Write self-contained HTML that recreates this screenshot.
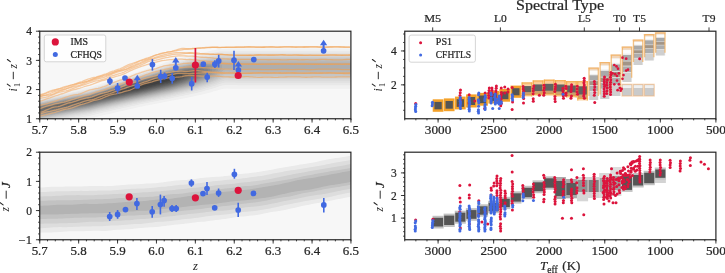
<!DOCTYPE html>
<html><head><meta charset="utf-8"><style>
html,body{margin:0;padding:0;background:#fff;}
svg{display:block;font-family:"Liberation Serif",serif;transform:translateZ(0);}
text{stroke:#262626;stroke-width:0.22px;}
.yl text{stroke-width:0;}
</style></head><body>
<svg width="725" height="273" viewBox="0 0 725 273" fill="#262626">
<defs><clipPath id="cTL"><rect x="39.5" y="31" width="311" height="87.5"/></clipPath><clipPath id="cBL"><rect x="39.5" y="152" width="311" height="87.5"/></clipPath><clipPath id="cTR"><rect x="404.5" y="31" width="311" height="87.5"/></clipPath><clipPath id="cBR"><rect x="404.5" y="152" width="311" height="87.5"/></clipPath><filter id="b1" x="-20%" y="-50%" width="140%" height="200%"><feGaussianBlur stdDeviation="1"/></filter><filter id="b2" x="-20%" y="-50%" width="140%" height="200%"><feGaussianBlur stdDeviation="2"/></filter><filter id="b3" x="-20%" y="-50%" width="140%" height="200%"><feGaussianBlur stdDeviation="3"/></filter><linearGradient id="og" gradientUnits="userSpaceOnUse" x1="150" y1="0" x2="240" y2="0"><stop offset="0" stop-color="#f4b070" stop-opacity="0.62"/><stop offset="1" stop-color="#f0a050" stop-opacity="0.58"/></linearGradient><filter id="b05" x="-20%" y="-50%" width="140%" height="200%"><feGaussianBlur stdDeviation="0.6"/></filter></defs>
<g id="tl">
<rect x="39.5" y="31" width="311" height="87.5" fill="#f7f7f7"/>
</g>
<rect x="39.5" y="152" width="311" height="87.5" fill="#f7f7f7"/>
<rect x="404.5" y="31" width="311" height="87.5" fill="#ffffff"/>
<rect x="404.5" y="152" width="311" height="87.5" fill="#ffffff"/>
<g clip-path="url(#cTL)">
<path d="M28 98.25 L30 98.25 L32 97.75 L34 97.5 L36 97 L38 96.75 L40 96.25 L42 96 L44 95.75 L46 95.25 L48 95 L50 94.5 L52 94.25 L54 93.75 L56 93.5 L58 93 L60 92.75 L62 92.25 L64 92 L66 91.5 L68 91.25 L70 90.75 L72 90.5 L74 90 L76 89.75 L78 89.25 L80 89 L82 88.5 L84 88.25 L86 87.75 L88 87.5 L90 87 L92 86.5 L94 86 L96 85.25 L98 84.75 L100 84.25 L102 83.5 L104 83 L106 82.25 L108 81.75 L110 81 L112 80.5 L114 79.75 L116 79.25 L118 78.5 L120 77.75 L122 77.25 L124 76.5 L126 76 L128 75.25 L130 74.75 L132 74 L134 73.25 L136 72.75 L138 72 L140 71.25 L142 70.75 L144 70 L146 69.25 L148 68.5 L150 68 L152 67.25 L154 66.5 L156 65.75 L158 65 L160 64.5 L162 63.75 L164 63 L166 62.25 L168 61.75 L170 61 L172 60.5 L174 60 L176 59.5 L178 58.75 L180 58.25 L182 57.75 L184 57.25 L186 56.75 L188 56.25 L190 55.75 L192 55.25 L194 54.75 L196 54.25 L198 53.75 L200 53.25 L202 52.75 L204 52.5 L206 52 L208 51.5 L210 51 L212 50.5 L214 50.25 L216 49.75 L218 49.25 L220 48.75 L222 48.75 L224 48.75 L226 48.75 L228 48.75 L230 48.5 L232 48.5 L234 48.5 L236 48.5 L238 48.5 L240 48.5 L242 48.5 L244 48.5 L246 48.5 L248 48.5 L250 48.5 L252 48.5 L254 48.5 L256 48.5 L258 48.5 L260 48.5 L262 48.5 L264 48.5 L266 48.5 L268 48.5 L270 48.5 L272 48.5 L274 48.5 L276 48.5 L278 48.5 L280 48.5 L282 48.5 L284 48.5 L286 48.5 L288 48.5 L290 48.5 L292 48.5 L294 48.5 L296 48.5 L298 48.5 L300 48.5 L302 48.5 L304 48.5 L306 48.5 L308 48.5 L310 48.5 L312 48.5 L314 48.5 L316 48.5 L318 48.5 L320 48.5 L322 48.5 L324 48.5 L326 48.5 L328 48.5 L330 48.5 L332 48.5 L334 48.5 L336 48.5 L338 48.5 L340 48.5 L342 48.5 L344 48.5 L346 48.5 L348 48.5 L350 48.5 L352 48.5 L354 48.5 L356 48.5 L358 48.5 L360 48.5 L362 48.5 L362 88.75 L360 88.75 L358 88.75 L356 88.75 L354 88.75 L352 88.75 L350 88.75 L348 88.75 L346 88.75 L344 88.75 L342 88.75 L340 88.75 L338 88.75 L336 88.75 L334 88.75 L332 88.75 L330 88.75 L328 88.75 L326 88.75 L324 88.75 L322 88.75 L320 88.75 L318 88.75 L316 88.75 L314 88.75 L312 88.75 L310 88.75 L308 88.75 L306 88.75 L304 88.75 L302 88.75 L300 88.75 L298 88.75 L296 88.75 L294 88.75 L292 88.75 L290 88.75 L288 88.75 L286 88.75 L284 88.75 L282 88.75 L280 88.75 L278 88.75 L276 88.75 L274 88.75 L272 88.75 L270 88.75 L268 88.75 L266 88.75 L264 88.75 L262 88.75 L260 88.75 L258 88.75 L256 88.75 L254 88.75 L252 88.75 L250 88.75 L248 88.75 L246 88.75 L244 88.75 L242 88.75 L240 88.75 L238 88.75 L236 88.75 L234 88.75 L232 88.75 L230 88.75 L228 88.5 L226 88.5 L224 88.75 L222 89 L220 89.5 L218 90.25 L216 90.75 L214 91.25 L212 92 L210 92.5 L208 93 L206 93.5 L204 94 L202 94.5 L200 95 L198 95.25 L196 95.75 L194 96.25 L192 96.75 L190 97 L188 97.5 L186 98 L184 98.25 L182 98.75 L180 99 L178 99.5 L176 99.75 L174 100.25 L172 100.5 L170 101 L168 101.25 L166 101.75 L164 102 L162 102.5 L160 103 L158 103.25 L156 103.75 L154 104 L152 104.5 L150 104.75 L148 105.25 L146 105.5 L144 106 L142 106.5 L140 106.75 L138 107.25 L136 107.75 L134 108.25 L132 108.75 L130 109 L128 109.5 L126 110 L124 110.5 L122 111 L120 111.25 L118 111.75 L116 112.25 L114 112.75 L112 113.25 L110 113.75 L108 114.25 L106 114.5 L104 115 L102 115.5 L100 116 L98 116.5 L96 117 L94 117.5 L92 118 L90 118.75 L88 119 L86 119.25 L84 119.5 L82 120 L80 120.25 L78 120.5 L76 120.75 L74 121.25 L72 121.5 L70 121.75 L68 122 L66 122.5 L64 122.75 L62 123 L60 123.25 L58 123.75 L56 124 L54 124.25 L52 124.75 L50 125 L48 125 L46 125 L44 125 L42 125 L40 125 L38 125 L36 125 L34 125 L32 125 L30 125 L28 125Z" fill="#f0f0f0" filter="url(#b05)"/>
<path d="M28 100.5 L30 100.5 L32 100 L34 99.75 L36 99.25 L38 99 L40 98.5 L42 98.25 L44 97.75 L46 97.5 L48 97 L50 96.75 L52 96.25 L54 96 L56 95.5 L58 95 L60 94.75 L62 94.25 L64 94 L66 93.5 L68 93.25 L70 92.75 L72 92.5 L74 92 L76 91.75 L78 91.25 L80 90.75 L82 90.5 L84 90 L86 89.75 L88 89.25 L90 89 L92 88.25 L94 87.75 L96 87.25 L98 86.5 L100 86 L102 85.5 L104 84.75 L106 84 L108 83.5 L110 82.75 L112 82.25 L114 81.5 L116 81 L118 80.25 L120 79.5 L122 79 L124 78.25 L126 77.75 L128 77 L130 76.25 L132 75.75 L134 75 L136 74.5 L138 73.75 L140 73.25 L142 72.5 L144 71.75 L146 71.25 L148 70.5 L150 69.75 L152 69 L154 68.5 L156 67.75 L158 67 L160 66.5 L162 65.75 L164 65 L166 64.5 L168 63.75 L170 63 L172 62.5 L174 62 L176 61.5 L178 61 L180 60.5 L182 60 L184 59.5 L186 59 L188 58.5 L190 58 L192 57.5 L194 57 L196 56.5 L198 56 L200 55.5 L202 55.25 L204 54.75 L206 54.5 L208 54 L210 53.75 L212 53.25 L214 52.75 L216 52.25 L218 52 L220 51.5 L222 51.5 L224 51.5 L226 51.5 L228 51.5 L230 51.5 L232 51.5 L234 51.25 L236 51.25 L238 51.25 L240 51.25 L242 51.25 L244 51.25 L246 51.25 L248 51.25 L250 51.25 L252 51.25 L254 51.25 L256 51.25 L258 51.25 L260 51.25 L262 51.25 L264 51.25 L266 51.25 L268 51.25 L270 51.25 L272 51.25 L274 51.25 L276 51.25 L278 51.25 L280 51.25 L282 51.25 L284 51.25 L286 51.25 L288 51.25 L290 51.25 L292 51.25 L294 51.25 L296 51.25 L298 51.25 L300 51.25 L302 51.25 L304 51.25 L306 51.25 L308 51.25 L310 51.25 L312 51.25 L314 51.25 L316 51.25 L318 51.25 L320 51.25 L322 51.25 L324 51.25 L326 51.25 L328 51.25 L330 51.25 L332 51.25 L334 51.25 L336 51.25 L338 51.25 L340 51.25 L342 51.25 L344 51.25 L346 51.25 L348 51.25 L350 51.25 L352 51.25 L354 51.25 L356 51.25 L358 51.25 L360 51.25 L362 51.25 L362 85.25 L360 85.25 L358 85.25 L356 85.25 L354 85.25 L352 85.25 L350 85.25 L348 85.25 L346 85.25 L344 85.25 L342 85.25 L340 85.25 L338 85.25 L336 85.25 L334 85.25 L332 85.25 L330 85.25 L328 85.25 L326 85.25 L324 85.25 L322 85.25 L320 85.25 L318 85.25 L316 85.25 L314 85.25 L312 85.25 L310 85.25 L308 85.25 L306 85.25 L304 85.25 L302 85.25 L300 85.25 L298 85.25 L296 85.25 L294 85.25 L292 85.25 L290 85.25 L288 85.25 L286 85.25 L284 85.25 L282 85.25 L280 85.25 L278 85.25 L276 85.25 L274 85.25 L272 85.25 L270 85.25 L268 85.25 L266 85.25 L264 85.25 L262 85.25 L260 85.25 L258 85.25 L256 85.25 L254 85.25 L252 85.25 L250 85.25 L248 85.25 L246 85.25 L244 85.25 L242 85.25 L240 85.25 L238 85.25 L236 85 L234 85 L232 85 L230 85 L228 85 L226 85 L224 85.25 L222 85.5 L220 86 L218 86.75 L216 87.5 L214 88 L212 88.75 L210 89.25 L208 89.75 L206 90.25 L204 91 L202 91.5 L200 92 L198 92.5 L196 93 L194 93.5 L192 93.75 L190 94.25 L188 94.75 L186 95 L184 95.5 L182 96 L180 96.25 L178 96.75 L176 97.25 L174 97.5 L172 98 L170 98.5 L168 98.75 L166 99.25 L164 99.5 L162 100 L160 100.25 L158 100.75 L156 101.25 L154 101.5 L152 102 L150 102.25 L148 102.75 L146 103.25 L144 103.5 L142 104 L140 104.25 L138 104.75 L136 105.25 L134 105.75 L132 106 L130 106.5 L128 107 L126 107.5 L124 107.75 L122 108.25 L120 108.75 L118 109.25 L116 109.5 L114 110 L112 110.5 L110 111 L108 111.5 L106 111.75 L104 112.25 L102 112.75 L100 113.25 L98 113.75 L96 114.25 L94 114.75 L92 115.25 L90 115.75 L88 116.25 L86 116.5 L84 116.75 L82 117 L80 117.5 L78 117.75 L76 118 L74 118.5 L72 118.75 L70 119 L68 119.25 L66 119.75 L64 120 L62 120.25 L60 120.75 L58 121 L56 121.25 L54 121.75 L52 122 L50 122.25 L48 122.5 L46 123 L44 123.25 L42 123.5 L40 124 L38 124.25 L36 124.5 L34 125 L32 125 L30 125 L28 125Z" fill="#e8e8e8" filter="url(#b05)"/>
<path d="M28 101.75 L30 101.75 L32 101.5 L34 101 L36 100.5 L38 100.25 L40 99.75 L42 99.5 L44 99 L46 98.75 L48 98.25 L50 98 L52 97.5 L54 97.25 L56 96.75 L58 96.25 L60 96 L62 95.5 L64 95.25 L66 94.75 L68 94.5 L70 94 L72 93.5 L74 93.25 L76 92.75 L78 92.5 L80 92 L82 91.5 L84 91.25 L86 90.75 L88 90.5 L90 90 L92 89.5 L94 88.75 L96 88.25 L98 87.75 L100 87.25 L102 86.5 L104 85.75 L106 85.25 L108 84.5 L110 84 L112 83.25 L114 82.75 L116 82 L118 81.25 L120 80.75 L122 80 L124 79.5 L126 78.75 L128 78.25 L130 77.5 L132 76.75 L134 76.25 L136 75.5 L138 75 L140 74.25 L142 73.75 L144 73 L146 72.25 L148 71.75 L150 71 L152 70.25 L154 69.75 L156 69 L158 68.25 L160 67.75 L162 67 L164 66.25 L166 65.75 L168 65 L170 64.5 L172 64 L174 63.5 L176 63 L178 62.5 L180 62 L182 61.5 L184 61 L186 60.5 L188 60 L190 59.5 L192 59 L194 58.5 L196 58 L198 57.5 L200 57.25 L202 56.75 L204 56.5 L206 56 L208 55.75 L210 55.25 L212 55 L214 54.5 L216 54.25 L218 53.75 L220 53.25 L222 53.25 L224 53.5 L226 53.5 L228 53.5 L230 53.25 L232 53.25 L234 53.25 L236 53.25 L238 53.25 L240 53.25 L242 53.25 L244 53.25 L246 53.25 L248 53.25 L250 53.25 L252 53.25 L254 53.25 L256 53.25 L258 53.25 L260 53.25 L262 53.25 L264 53.25 L266 53.25 L268 53.25 L270 53.25 L272 53.25 L274 53.25 L276 53.25 L278 53.25 L280 53.25 L282 53.25 L284 53.25 L286 53.25 L288 53.25 L290 53.25 L292 53.25 L294 53.25 L296 53.25 L298 53.25 L300 53.25 L302 53.25 L304 53.25 L306 53.25 L308 53.25 L310 53.25 L312 53.25 L314 53.25 L316 53.25 L318 53.25 L320 53.25 L322 53.25 L324 53.25 L326 53.25 L328 53.25 L330 53.25 L332 53.25 L334 53.25 L336 53.25 L338 53.25 L340 53.25 L342 53.25 L344 53.25 L346 53.25 L348 53.25 L350 53.25 L352 53.25 L354 53.25 L356 53.25 L358 53.25 L360 53.25 L362 53.25 L362 82.75 L360 82.75 L358 82.75 L356 82.75 L354 82.75 L352 82.75 L350 82.75 L348 82.75 L346 82.75 L344 82.75 L342 82.75 L340 82.75 L338 82.75 L336 82.75 L334 82.75 L332 82.75 L330 82.75 L328 82.75 L326 82.75 L324 82.75 L322 82.75 L320 82.75 L318 82.75 L316 82.75 L314 82.75 L312 82.75 L310 82.75 L308 82.75 L306 82.75 L304 82.75 L302 82.75 L300 82.75 L298 82.75 L296 82.75 L294 82.75 L292 82.75 L290 82.75 L288 82.75 L286 82.75 L284 82.75 L282 82.75 L280 82.75 L278 82.75 L276 82.75 L274 82.75 L272 82.75 L270 82.75 L268 82.75 L266 82.75 L264 82.75 L262 82.75 L260 82.75 L258 82.75 L256 82.75 L254 82.75 L252 82.75 L250 82.75 L248 82.75 L246 82.75 L244 82.75 L242 82.75 L240 82.75 L238 82.75 L236 82.75 L234 82.5 L232 82.5 L230 82.5 L228 82.5 L226 82.5 L224 82.75 L222 83.25 L220 83.75 L218 84.5 L216 85.25 L214 86 L212 86.5 L210 87.25 L208 87.75 L206 88.25 L204 89 L202 89.5 L200 90 L198 90.5 L196 91 L194 91.5 L192 92 L190 92.5 L188 92.75 L186 93.25 L184 93.75 L182 94.25 L180 94.5 L178 95 L176 95.5 L174 96 L172 96.25 L170 96.75 L168 97.25 L166 97.5 L164 98 L162 98.25 L160 98.75 L158 99.25 L156 99.5 L154 100 L152 100.25 L150 100.75 L148 101.25 L146 101.5 L144 102 L142 102.25 L140 102.75 L138 103.25 L136 103.75 L134 104 L132 104.5 L130 105 L128 105.25 L126 105.75 L124 106.25 L122 106.75 L120 107 L118 107.5 L116 108 L114 108.5 L112 108.75 L110 109.25 L108 109.75 L106 110.25 L104 110.5 L102 111 L100 111.5 L98 112 L96 112.5 L94 113 L92 113.5 L90 114 L88 114.5 L86 114.75 L84 115 L82 115.5 L80 115.75 L78 116 L76 116.25 L74 116.75 L72 117 L70 117.25 L68 117.75 L66 118 L64 118.25 L62 118.75 L60 119 L58 119.25 L56 119.75 L54 120 L52 120.25 L50 120.75 L48 121 L46 121.25 L44 121.75 L42 122 L40 122.25 L38 122.75 L36 123 L34 123.25 L32 123.75 L30 124 L28 124Z" fill="#e1e1e1" filter="url(#b05)"/>
<path d="M28 102.75 L30 102.75 L32 102.25 L34 102 L36 101.5 L38 101.25 L40 100.75 L42 100.5 L44 100 L46 99.5 L48 99.25 L50 98.75 L52 98.5 L54 98 L56 97.75 L58 97.25 L60 96.75 L62 96.5 L64 96 L66 95.75 L68 95.25 L70 94.75 L72 94.5 L74 94 L76 93.75 L78 93.25 L80 92.75 L82 92.5 L84 92 L86 91.75 L88 91.25 L90 90.75 L92 90.25 L94 89.75 L96 89 L98 88.5 L100 88 L102 87.25 L104 86.75 L106 86 L108 85.5 L110 84.75 L112 84 L114 83.5 L116 82.75 L118 82.25 L120 81.5 L122 81 L124 80.25 L126 79.5 L128 79 L130 78.25 L132 77.75 L134 77 L136 76.5 L138 75.75 L140 75.25 L142 74.5 L144 73.75 L146 73.25 L148 72.5 L150 72 L152 71.25 L154 70.75 L156 70 L158 69.25 L160 68.75 L162 68 L164 67.25 L166 66.75 L168 66 L170 65.5 L172 65 L174 64.5 L176 64 L178 63.5 L180 63 L182 62.5 L184 62 L186 61.5 L188 61 L190 60.5 L192 60.25 L194 59.75 L196 59.25 L198 58.75 L200 58.25 L202 58 L204 57.75 L206 57.5 L208 57 L210 56.75 L212 56.25 L214 56 L216 55.5 L218 55.25 L220 54.75 L222 55 L224 55 L226 55 L228 55 L230 55 L232 54.75 L234 54.75 L236 54.75 L238 54.75 L240 54.75 L242 54.75 L244 54.75 L246 54.75 L248 54.75 L250 54.75 L252 54.75 L254 54.75 L256 54.75 L258 54.75 L260 54.75 L262 54.75 L264 54.75 L266 54.75 L268 54.75 L270 54.75 L272 54.75 L274 54.75 L276 54.75 L278 54.75 L280 54.75 L282 54.75 L284 54.75 L286 54.75 L288 54.75 L290 54.75 L292 54.75 L294 54.75 L296 54.75 L298 54.75 L300 54.75 L302 54.75 L304 54.75 L306 54.75 L308 54.75 L310 54.75 L312 54.75 L314 54.75 L316 54.75 L318 54.75 L320 54.75 L322 54.75 L324 54.75 L326 54.75 L328 54.75 L330 54.75 L332 54.75 L334 54.75 L336 54.75 L338 54.75 L340 54.75 L342 54.75 L344 54.75 L346 54.75 L348 54.75 L350 54.75 L352 54.75 L354 54.75 L356 54.75 L358 54.75 L360 54.75 L362 54.75 L362 80.75 L360 80.75 L358 80.75 L356 80.75 L354 80.75 L352 80.75 L350 80.75 L348 80.75 L346 80.75 L344 80.75 L342 80.75 L340 80.75 L338 80.75 L336 80.75 L334 80.75 L332 80.75 L330 80.75 L328 80.75 L326 80.75 L324 80.75 L322 80.75 L320 80.75 L318 80.75 L316 80.75 L314 80.75 L312 80.75 L310 80.75 L308 80.75 L306 80.75 L304 80.75 L302 80.75 L300 80.75 L298 80.75 L296 80.75 L294 80.75 L292 80.75 L290 80.75 L288 80.75 L286 80.75 L284 80.75 L282 80.75 L280 80.75 L278 80.75 L276 80.75 L274 80.75 L272 80.75 L270 80.75 L268 80.75 L266 80.75 L264 80.75 L262 80.75 L260 80.75 L258 80.75 L256 80.75 L254 80.75 L252 80.75 L250 80.75 L248 80.75 L246 80.75 L244 80.75 L242 80.75 L240 80.75 L238 80.75 L236 80.5 L234 80.5 L232 80.5 L230 80.5 L228 80.5 L226 80.25 L224 80.75 L222 81.25 L220 81.75 L218 82.75 L216 83.5 L214 84.25 L212 84.75 L210 85.5 L208 86.25 L206 86.75 L204 87.25 L202 87.75 L200 88.5 L198 89 L196 89.5 L194 90 L192 90.5 L190 91 L188 91.5 L186 92 L184 92.25 L182 92.75 L180 93.25 L178 93.75 L176 94.25 L174 94.5 L172 95 L170 95.5 L168 95.75 L166 96.25 L164 96.75 L162 97 L160 97.5 L158 98 L156 98.25 L154 98.75 L152 99 L150 99.5 L148 100 L146 100.25 L144 100.75 L142 101.25 L140 101.5 L138 102 L136 102.5 L134 102.75 L132 103.25 L130 103.75 L128 104.25 L126 104.5 L124 105 L122 105.5 L120 105.75 L118 106.25 L116 106.75 L114 107.25 L112 107.5 L110 108 L108 108.5 L106 109 L104 109.25 L102 109.75 L100 110.25 L98 110.75 L96 111.25 L94 111.75 L92 112.25 L90 112.75 L88 113 L86 113.5 L84 113.75 L82 114 L80 114.5 L78 114.75 L76 115 L74 115.5 L72 115.75 L70 116 L68 116.5 L66 116.75 L64 117 L62 117.5 L60 117.75 L58 118.25 L56 118.5 L54 118.75 L52 119.25 L50 119.5 L48 119.75 L46 120.25 L44 120.5 L42 120.75 L40 121.25 L38 121.5 L36 121.75 L34 122.25 L32 122.5 L30 122.75 L28 122.75Z" fill="#dadada" filter="url(#b05)"/>
<path d="M28 103.5 L30 103.5 L32 103.25 L34 102.75 L36 102.25 L38 102 L40 101.5 L42 101.25 L44 100.75 L46 100.25 L48 100 L50 99.5 L52 99.25 L54 98.75 L56 98.25 L58 98 L60 97.5 L62 97.25 L64 96.75 L66 96.25 L68 96 L70 95.5 L72 95.25 L74 94.75 L76 94.25 L78 94 L80 93.5 L82 93.25 L84 92.75 L86 92.25 L88 92 L90 91.5 L92 91 L94 90.25 L96 89.75 L98 89.25 L100 88.5 L102 88 L104 87.25 L106 86.75 L108 86 L110 85.5 L112 84.75 L114 84.25 L116 83.5 L118 82.75 L120 82.25 L122 81.5 L124 81 L126 80.25 L128 79.75 L130 79 L132 78.5 L134 77.75 L136 77 L138 76.5 L140 75.75 L142 75.25 L144 74.5 L146 74 L148 73.25 L150 72.75 L152 72 L154 71.5 L156 70.75 L158 70 L160 69.5 L162 68.75 L164 68.25 L166 67.5 L168 67 L170 66.25 L172 65.75 L174 65.25 L176 64.75 L178 64.25 L180 64 L182 63.5 L184 63 L186 62.5 L188 62 L190 61.5 L192 61 L194 60.5 L196 60.25 L198 59.75 L200 59.25 L202 59 L204 58.75 L206 58.5 L208 58.25 L210 57.75 L212 57.5 L214 57.25 L216 56.75 L218 56.5 L220 56.25 L222 56.25 L224 56.25 L226 56.5 L228 56.25 L230 56.25 L232 56.25 L234 56.25 L236 56.25 L238 56 L240 56 L242 56 L244 56 L246 56 L248 56 L250 56 L252 56 L254 56 L256 56 L258 56 L260 56 L262 56 L264 56 L266 56 L268 56 L270 56 L272 56 L274 56 L276 56 L278 56 L280 56 L282 56 L284 56 L286 56 L288 56 L290 56 L292 56 L294 56 L296 56 L298 56 L300 56 L302 56 L304 56 L306 56 L308 56 L310 56 L312 56 L314 56 L316 56 L318 56 L320 56 L322 56 L324 56 L326 56 L328 56 L330 56 L332 56 L334 56 L336 56 L338 56 L340 56 L342 56 L344 56 L346 56 L348 56 L350 56 L352 56 L354 56 L356 56 L358 56 L360 56 L362 56 L362 79 L360 79 L358 79 L356 79 L354 79 L352 79 L350 79 L348 79 L346 79 L344 79 L342 79 L340 79 L338 79 L336 79 L334 79 L332 79 L330 79 L328 79 L326 79 L324 79 L322 79 L320 79 L318 79 L316 79 L314 79 L312 79 L310 79 L308 79 L306 79 L304 79 L302 79 L300 79 L298 79 L296 79 L294 79 L292 79 L290 79 L288 79 L286 79 L284 79 L282 79 L280 79 L278 79 L276 79 L274 79 L272 79 L270 79 L268 79 L266 79 L264 79 L262 79 L260 79 L258 79 L256 79 L254 79 L252 79 L250 79 L248 79 L246 79 L244 79 L242 79 L240 79 L238 79 L236 78.75 L234 78.75 L232 78.75 L230 78.75 L228 78.5 L226 78.5 L224 78.75 L222 79.5 L220 80.25 L218 81 L216 82 L214 82.75 L212 83.5 L210 84 L208 84.75 L206 85.25 L204 86 L202 86.5 L200 87 L198 87.75 L196 88.25 L194 88.75 L192 89.25 L190 89.75 L188 90.25 L186 90.75 L184 91.25 L182 91.75 L180 92.25 L178 92.5 L176 93 L174 93.5 L172 94 L170 94.5 L168 94.75 L166 95.25 L164 95.75 L162 96 L160 96.5 L158 97 L156 97.25 L154 97.75 L152 98 L150 98.5 L148 99 L146 99.25 L144 99.75 L142 100.25 L140 100.5 L138 101 L136 101.5 L134 101.75 L132 102.25 L130 102.75 L128 103.25 L126 103.5 L124 104 L122 104.5 L120 104.75 L118 105.25 L116 105.75 L114 106.25 L112 106.5 L110 107 L108 107.5 L106 108 L104 108.25 L102 108.75 L100 109.25 L98 109.75 L96 110.25 L94 110.75 L92 111.25 L90 111.75 L88 112 L86 112.5 L84 112.75 L82 113 L80 113.5 L78 113.75 L76 114 L74 114.5 L72 114.75 L70 115 L68 115.5 L66 115.75 L64 116.25 L62 116.5 L60 116.75 L58 117.25 L56 117.5 L54 117.75 L52 118.25 L50 118.5 L48 118.75 L46 119.25 L44 119.5 L42 119.75 L40 120.25 L38 120.5 L36 120.75 L34 121.25 L32 121.5 L30 122 L28 122Z" fill="#d3d3d3" filter="url(#b05)"/>
<path d="M28 104.25 L30 104.25 L32 103.75 L34 103.5 L36 103 L38 102.5 L40 102.25 L42 101.75 L44 101.5 L46 101 L48 100.5 L50 100.25 L52 99.75 L54 99.25 L56 99 L58 98.5 L60 98.25 L62 97.75 L64 97.25 L66 97 L68 96.5 L70 96.25 L72 95.75 L74 95.25 L76 95 L78 94.5 L80 94.25 L82 93.75 L84 93.25 L86 93 L88 92.5 L90 92 L92 91.5 L94 91 L96 90.25 L98 89.75 L100 89.25 L102 88.5 L104 88 L106 87.25 L108 86.75 L110 86 L112 85.25 L114 84.75 L116 84 L118 83.5 L120 82.75 L122 82.25 L124 81.5 L126 81 L128 80.25 L130 79.5 L132 79 L134 78.25 L136 77.75 L138 77 L140 76.5 L142 75.75 L144 75.25 L146 74.5 L148 74 L150 73.25 L152 72.75 L154 72 L156 71.5 L158 70.75 L160 70.25 L162 69.5 L164 69 L166 68.25 L168 67.75 L170 67 L172 66.5 L174 66 L176 65.5 L178 65.25 L180 64.75 L182 64.25 L184 63.75 L186 63.25 L188 62.75 L190 62.25 L192 62 L194 61.5 L196 61 L198 60.75 L200 60.25 L202 60 L204 59.75 L206 59.5 L208 59.25 L210 58.75 L212 58.5 L214 58.25 L216 58 L218 57.75 L220 57.25 L222 57.5 L224 57.5 L226 57.75 L228 57.75 L230 57.5 L232 57.5 L234 57.5 L236 57.5 L238 57.5 L240 57.25 L242 57.25 L244 57.25 L246 57.25 L248 57.25 L250 57.25 L252 57.25 L254 57.25 L256 57.25 L258 57.25 L260 57.25 L262 57.25 L264 57.25 L266 57.25 L268 57.25 L270 57.25 L272 57.25 L274 57.25 L276 57.25 L278 57.25 L280 57.25 L282 57.25 L284 57.25 L286 57.25 L288 57.25 L290 57.25 L292 57.25 L294 57.25 L296 57.25 L298 57.25 L300 57.25 L302 57.25 L304 57.25 L306 57.25 L308 57.25 L310 57.25 L312 57.25 L314 57.25 L316 57.25 L318 57.25 L320 57.25 L322 57.25 L324 57.25 L326 57.25 L328 57.25 L330 57.25 L332 57.25 L334 57.25 L336 57.25 L338 57.25 L340 57.25 L342 57.25 L344 57.25 L346 57.25 L348 57.25 L350 57.25 L352 57.25 L354 57.25 L356 57.25 L358 57.25 L360 57.25 L362 57.25 L362 77.25 L360 77.25 L358 77.25 L356 77.25 L354 77.25 L352 77.25 L350 77.25 L348 77.25 L346 77.25 L344 77.25 L342 77.25 L340 77.25 L338 77.25 L336 77.25 L334 77.25 L332 77.25 L330 77.25 L328 77.25 L326 77.25 L324 77.25 L322 77.25 L320 77.25 L318 77.25 L316 77.25 L314 77.25 L312 77.25 L310 77.25 L308 77.25 L306 77.25 L304 77.25 L302 77.25 L300 77.25 L298 77.25 L296 77.25 L294 77.25 L292 77.25 L290 77.25 L288 77.25 L286 77.25 L284 77.25 L282 77.25 L280 77.25 L278 77.25 L276 77.25 L274 77.25 L272 77.25 L270 77.25 L268 77.25 L266 77.25 L264 77.25 L262 77.25 L260 77.25 L258 77.25 L256 77.25 L254 77.25 L252 77.25 L250 77.25 L248 77.25 L246 77.25 L244 77.25 L242 77.25 L240 77.25 L238 77.25 L236 77.25 L234 77 L232 77 L230 77 L228 77 L226 76.75 L224 77.25 L222 78 L220 78.75 L218 79.5 L216 80.5 L214 81.25 L212 82 L210 82.75 L208 83.5 L206 84.25 L204 84.75 L202 85.5 L200 86 L198 86.5 L196 87.25 L194 87.75 L192 88.25 L190 88.75 L188 89.25 L186 89.75 L184 90.25 L182 90.75 L180 91.25 L178 91.75 L176 92 L174 92.5 L172 93 L170 93.5 L168 94 L166 94.25 L164 94.75 L162 95.25 L160 95.5 L158 96 L156 96.5 L154 96.75 L152 97.25 L150 97.75 L148 98 L146 98.5 L144 99 L142 99.25 L140 99.75 L138 100.25 L136 100.5 L134 101 L132 101.5 L130 101.75 L128 102.25 L126 102.75 L124 103.25 L122 103.5 L120 104 L118 104.5 L116 105 L114 105.25 L112 105.75 L110 106.25 L108 106.5 L106 107 L104 107.5 L102 108 L100 108.25 L98 108.75 L96 109.25 L94 109.75 L92 110.25 L90 111 L88 111.25 L86 111.5 L84 112 L82 112.25 L80 112.5 L78 113 L76 113.25 L74 113.5 L72 114 L70 114.25 L68 114.5 L66 115 L64 115.25 L62 115.75 L60 116 L58 116.25 L56 116.75 L54 117 L52 117.25 L50 117.75 L48 118 L46 118.25 L44 118.75 L42 119 L40 119.25 L38 119.75 L36 120 L34 120.5 L32 120.75 L30 121 L28 121Z" fill="#cbcbcb" filter="url(#b05)"/>
<path d="M28 104.75 L30 104.75 L32 104.25 L34 104 L36 103.5 L38 103.25 L40 102.75 L42 102.25 L44 102 L46 101.5 L48 101 L50 100.75 L52 100.25 L54 100 L56 99.5 L58 99 L60 98.75 L62 98.25 L64 98 L66 97.5 L68 97 L70 96.75 L72 96.25 L74 95.75 L76 95.5 L78 95 L80 94.75 L82 94.25 L84 93.75 L86 93.5 L88 93 L90 92.5 L92 92 L94 91.5 L96 90.75 L98 90.25 L100 89.75 L102 89 L104 88.5 L106 87.75 L108 87.25 L110 86.5 L112 85.75 L114 85.25 L116 84.5 L118 84 L120 83.25 L122 82.75 L124 82 L126 81.5 L128 80.75 L130 80.25 L132 79.5 L134 79 L136 78.25 L138 77.75 L140 77 L142 76.5 L144 75.75 L146 75.25 L148 74.5 L150 74 L152 73.25 L154 72.75 L156 72 L158 71.5 L160 70.75 L162 70.25 L164 69.5 L166 69 L168 68.25 L170 67.75 L172 67.25 L174 66.75 L176 66.25 L178 65.75 L180 65.25 L182 65 L184 64.5 L186 64 L188 63.5 L190 63 L192 62.75 L194 62.25 L196 61.75 L198 61.5 L200 61 L202 60.75 L204 60.5 L206 60.25 L208 60 L210 59.75 L212 59.5 L214 59.25 L216 59 L218 58.75 L220 58.5 L222 58.75 L224 58.75 L226 59 L228 59 L230 58.75 L232 58.75 L234 58.75 L236 58.75 L238 58.5 L240 58.5 L242 58.5 L244 58.5 L246 58.5 L248 58.5 L250 58.5 L252 58.5 L254 58.5 L256 58.5 L258 58.5 L260 58.5 L262 58.5 L264 58.5 L266 58.5 L268 58.5 L270 58.5 L272 58.5 L274 58.5 L276 58.5 L278 58.5 L280 58.5 L282 58.5 L284 58.5 L286 58.5 L288 58.5 L290 58.5 L292 58.5 L294 58.5 L296 58.5 L298 58.5 L300 58.5 L302 58.5 L304 58.5 L306 58.5 L308 58.5 L310 58.5 L312 58.5 L314 58.5 L316 58.5 L318 58.5 L320 58.5 L322 58.5 L324 58.5 L326 58.5 L328 58.5 L330 58.5 L332 58.5 L334 58.5 L336 58.5 L338 58.5 L340 58.5 L342 58.5 L344 58.5 L346 58.5 L348 58.5 L350 58.5 L352 58.5 L354 58.5 L356 58.5 L358 58.5 L360 58.5 L362 58.5 L362 75.75 L360 75.75 L358 75.75 L356 75.75 L354 75.75 L352 75.75 L350 75.75 L348 75.75 L346 75.75 L344 75.75 L342 75.75 L340 75.75 L338 75.75 L336 75.75 L334 75.75 L332 75.75 L330 75.75 L328 75.75 L326 75.75 L324 75.75 L322 75.75 L320 75.75 L318 75.75 L316 75.75 L314 75.75 L312 75.75 L310 75.75 L308 75.75 L306 75.75 L304 75.75 L302 75.75 L300 75.75 L298 75.75 L296 75.75 L294 75.75 L292 75.75 L290 75.75 L288 75.75 L286 75.75 L284 75.75 L282 75.75 L280 75.75 L278 75.75 L276 75.75 L274 75.75 L272 75.75 L270 75.75 L268 75.75 L266 75.75 L264 75.75 L262 75.75 L260 75.75 L258 75.75 L256 75.75 L254 75.75 L252 75.75 L250 75.75 L248 75.75 L246 75.75 L244 75.75 L242 75.75 L240 75.75 L238 75.75 L236 75.5 L234 75.5 L232 75.5 L230 75.25 L228 75.25 L226 75.25 L224 75.5 L222 76.5 L220 77.25 L218 78.25 L216 79.25 L214 80 L212 81 L210 81.75 L208 82.25 L206 83 L204 83.75 L202 84.25 L200 85 L198 85.5 L196 86.25 L194 86.75 L192 87.25 L190 87.75 L188 88.25 L186 88.75 L184 89.25 L182 89.75 L180 90.25 L178 90.75 L176 91.25 L174 91.75 L172 92.25 L170 92.75 L168 93 L166 93.5 L164 94 L162 94.25 L160 94.75 L158 95.25 L156 95.5 L154 96 L152 96.5 L150 97 L148 97.25 L146 97.75 L144 98.25 L142 98.5 L140 99 L138 99.5 L136 99.75 L134 100.25 L132 100.75 L130 101 L128 101.5 L126 102 L124 102.5 L122 102.75 L120 103.25 L118 103.75 L116 104 L114 104.5 L112 105 L110 105.5 L108 105.75 L106 106.25 L104 106.75 L102 107.25 L100 107.5 L98 108 L96 108.5 L94 109 L92 109.5 L90 110 L88 110.5 L86 110.75 L84 111.25 L82 111.5 L80 111.75 L78 112.25 L76 112.5 L74 112.75 L72 113.25 L70 113.5 L68 113.75 L66 114.25 L64 114.5 L62 115 L60 115.25 L58 115.5 L56 116 L54 116.25 L52 116.5 L50 117 L48 117.25 L46 117.5 L44 118 L42 118.25 L40 118.75 L38 119 L36 119.25 L34 119.75 L32 120 L30 120.25 L28 120.25Z" fill="#c4c4c4" filter="url(#b05)"/>
<path d="M28 105.25 L30 105.25 L32 104.75 L34 104.5 L36 104 L38 103.75 L40 103.25 L42 102.75 L44 102.5 L46 102 L48 101.5 L50 101.25 L52 100.75 L54 100.5 L56 100 L58 99.5 L60 99.25 L62 98.75 L64 98.25 L66 98 L68 97.5 L70 97.25 L72 96.75 L74 96.25 L76 96 L78 95.5 L80 95 L82 94.75 L84 94.25 L86 94 L88 93.5 L90 93 L92 92.5 L94 92 L96 91.25 L98 90.75 L100 90.25 L102 89.5 L104 89 L106 88.25 L108 87.5 L110 87 L112 86.25 L114 85.75 L116 85 L118 84.5 L120 83.75 L122 83.25 L124 82.5 L126 82 L128 81.25 L130 80.5 L132 80 L134 79.5 L136 78.75 L138 78.25 L140 77.5 L142 77 L144 76.25 L146 75.75 L148 75 L150 74.5 L152 73.75 L154 73.25 L156 72.5 L158 72 L160 71.25 L162 70.75 L164 70 L166 69.5 L168 68.75 L170 68.25 L172 67.75 L174 67.25 L176 67 L178 66.5 L180 66 L182 65.5 L184 65 L186 64.75 L188 64.25 L190 63.75 L192 63.25 L194 63 L196 62.5 L198 62.25 L200 61.75 L202 61.5 L204 61.25 L206 61 L208 60.75 L210 60.75 L212 60.5 L214 60.25 L216 60 L218 59.75 L220 59.5 L222 59.75 L224 60.25 L226 60.25 L228 60.25 L230 60.25 L232 60 L234 60 L236 60 L238 60 L240 59.75 L242 59.75 L244 59.75 L246 59.75 L248 59.75 L250 59.75 L252 59.75 L254 59.75 L256 59.75 L258 59.75 L260 59.75 L262 59.75 L264 59.75 L266 59.75 L268 59.75 L270 59.75 L272 59.75 L274 59.75 L276 59.75 L278 59.75 L280 59.75 L282 59.75 L284 59.75 L286 59.75 L288 59.75 L290 59.75 L292 59.75 L294 59.75 L296 59.75 L298 59.75 L300 59.75 L302 59.75 L304 59.75 L306 59.75 L308 59.75 L310 59.75 L312 59.75 L314 59.75 L316 59.75 L318 59.75 L320 59.75 L322 59.75 L324 59.75 L326 59.75 L328 59.75 L330 59.75 L332 59.75 L334 59.75 L336 59.75 L338 59.75 L340 59.75 L342 59.75 L344 59.75 L346 59.75 L348 59.75 L350 59.75 L352 59.75 L354 59.75 L356 59.75 L358 59.75 L360 59.75 L362 59.75 L362 74 L360 74 L358 74 L356 74 L354 74 L352 74 L350 74 L348 74 L346 74 L344 74 L342 74 L340 74 L338 74 L336 74 L334 74 L332 74 L330 74 L328 74 L326 74 L324 74 L322 74 L320 74 L318 74 L316 74 L314 74 L312 74 L310 74 L308 74 L306 74 L304 74 L302 74 L300 74 L298 74 L296 74 L294 74 L292 74 L290 74 L288 74 L286 74 L284 74 L282 74 L280 74 L278 74 L276 74 L274 74 L272 74 L270 74 L268 74 L266 74 L264 74 L262 74 L260 74 L258 74 L256 74 L254 74 L252 74 L250 74 L248 74 L246 74 L244 74 L242 74 L240 74 L238 74 L236 74 L234 73.75 L232 73.75 L230 73.5 L228 73.5 L226 73.5 L224 74 L222 75 L220 75.75 L218 77 L216 78 L214 78.75 L212 79.75 L210 80.5 L208 81.25 L206 82 L204 82.75 L202 83.25 L200 84 L198 84.75 L196 85.25 L194 86 L192 86.5 L190 87 L188 87.5 L186 88 L184 88.5 L182 89 L180 89.5 L178 90 L176 90.5 L174 91 L172 91.5 L170 92 L168 92.25 L166 92.75 L164 93.25 L162 93.5 L160 94 L158 94.5 L156 95 L154 95.25 L152 95.75 L150 96.25 L148 96.5 L146 97 L144 97.5 L142 97.75 L140 98.25 L138 98.75 L136 99 L134 99.5 L132 100 L130 100.5 L128 100.75 L126 101.25 L124 101.75 L122 102 L120 102.5 L118 103 L116 103.5 L114 103.75 L112 104.25 L110 104.75 L108 105.25 L106 105.5 L104 106 L102 106.5 L100 107 L98 107.5 L96 108 L94 108.5 L92 109 L90 109.5 L88 109.75 L86 110 L84 110.5 L82 110.75 L80 111.25 L78 111.5 L76 111.75 L74 112.25 L72 112.5 L70 112.75 L68 113.25 L66 113.5 L64 113.75 L62 114.25 L60 114.5 L58 115 L56 115.25 L54 115.5 L52 116 L50 116.25 L48 116.5 L46 117 L44 117.25 L42 117.75 L40 118 L38 118.25 L36 118.75 L34 119 L32 119.25 L30 119.75 L28 119.75Z" fill="#bdbdbd" filter="url(#b05)"/>
<path d="M28 105.75 L30 105.75 L32 105.25 L34 105 L36 104.5 L38 104 L40 103.75 L42 103.25 L44 103 L46 102.5 L48 102 L50 101.75 L52 101.25 L54 100.75 L56 100.5 L58 100 L60 99.5 L62 99.25 L64 98.75 L66 98.5 L68 98 L70 97.5 L72 97.25 L74 96.75 L76 96.25 L78 96 L80 95.5 L82 95.25 L84 94.75 L86 94.25 L88 94 L90 93.5 L92 93 L94 92.25 L96 91.75 L98 91.25 L100 90.5 L102 90 L104 89.25 L106 88.75 L108 88 L110 87.5 L112 86.75 L114 86.25 L116 85.5 L118 84.75 L120 84.25 L122 83.5 L124 83 L126 82.25 L128 81.75 L130 81 L132 80.5 L134 79.75 L136 79.25 L138 78.5 L140 78 L142 77.5 L144 76.75 L146 76.25 L148 75.5 L150 75 L152 74.25 L154 73.75 L156 73 L158 72.5 L160 71.75 L162 71.25 L164 70.5 L166 70 L168 69.5 L170 68.75 L172 68.25 L174 68 L176 67.5 L178 67 L180 66.5 L182 66 L184 65.75 L186 65.25 L188 64.75 L190 64.5 L192 64 L194 63.5 L196 63.25 L198 62.75 L200 62.5 L202 62.25 L204 62 L206 62 L208 61.75 L210 61.5 L212 61.25 L214 61.25 L216 61 L218 61 L220 60.75 L222 61.25 L224 61.5 L226 61.75 L228 61.75 L230 61.75 L232 61.5 L234 61.5 L236 61.25 L238 61.25 L240 61.25 L242 61.25 L244 61.25 L246 61.25 L248 61.25 L250 61.25 L252 61.25 L254 61.25 L256 61.25 L258 61.25 L260 61.25 L262 61.25 L264 61.25 L266 61.25 L268 61.25 L270 61.25 L272 61.25 L274 61.25 L276 61.25 L278 61.25 L280 61.25 L282 61.25 L284 61.25 L286 61.25 L288 61.25 L290 61.25 L292 61.25 L294 61.25 L296 61.25 L298 61.25 L300 61.25 L302 61.25 L304 61.25 L306 61.25 L308 61.25 L310 61.25 L312 61.25 L314 61.25 L316 61.25 L318 61.25 L320 61.25 L322 61.25 L324 61.25 L326 61.25 L328 61.25 L330 61.25 L332 61.25 L334 61.25 L336 61.25 L338 61.25 L340 61.25 L342 61.25 L344 61.25 L346 61.25 L348 61.25 L350 61.25 L352 61.25 L354 61.25 L356 61.25 L358 61.25 L360 61.25 L362 61.25 L362 72.25 L360 72.25 L358 72.25 L356 72.25 L354 72.25 L352 72.25 L350 72.25 L348 72.25 L346 72.25 L344 72.25 L342 72.25 L340 72.25 L338 72.25 L336 72.25 L334 72.25 L332 72.25 L330 72.25 L328 72.25 L326 72.25 L324 72.25 L322 72.25 L320 72.25 L318 72.25 L316 72.25 L314 72.25 L312 72.25 L310 72.25 L308 72.25 L306 72.25 L304 72.25 L302 72.25 L300 72.25 L298 72.25 L296 72.25 L294 72.25 L292 72.25 L290 72.25 L288 72.25 L286 72.25 L284 72.25 L282 72.25 L280 72.25 L278 72.25 L276 72.25 L274 72.25 L272 72.25 L270 72.25 L268 72.25 L266 72.25 L264 72.25 L262 72.25 L260 72.25 L258 72.25 L256 72.25 L254 72.25 L252 72.25 L250 72.25 L248 72.25 L246 72.25 L244 72.25 L242 72.25 L240 72.25 L238 72.25 L236 72 L234 72 L232 71.75 L230 71.75 L228 71.5 L226 71.5 L224 72 L222 73.25 L220 74.25 L218 75.5 L216 76.75 L214 77.75 L212 78.5 L210 79.5 L208 80.25 L206 81 L204 81.75 L202 82.5 L200 83 L198 83.75 L196 84.5 L194 85 L192 85.5 L190 86.25 L188 86.75 L186 87.25 L184 87.75 L182 88.25 L180 88.75 L178 89.25 L176 89.75 L174 90.25 L172 90.75 L170 91.25 L168 91.75 L166 92 L164 92.5 L162 93 L160 93.25 L158 93.75 L156 94.25 L154 94.75 L152 95 L150 95.5 L148 96 L146 96.25 L144 96.75 L142 97.25 L140 97.75 L138 98 L136 98.5 L134 99 L132 99.25 L130 99.75 L128 100.25 L126 100.5 L124 101 L122 101.5 L120 102 L118 102.25 L116 102.75 L114 103.25 L112 103.75 L110 104 L108 104.5 L106 105 L104 105.5 L102 105.75 L100 106.25 L98 106.75 L96 107.25 L94 107.75 L92 108.25 L90 108.75 L88 109 L86 109.5 L84 109.75 L82 110.25 L80 110.5 L78 110.75 L76 111.25 L74 111.5 L72 111.75 L70 112.25 L68 112.5 L66 113 L64 113.25 L62 113.5 L60 114 L58 114.25 L56 114.5 L54 115 L52 115.25 L50 115.75 L48 116 L46 116.25 L44 116.75 L42 117 L40 117.25 L38 117.75 L36 118 L34 118.5 L32 118.75 L30 119 L28 119Z" fill="#b6b6b6" filter="url(#b05)"/>
<path d="M28 106.25 L30 106.25 L32 105.75 L34 105.5 L36 105 L38 104.5 L40 104.25 L42 103.75 L44 103.25 L46 103 L48 102.5 L50 102 L52 101.75 L54 101.25 L56 100.75 L58 100.5 L60 100 L62 99.75 L64 99.25 L66 98.75 L68 98.5 L70 98 L72 97.5 L74 97.25 L76 96.75 L78 96.25 L80 96 L82 95.5 L84 95.25 L86 94.75 L88 94.25 L90 94 L92 93.25 L94 92.75 L96 92.25 L98 91.5 L100 91 L102 90.25 L104 89.75 L106 89 L108 88.5 L110 87.75 L112 87.25 L114 86.5 L116 86 L118 85.25 L120 84.75 L122 84 L124 83.5 L126 82.75 L128 82 L130 81.5 L132 81 L134 80.25 L136 79.75 L138 79 L140 78.5 L142 77.75 L144 77.25 L146 76.5 L148 76 L150 75.5 L152 74.75 L154 74.25 L156 73.5 L158 73 L160 72.25 L162 71.75 L164 71 L166 70.5 L168 70 L170 69.25 L172 68.75 L174 68.5 L176 68 L178 67.5 L180 67 L182 66.75 L184 66.25 L186 65.75 L188 65.5 L190 65 L192 64.5 L194 64.25 L196 63.75 L198 63.5 L200 63.25 L202 63 L204 62.75 L206 62.75 L208 62.5 L210 62.25 L212 62.25 L214 62.25 L216 62 L218 62 L220 62 L222 62.5 L224 63.5 L226 64 L228 63.75 L230 63.5 L232 63.5 L234 63.25 L236 63 L238 63 L240 62.75 L242 62.75 L244 62.75 L246 62.75 L248 62.75 L250 62.75 L252 62.75 L254 62.75 L256 62.75 L258 62.75 L260 62.75 L262 62.75 L264 62.75 L266 62.75 L268 62.75 L270 62.75 L272 62.75 L274 62.75 L276 62.75 L278 62.75 L280 62.75 L282 62.75 L284 62.75 L286 62.75 L288 62.75 L290 62.75 L292 62.75 L294 62.75 L296 62.75 L298 62.75 L300 62.75 L302 62.75 L304 62.75 L306 62.75 L308 62.75 L310 62.75 L312 62.75 L314 62.75 L316 62.75 L318 62.75 L320 62.75 L322 62.75 L324 62.75 L326 62.75 L328 62.75 L330 62.75 L332 62.75 L334 62.75 L336 62.75 L338 62.75 L340 62.75 L342 62.75 L344 62.75 L346 62.75 L348 62.75 L350 62.75 L352 62.75 L354 62.75 L356 62.75 L358 62.75 L360 62.75 L362 62.75 L362 70.25 L360 70.25 L358 70.25 L356 70.25 L354 70.25 L352 70.25 L350 70.25 L348 70.25 L346 70.25 L344 70.25 L342 70.25 L340 70.25 L338 70.25 L336 70.25 L334 70.25 L332 70.25 L330 70.25 L328 70.25 L326 70.25 L324 70.25 L322 70.25 L320 70.25 L318 70.25 L316 70.25 L314 70.25 L312 70.25 L310 70.25 L308 70.25 L306 70.25 L304 70.25 L302 70.25 L300 70.25 L298 70.25 L296 70.25 L294 70.25 L292 70.25 L290 70.25 L288 70.25 L286 70.25 L284 70.25 L282 70.25 L280 70.25 L278 70.25 L276 70.25 L274 70.25 L272 70.25 L270 70.25 L268 70.25 L266 70.25 L264 70.25 L262 70.25 L260 70.25 L258 70.25 L256 70.25 L254 70.25 L252 70.25 L250 70.25 L248 70.25 L246 70.25 L244 70.25 L242 70.25 L240 70.25 L238 70 L236 69.75 L234 69.5 L232 69.5 L230 69.25 L228 69 L226 68.75 L224 69.75 L222 71.5 L220 72.75 L218 74 L216 75.25 L214 76.5 L212 77.5 L210 78.5 L208 79.25 L206 80 L204 80.75 L202 81.5 L200 82.25 L198 83 L196 83.5 L194 84.25 L192 84.75 L190 85.25 L188 86 L186 86.5 L184 87 L182 87.5 L180 88 L178 88.5 L176 89 L174 89.5 L172 90 L170 90.5 L168 91 L166 91.5 L164 91.75 L162 92.25 L160 92.75 L158 93.25 L156 93.5 L154 94 L152 94.5 L150 95 L148 95.25 L146 95.75 L144 96.25 L142 96.5 L140 97 L138 97.5 L136 98 L134 98.25 L132 98.75 L130 99.25 L128 99.5 L126 100 L124 100.5 L122 101 L120 101.25 L118 101.75 L116 102.25 L114 102.5 L112 103 L110 103.5 L108 104 L106 104.25 L104 104.75 L102 105.25 L100 105.75 L98 106.25 L96 106.75 L94 107.25 L92 107.75 L90 108.25 L88 108.5 L86 108.75 L84 109.25 L82 109.5 L80 110 L78 110.25 L76 110.5 L74 111 L72 111.25 L70 111.75 L68 112 L66 112.25 L64 112.75 L62 113 L60 113.25 L58 113.75 L56 114 L54 114.5 L52 114.75 L50 115 L48 115.5 L46 115.75 L44 116 L42 116.5 L40 116.75 L38 117.25 L36 117.5 L34 117.75 L32 118.25 L30 118.5 L28 118.5Z" fill="#aeaeae" filter="url(#b05)"/>
<path d="M28 106.5 L30 106.5 L32 106.25 L34 105.75 L36 105.5 L38 105 L40 104.5 L42 104.25 L44 103.75 L46 103.25 L48 103 L50 102.5 L52 102 L54 101.75 L56 101.25 L58 100.75 L60 100.5 L62 100 L64 99.5 L66 99.25 L68 98.75 L70 98.5 L72 98 L74 97.5 L76 97.25 L78 96.75 L80 96.25 L82 96 L84 95.5 L86 95 L88 94.75 L90 94.25 L92 93.75 L94 93 L96 92.5 L98 92 L100 91.25 L102 90.75 L104 90 L106 89.5 L108 88.75 L110 88.25 L112 87.5 L114 87 L116 86.25 L118 85.75 L120 85 L122 84.5 L124 83.75 L126 83.25 L128 82.5 L130 82 L132 81.25 L134 80.75 L136 80 L138 79.5 L140 78.75 L142 78.25 L144 77.75 L146 77 L148 76.5 L150 75.75 L152 75.25 L154 74.5 L156 74 L158 73.5 L160 72.75 L162 72.25 L164 71.5 L166 71 L168 70.5 L170 69.75 L172 69.25 L174 69 L176 68.5 L178 68 L180 67.75 L182 67.25 L184 66.75 L186 66.5 L188 66 L190 65.5 L192 65.25 L194 64.75 L196 64.5 L198 64 L200 63.75 L202 63.75 L204 63.5 L206 63.5 L208 63.25 L210 63.25 L212 63.25 L214 63.25 L216 63.25 L218 63.25 L220 63.75 L222 64.75 L222 68.75 L220 70.75 L218 72.5 L216 74 L214 75.25 L212 76.25 L210 77.25 L208 78.25 L206 79 L204 79.75 L202 80.5 L200 81.25 L198 82 L196 82.75 L194 83.5 L192 84 L190 84.5 L188 85.25 L186 85.75 L184 86.25 L182 86.75 L180 87.25 L178 87.75 L176 88.5 L174 89 L172 89.5 L170 90 L168 90.25 L166 90.75 L164 91.25 L162 91.75 L160 92 L158 92.5 L156 93 L154 93.5 L152 93.75 L150 94.25 L148 94.75 L146 95.25 L144 95.5 L142 96 L140 96.5 L138 97 L136 97.25 L134 97.75 L132 98.25 L130 98.5 L128 99 L126 99.5 L124 99.75 L122 100.25 L120 100.75 L118 101.25 L116 101.5 L114 102 L112 102.5 L110 103 L108 103.25 L106 103.75 L104 104.25 L102 104.75 L100 105 L98 105.5 L96 106 L94 106.5 L92 107 L90 107.5 L88 108 L86 108.25 L84 108.75 L82 109 L80 109.25 L78 109.75 L76 110 L74 110.25 L72 110.75 L70 111 L68 111.5 L66 111.75 L64 112 L62 112.5 L60 112.75 L58 113.25 L56 113.5 L54 113.75 L52 114.25 L50 114.5 L48 114.75 L46 115.25 L44 115.5 L42 116 L40 116.25 L38 116.5 L36 117 L34 117.25 L32 117.5 L30 118 L28 118Z" fill="#a7a7a7" filter="url(#b05)"/>
<path d="M28 107 L30 107 L32 106.5 L34 106.25 L36 105.75 L38 105.5 L40 105 L42 104.5 L44 104.25 L46 103.75 L48 103.25 L50 103 L52 102.5 L54 102 L56 101.75 L58 101.25 L60 100.75 L62 100.5 L64 100 L66 99.5 L68 99.25 L70 98.75 L72 98.25 L74 98 L76 97.5 L78 97.25 L80 96.75 L82 96.25 L84 96 L86 95.5 L88 95 L90 94.75 L92 94 L94 93.5 L96 93 L98 92.25 L100 91.75 L102 91 L104 90.5 L106 89.75 L108 89.25 L110 88.5 L112 88 L114 87.25 L116 86.75 L118 86 L120 85.5 L122 84.75 L124 84.25 L126 83.5 L128 83 L130 82.25 L132 81.75 L134 81 L136 80.5 L138 79.75 L140 79.25 L142 78.75 L144 78 L146 77.5 L148 76.75 L150 76.25 L152 75.75 L154 75 L156 74.5 L158 73.75 L160 73.25 L162 72.75 L164 72 L166 71.5 L168 70.75 L170 70.25 L172 69.75 L174 69.5 L176 69 L178 68.5 L180 68.25 L182 67.75 L184 67.25 L186 67 L188 66.5 L190 66 L192 65.75 L194 65.25 L196 65 L198 64.75 L200 64.5 L202 64.25 L204 64.25 L206 64.25 L208 64 L210 64 L212 64.25 L214 64.25 L216 64.5 L218 65 L218 70.25 L216 72.25 L214 73.75 L212 75 L210 76.25 L208 77.25 L206 78 L204 79 L202 79.75 L200 80.5 L198 81.25 L196 82 L194 82.75 L192 83.25 L190 83.75 L188 84.5 L186 85 L184 85.5 L182 86.25 L180 86.75 L178 87.25 L176 87.75 L174 88.25 L172 88.75 L170 89.25 L168 89.75 L166 90.25 L164 90.75 L162 91 L160 91.5 L158 92 L156 92.5 L154 92.75 L152 93.25 L150 93.75 L148 94.25 L146 94.5 L144 95 L142 95.5 L140 96 L138 96.25 L136 96.75 L134 97.25 L132 97.5 L130 98 L128 98.5 L126 99 L124 99.25 L122 99.75 L120 100.25 L118 100.75 L116 101 L114 101.5 L112 102 L110 102.5 L108 102.75 L106 103.25 L104 103.75 L102 104.25 L100 104.5 L98 105 L96 105.5 L94 106 L92 106.5 L90 107 L88 107.5 L86 107.75 L84 108 L82 108.5 L80 108.75 L78 109.25 L76 109.5 L74 109.75 L72 110.25 L70 110.5 L68 110.75 L66 111.25 L64 111.5 L62 112 L60 112.25 L58 112.5 L56 113 L54 113.25 L52 113.5 L50 114 L48 114.25 L46 114.75 L44 115 L42 115.25 L40 115.75 L38 116 L36 116.25 L34 116.75 L32 117 L30 117.5 L28 117.5Z" fill="#a0a0a0" filter="url(#b05)"/>
<path d="M28 107.5 L30 107.5 L32 107 L34 106.5 L36 106.25 L38 105.75 L40 105.25 L42 105 L44 104.5 L46 104 L48 103.75 L50 103.25 L52 103 L54 102.5 L56 102 L58 101.75 L60 101.25 L62 100.75 L64 100.5 L66 100 L68 99.5 L70 99.25 L72 98.75 L74 98.25 L76 98 L78 97.5 L80 97 L82 96.75 L84 96.25 L86 95.75 L88 95.5 L90 95 L92 94.5 L94 93.75 L96 93.25 L98 92.75 L100 92 L102 91.5 L104 90.75 L106 90.25 L108 89.5 L110 89 L112 88.25 L114 87.75 L116 87 L118 86.5 L120 85.75 L122 85.25 L124 84.5 L126 84 L128 83.25 L130 82.75 L132 82 L134 81.5 L136 80.75 L138 80.25 L140 79.75 L142 79 L144 78.5 L146 77.75 L148 77.25 L150 76.75 L152 76 L154 75.5 L156 74.75 L158 74.25 L160 73.75 L162 73 L164 72.5 L166 71.75 L168 71.25 L170 70.75 L172 70.25 L174 69.75 L176 69.5 L178 69 L180 68.75 L182 68.25 L184 67.75 L186 67.5 L188 67 L190 66.75 L192 66.25 L194 66 L196 65.5 L198 65.25 L200 65 L202 65 L204 65 L206 65 L208 65 L210 65 L212 65.25 L214 65.75 L216 66.5 L216 69.75 L214 72 L212 73.5 L210 75 L208 76 L206 77 L204 78 L202 78.75 L200 79.5 L198 80.5 L196 81.25 L194 82 L192 82.5 L190 83.25 L188 83.75 L186 84.25 L184 85 L182 85.5 L180 86 L178 86.5 L176 87 L174 87.75 L172 88.25 L170 88.75 L168 89.25 L166 89.5 L164 90 L162 90.5 L160 91 L158 91.5 L156 91.75 L154 92.25 L152 92.75 L150 93.25 L148 93.5 L146 94 L144 94.5 L142 95 L140 95.25 L138 95.75 L136 96.25 L134 96.75 L132 97 L130 97.5 L128 98 L126 98.25 L124 98.75 L122 99.25 L120 99.75 L118 100 L116 100.5 L114 101 L112 101.5 L110 101.75 L108 102.25 L106 102.75 L104 103.25 L102 103.5 L100 104 L98 104.5 L96 105 L94 105.5 L92 106 L90 106.5 L88 106.75 L86 107.25 L84 107.5 L82 108 L80 108.25 L78 108.5 L76 109 L74 109.25 L72 109.75 L70 110 L68 110.25 L66 110.75 L64 111 L62 111.25 L60 111.75 L58 112 L56 112.5 L54 112.75 L52 113 L50 113.5 L48 113.75 L46 114 L44 114.5 L42 114.75 L40 115.25 L38 115.5 L36 115.75 L34 116.25 L32 116.5 L30 116.75 L28 116.75Z" fill="#999999" filter="url(#b05)"/>
<path d="M28 107.75 L30 107.75 L32 107.5 L34 107 L36 106.5 L38 106.25 L40 105.75 L42 105.25 L44 105 L46 104.5 L48 104 L50 103.75 L52 103.25 L54 102.75 L56 102.5 L58 102 L60 101.5 L62 101.25 L64 100.75 L66 100.25 L68 100 L70 99.5 L72 99 L74 98.75 L76 98.25 L78 97.75 L80 97.5 L82 97 L84 96.75 L86 96.25 L88 95.75 L90 95.5 L92 94.75 L94 94.25 L96 93.5 L98 93 L100 92.5 L102 91.75 L104 91.25 L106 90.5 L108 90 L110 89.25 L112 88.75 L114 88 L116 87.5 L118 86.75 L120 86.25 L122 85.5 L124 85 L126 84.25 L128 83.75 L130 83 L132 82.5 L134 81.75 L136 81.25 L138 80.5 L140 80 L142 79.5 L144 78.75 L146 78.25 L148 77.75 L150 77 L152 76.5 L154 75.75 L156 75.25 L158 74.75 L160 74 L162 73.5 L164 73 L166 72.25 L168 71.75 L170 71.25 L172 70.75 L174 70.25 L176 70 L178 69.5 L180 69 L182 68.75 L184 68.25 L186 68 L188 67.5 L190 67.25 L192 66.75 L194 66.5 L196 66.25 L198 66 L200 65.75 L202 65.75 L204 65.75 L206 65.75 L208 66 L210 66.25 L212 66.75 L212 71.75 L210 73.5 L208 74.75 L206 76 L204 77 L202 77.75 L200 78.75 L198 79.5 L196 80.5 L194 81.25 L192 81.75 L190 82.5 L188 83 L186 83.75 L184 84.25 L182 84.75 L180 85.5 L178 86 L176 86.5 L174 87 L172 87.5 L170 88.25 L168 88.5 L166 89 L164 89.5 L162 90 L160 90.5 L158 90.75 L156 91.25 L154 91.75 L152 92.25 L150 92.75 L148 93 L146 93.5 L144 94 L142 94.5 L140 94.75 L138 95.25 L136 95.75 L134 96 L132 96.5 L130 97 L128 97.5 L126 97.75 L124 98.25 L122 98.75 L120 99.25 L118 99.5 L116 100 L114 100.5 L112 101 L110 101.25 L108 101.75 L106 102.25 L104 102.75 L102 103 L100 103.5 L98 104 L96 104.5 L94 105 L92 105.5 L90 106 L88 106.25 L86 106.75 L84 107 L82 107.5 L80 107.75 L78 108 L76 108.5 L74 108.75 L72 109 L70 109.5 L68 109.75 L66 110.25 L64 110.5 L62 110.75 L60 111.25 L58 111.5 L56 111.75 L54 112.25 L52 112.5 L50 113 L48 113.25 L46 113.5 L44 114 L42 114.25 L40 114.5 L38 115 L36 115.25 L34 115.75 L32 116 L30 116.25 L28 116.25Z" fill="#919191" filter="url(#b05)"/>
<path d="M28 108.25 L30 108.25 L32 107.75 L34 107.5 L36 107 L38 106.5 L40 106.25 L42 105.75 L44 105.25 L46 105 L48 104.5 L50 104 L52 103.75 L54 103.25 L56 102.75 L58 102.5 L60 102 L62 101.5 L64 101.25 L66 100.75 L68 100.25 L70 100 L72 99.5 L74 99 L76 98.75 L78 98.25 L80 97.75 L82 97.5 L84 97 L86 96.5 L88 96.25 L90 95.75 L92 95.25 L94 94.5 L96 94 L98 93.5 L100 92.75 L102 92.25 L104 91.5 L106 91 L108 90.25 L110 89.75 L112 89 L114 88.5 L116 87.75 L118 87.25 L120 86.5 L122 86 L124 85.25 L126 84.75 L128 84 L130 83.5 L132 82.75 L134 82.25 L136 81.5 L138 81 L140 80.5 L142 79.75 L144 79.25 L146 78.75 L148 78 L150 77.5 L152 76.75 L154 76.25 L156 75.75 L158 75 L160 74.5 L162 74 L164 73.25 L166 72.75 L168 72.25 L170 71.5 L172 71.25 L174 70.75 L176 70.5 L178 70 L180 69.5 L182 69.25 L184 68.75 L186 68.5 L188 68 L190 67.75 L192 67.5 L194 67 L196 66.75 L198 66.75 L200 66.5 L202 66.5 L204 66.5 L206 66.75 L208 67.25 L210 68 L210 71.25 L208 73.25 L206 74.75 L204 75.75 L202 76.75 L200 77.75 L198 78.75 L196 79.5 L194 80.5 L192 81 L190 81.75 L188 82.25 L186 83 L184 83.5 L182 84.25 L180 84.75 L178 85.25 L176 86 L174 86.5 L172 87 L170 87.5 L168 88 L166 88.5 L164 89 L162 89.5 L160 89.75 L158 90.25 L156 90.75 L154 91.25 L152 91.75 L150 92 L148 92.5 L146 93 L144 93.5 L142 94 L140 94.25 L138 94.75 L136 95.25 L134 95.5 L132 96 L130 96.5 L128 96.75 L126 97.25 L124 97.75 L122 98.25 L120 98.5 L118 99 L116 99.5 L114 100 L112 100.5 L110 100.75 L108 101.25 L106 101.75 L104 102.25 L102 102.5 L100 103 L98 103.5 L96 104 L94 104.5 L92 105 L90 105.5 L88 105.75 L86 106.25 L84 106.5 L82 106.75 L80 107.25 L78 107.5 L76 108 L74 108.25 L72 108.5 L70 109 L68 109.25 L66 109.5 L64 110 L62 110.25 L60 110.75 L58 111 L56 111.25 L54 111.75 L52 112 L50 112.25 L48 112.75 L46 113 L44 113.25 L42 113.75 L40 114 L38 114.5 L36 114.75 L34 115 L32 115.5 L30 115.75 L28 115.75Z" fill="#8a8a8a" filter="url(#b05)"/>
<path d="M28 108.75 L30 108.75 L32 108.25 L34 108 L36 107.5 L38 107 L40 106.5 L42 106.25 L44 105.75 L46 105.25 L48 105 L50 104.5 L52 104 L54 103.75 L56 103.25 L58 102.75 L60 102.5 L62 102 L64 101.5 L66 101.25 L68 100.75 L70 100.25 L72 99.75 L74 99.5 L76 99 L78 98.5 L80 98.25 L82 97.75 L84 97.25 L86 97 L88 96.5 L90 96 L92 95.5 L94 95 L96 94.25 L98 93.75 L100 93.25 L102 92.5 L104 92 L106 91.25 L108 90.75 L110 90 L112 89.5 L114 88.75 L116 88.25 L118 87.5 L120 87 L122 86.25 L124 85.75 L126 85 L128 84.5 L130 83.75 L132 83.25 L134 82.5 L136 82 L138 81.25 L140 80.75 L142 80.25 L144 79.5 L146 79 L148 78.5 L150 77.75 L152 77.25 L154 76.75 L156 76 L158 75.5 L160 75 L162 74.25 L164 73.75 L166 73.25 L168 72.5 L170 72 L172 71.5 L174 71.25 L176 70.75 L178 70.5 L180 70 L182 69.75 L184 69.25 L186 69 L188 68.75 L190 68.25 L192 68 L194 67.75 L196 67.5 L198 67.25 L200 67.25 L202 67.5 L204 67.5 L206 68 L208 69.5 L208 70.5 L206 73 L204 74.5 L202 75.75 L200 76.75 L198 77.75 L196 78.75 L194 79.5 L192 80.25 L190 81 L188 81.5 L186 82.25 L184 83 L182 83.5 L180 84 L178 84.75 L176 85.25 L174 86 L172 86.5 L170 87 L168 87.5 L166 88 L164 88.5 L162 88.75 L160 89.25 L158 89.75 L156 90.25 L154 90.75 L152 91 L150 91.5 L148 92 L146 92.5 L144 93 L142 93.25 L140 93.75 L138 94.25 L136 94.75 L134 95 L132 95.5 L130 96 L128 96.25 L126 96.75 L124 97.25 L122 97.75 L120 98 L118 98.5 L116 99 L114 99.5 L112 99.75 L110 100.25 L108 100.75 L106 101.25 L104 101.75 L102 102 L100 102.5 L98 103 L96 103.5 L94 104 L92 104.5 L90 105 L88 105.25 L86 105.75 L84 106 L82 106.25 L80 106.75 L78 107 L76 107.25 L74 107.75 L72 108 L70 108.25 L68 108.75 L66 109 L64 109.5 L62 109.75 L60 110 L58 110.5 L56 110.75 L54 111 L52 111.5 L50 111.75 L48 112 L46 112.5 L44 112.75 L42 113.25 L40 113.5 L38 113.75 L36 114.25 L34 114.5 L32 114.75 L30 115.25 L28 115.25Z" fill="#838383" filter="url(#b05)"/>
<path d="M28 109.25 L30 109.25 L32 108.75 L34 108.25 L36 108 L38 107.5 L40 107 L42 106.75 L44 106.25 L46 105.75 L48 105.25 L50 105 L52 104.5 L54 104 L56 103.75 L58 103.25 L60 102.75 L62 102.5 L64 102 L66 101.5 L68 101 L70 100.75 L72 100.25 L74 99.75 L76 99.5 L78 99 L80 98.5 L82 98.25 L84 97.75 L86 97.25 L88 97 L90 96.5 L92 96 L94 95.25 L96 94.75 L98 94 L100 93.5 L102 93 L104 92.25 L106 91.75 L108 91 L110 90.5 L112 89.75 L114 89.25 L116 88.5 L118 88 L120 87.25 L122 86.75 L124 86 L126 85.5 L128 84.75 L130 84.25 L132 83.5 L134 83 L136 82.25 L138 81.75 L140 81.25 L142 80.5 L144 80 L146 79.5 L148 78.75 L150 78.25 L152 77.75 L154 77 L156 76.5 L158 76 L160 75.25 L162 74.75 L164 74.25 L166 73.5 L168 73 L170 72.5 L172 72 L174 71.75 L176 71.25 L178 71 L180 70.5 L182 70.25 L184 70 L186 69.5 L188 69.25 L190 69 L192 68.75 L194 68.25 L196 68.25 L198 68 L200 68.25 L202 68.5 L204 69 L204 72.75 L202 74.25 L200 75.75 L198 76.75 L196 77.75 L194 78.75 L192 79.5 L190 80.25 L188 80.75 L186 81.5 L184 82.25 L182 82.75 L180 83.5 L178 84 L176 84.75 L174 85.25 L172 85.75 L170 86.5 L168 87 L166 87.25 L164 87.75 L162 88.25 L160 88.75 L158 89.25 L156 89.75 L154 90.25 L152 90.5 L150 91 L148 91.5 L146 92 L144 92.5 L142 92.75 L140 93.25 L138 93.75 L136 94.25 L134 94.5 L132 95 L130 95.5 L128 95.75 L126 96.25 L124 96.75 L122 97.25 L120 97.5 L118 98 L116 98.5 L114 99 L112 99.25 L110 99.75 L108 100.25 L106 100.75 L104 101 L102 101.5 L100 102 L98 102.5 L96 103 L94 103.5 L92 104 L90 104.5 L88 104.75 L86 105 L84 105.5 L82 105.75 L80 106 L78 106.5 L76 106.75 L74 107 L72 107.5 L70 107.75 L68 108.25 L66 108.5 L64 108.75 L62 109.25 L60 109.5 L58 109.75 L56 110.25 L54 110.5 L52 110.75 L50 111.25 L48 111.5 L46 111.75 L44 112.25 L42 112.5 L40 112.75 L38 113.25 L36 113.5 L34 113.75 L32 114.25 L30 114.5 L28 114.5Z" fill="#7c7c7c" filter="url(#b05)"/>
<path d="M28 109.75 L30 109.75 L32 109.25 L34 109 L36 108.5 L38 108 L40 107.5 L42 107.25 L44 106.75 L46 106.25 L48 105.75 L50 105.5 L52 105 L54 104.5 L56 104 L58 103.75 L60 103.25 L62 102.75 L64 102.5 L66 102 L68 101.5 L70 101.25 L72 100.75 L74 100.25 L76 99.75 L78 99.5 L80 99 L82 98.5 L84 98.25 L86 97.75 L88 97.25 L90 97 L92 96.25 L94 95.75 L96 95 L98 94.5 L100 94 L102 93.25 L104 92.75 L106 92 L108 91.5 L110 90.75 L112 90.25 L114 89.5 L116 89 L118 88.25 L120 87.75 L122 87 L124 86.5 L126 85.75 L128 85.25 L130 84.5 L132 84 L134 83.25 L136 82.75 L138 82 L140 81.5 L142 81 L144 80.25 L146 79.75 L148 79.25 L150 78.5 L152 78 L154 77.5 L156 77 L158 76.25 L160 75.75 L162 75.25 L164 74.5 L166 74 L168 73.5 L170 73 L172 72.5 L174 72.25 L176 71.75 L178 71.5 L180 71 L182 70.75 L184 70.5 L186 70 L188 69.75 L190 69.5 L192 69.25 L194 69 L196 69 L198 69 L200 69.25 L202 70.25 L202 72.25 L200 74.25 L198 75.5 L196 76.75 L194 77.75 L192 78.5 L190 79.25 L188 80 L186 80.75 L184 81.5 L182 82.25 L180 82.75 L178 83.5 L176 84 L174 84.75 L172 85.25 L170 86 L168 86.25 L166 86.75 L164 87.25 L162 87.75 L160 88.25 L158 88.75 L156 89.25 L154 89.5 L152 90 L150 90.5 L148 91 L146 91.5 L144 92 L142 92.25 L140 92.75 L138 93.25 L136 93.5 L134 94 L132 94.5 L130 94.75 L128 95.25 L126 95.75 L124 96.25 L122 96.5 L120 97 L118 97.5 L116 98 L114 98.25 L112 98.75 L110 99.25 L108 99.75 L106 100 L104 100.5 L102 101 L100 101.5 L98 102 L96 102.5 L94 102.75 L92 103.25 L90 103.75 L88 104.25 L86 104.5 L84 104.75 L82 105.25 L80 105.5 L78 105.75 L76 106.25 L74 106.5 L72 106.75 L70 107.25 L68 107.5 L66 107.75 L64 108.25 L62 108.5 L60 108.75 L58 109.25 L56 109.5 L54 109.75 L52 110.25 L50 110.5 L48 110.75 L46 111.25 L44 111.5 L42 111.75 L40 112 L38 112.5 L36 112.75 L34 113 L32 113.5 L30 113.75 L28 113.75Z" fill="#747474" filter="url(#b05)"/>
<path d="M28 110.5 L30 110.5 L32 110.25 L34 109.75 L36 109.25 L38 108.75 L40 108.25 L42 107.75 L44 107.25 L46 107 L48 106.5 L50 106 L52 105.5 L54 105 L56 104.75 L58 104.25 L60 103.75 L62 103.25 L64 103 L66 102.5 L68 102 L70 101.75 L72 101.25 L74 100.75 L76 100.25 L78 100 L80 99.5 L82 99 L84 98.75 L86 98.25 L88 97.75 L90 97.25 L92 96.75 L94 96.25 L96 95.5 L98 95 L100 94.25 L102 93.75 L104 93 L106 92.5 L108 91.75 L110 91.25 L112 90.5 L114 90 L116 89.25 L118 88.75 L120 88 L122 87.5 L124 86.75 L126 86.25 L128 85.5 L130 85 L132 84.25 L134 83.75 L136 83 L138 82.5 L140 82 L142 81.25 L144 80.75 L146 80.25 L148 79.5 L150 79 L152 78.5 L154 77.75 L156 77.25 L158 76.75 L160 76.25 L162 75.5 L164 75 L166 74.5 L168 73.75 L170 73.25 L172 73 L174 72.5 L176 72.25 L178 72 L180 71.5 L182 71.25 L184 71 L186 70.75 L188 70.5 L190 70.25 L192 70 L194 69.75 L196 70 L198 70.25 L198 74 L196 75.5 L194 76.75 L192 77.5 L190 78.5 L188 79.25 L186 80 L184 80.75 L182 81.5 L180 82 L178 82.75 L176 83.5 L174 84 L172 84.75 L170 85.25 L168 85.75 L166 86.25 L164 86.75 L162 87.25 L160 87.75 L158 88 L156 88.5 L154 89 L152 89.5 L150 90 L148 90.5 L146 91 L144 91.25 L142 91.75 L140 92.25 L138 92.75 L136 93 L134 93.5 L132 94 L130 94.25 L128 94.75 L126 95.25 L124 95.75 L122 96 L120 96.5 L118 97 L116 97.5 L114 97.75 L112 98.25 L110 98.75 L108 99 L106 99.5 L104 100 L102 100.5 L100 100.75 L98 101.25 L96 101.75 L94 102.25 L92 102.75 L90 103.25 L88 103.5 L86 103.75 L84 104.25 L82 104.5 L80 104.75 L78 105.25 L76 105.5 L74 105.75 L72 106.25 L70 106.5 L68 106.75 L66 107.25 L64 107.5 L62 107.75 L60 108 L58 108.5 L56 108.75 L54 109 L52 109.5 L50 109.75 L48 110 L46 110.25 L44 110.5 L42 111 L40 111.25 L38 111.5 L36 111.75 L34 112 L32 112.25 L30 112.5 L28 112.5Z" fill="#6d6d6d" filter="url(#b05)"/>
<path d="M44 108.5 L46 108 L48 107.5 L50 107 L52 106.5 L54 106 L56 105.5 L58 105 L60 104.5 L62 104 L64 103.5 L66 103.25 L68 102.75 L70 102.25 L72 101.75 L74 101.25 L76 101 L78 100.5 L80 100 L82 99.5 L84 99.25 L86 98.75 L88 98.25 L90 97.75 L92 97.25 L94 96.5 L96 96 L98 95.25 L100 94.75 L102 94 L104 93.5 L106 92.75 L108 92.25 L110 91.5 L112 91 L114 90.25 L116 89.75 L118 89 L120 88.5 L122 87.75 L124 87.25 L126 86.5 L128 86 L130 85.25 L132 84.75 L134 84 L136 83.5 L138 83 L140 82.25 L142 81.75 L144 81.25 L146 80.5 L148 80 L150 79.5 L152 78.75 L154 78.25 L156 77.75 L158 77.25 L160 76.5 L162 76 L164 75.5 L166 74.75 L168 74.25 L170 73.75 L172 73.5 L174 73 L176 72.75 L178 72.5 L180 72.25 L182 72 L184 71.75 L186 71.5 L188 71.25 L190 71 L192 71 L194 71 L196 71.25 L196 73.75 L194 75.25 L192 76.5 L190 77.25 L188 78.25 L186 79 L184 79.75 L182 80.5 L180 81.25 L178 82 L176 82.75 L174 83.5 L172 84 L170 84.75 L168 85.25 L166 85.75 L164 86 L162 86.5 L160 87 L158 87.5 L156 88 L154 88.5 L152 89 L150 89.5 L148 89.75 L146 90.25 L144 90.75 L142 91.25 L140 91.75 L138 92 L136 92.5 L134 93 L132 93.25 L130 93.75 L128 94.25 L126 94.5 L124 95 L122 95.5 L120 96 L118 96.25 L116 96.75 L114 97.25 L112 97.75 L110 98 L108 98.5 L106 99 L104 99.25 L102 99.75 L100 100.25 L98 100.75 L96 101.25 L94 101.5 L92 102 L90 102.5 L88 102.75 L86 103.25 L84 103.5 L82 103.75 L80 104 L78 104.5 L76 104.75 L74 105 L72 105.25 L70 105.75 L68 106 L66 106.25 L64 106.5 L62 106.75 L60 107.25 L58 107.5 L56 107.75 L54 108 L52 108.25 L50 108.5 L48 108.75 L46 108.75 L44 109Z" fill="#666666" filter="url(#b05)"/>
<path d="M68 104 L70 103.25 L72 102.75 L74 102.25 L76 101.75 L78 101.25 L80 100.75 L82 100.25 L84 99.75 L86 99.5 L88 99 L90 98.5 L92 97.75 L94 97.25 L96 96.5 L98 96 L100 95.25 L102 94.75 L104 94 L106 93.25 L108 92.75 L110 92 L112 91.5 L114 90.75 L116 90.25 L118 89.5 L120 89 L122 88.25 L124 87.5 L126 87 L128 86.25 L130 85.75 L132 85 L134 84.5 L136 84 L138 83.25 L140 82.75 L142 82.25 L144 81.5 L146 81 L148 80.5 L150 79.75 L152 79.25 L154 78.75 L156 78.25 L158 77.5 L160 77 L162 76.5 L164 76 L166 75.25 L168 74.75 L170 74.25 L172 74 L174 73.5 L176 73.25 L178 73 L180 72.75 L182 72.5 L184 72.25 L186 72.25 L188 72 L190 72 L192 72.25 L192 74.5 L190 76 L188 77 L186 78 L184 79 L182 79.75 L180 80.5 L178 81.25 L176 82 L174 82.75 L172 83.5 L170 84 L168 84.5 L166 85 L164 85.5 L162 86 L160 86.5 L158 87 L156 87.5 L154 87.75 L152 88.25 L150 88.75 L148 89.25 L146 89.75 L144 90.25 L142 90.75 L140 91 L138 91.5 L136 92 L134 92.25 L132 92.75 L130 93.25 L128 93.5 L126 94 L124 94.5 L122 94.75 L120 95.25 L118 95.75 L116 96.25 L114 96.5 L112 97 L110 97.5 L108 97.75 L106 98.25 L104 98.75 L102 99 L100 99.5 L98 100 L96 100.25 L94 100.75 L92 101.25 L90 101.5 L88 102 L86 102.25 L84 102.5 L82 102.75 L80 103 L78 103.25 L76 103.5 L74 103.75 L72 104 L70 104.25 L68 104.25Z" fill="#5f5f5f" filter="url(#b05)"/>
<path d="M92 99 L94 98.25 L96 97.5 L98 96.75 L100 96 L102 95.25 L104 94.75 L106 94 L108 93.25 L110 92.75 L112 92 L114 91.25 L116 90.75 L118 90 L120 89.5 L122 88.75 L124 88 L126 87.5 L128 86.75 L130 86.25 L132 85.5 L134 85 L136 84.25 L138 83.75 L140 83.25 L142 82.5 L144 82 L146 81.5 L148 81 L150 80.25 L152 79.75 L154 79.25 L156 78.75 L158 78 L160 77.5 L162 77 L164 76.25 L166 75.75 L168 75.25 L170 74.75 L172 74.5 L174 74.25 L176 74 L178 73.75 L180 73.5 L182 73.25 L184 73.25 L186 73.25 L188 73.75 L188 75 L186 76.5 L184 77.75 L182 78.75 L180 79.5 L178 80.5 L176 81.25 L174 82 L172 82.75 L170 83.5 L168 83.75 L166 84.25 L164 84.75 L162 85.25 L160 85.75 L158 86.25 L156 86.75 L154 87.25 L152 87.75 L150 88.25 L148 88.75 L146 89 L144 89.5 L142 90 L140 90.5 L138 91 L136 91.25 L134 91.75 L132 92 L130 92.5 L128 93 L126 93.25 L124 93.75 L122 94.25 L120 94.5 L118 95 L116 95.5 L114 95.75 L112 96.25 L110 96.5 L108 97 L106 97.5 L104 97.75 L102 98.25 L100 98.5 L98 99 L96 99.25 L94 99.5 L92 99.5Z" fill="#575757" filter="url(#b05)"/>
<path d="M106 95 L108 94.25 L110 93.5 L112 92.75 L114 92 L116 91.5 L118 90.75 L120 90 L122 89.25 L124 88.75 L126 88 L128 87.5 L130 86.75 L132 86 L134 85.5 L136 85 L138 84.25 L140 83.75 L142 83 L144 82.5 L146 82 L148 81.5 L150 80.75 L152 80.25 L154 79.75 L156 79.25 L158 78.5 L160 78 L162 77.5 L164 77 L166 76.25 L168 75.75 L170 75.25 L172 75 L174 74.75 L176 74.5 L178 74.5 L180 74.5 L182 74.5 L182 77.25 L180 78.5 L178 79.5 L176 80.25 L174 81 L172 82 L170 82.75 L168 83.25 L166 83.5 L164 84 L162 84.5 L160 85 L158 85.5 L156 86 L154 86.5 L152 87 L150 87.5 L148 88 L146 88.5 L144 89 L142 89.25 L140 89.75 L138 90.25 L136 90.5 L134 91 L132 91.25 L130 91.75 L128 92.25 L126 92.5 L124 93 L122 93.25 L120 93.75 L118 94 L116 94.5 L114 94.75 L112 95.25 L110 95.5 L108 95.75 L106 96Z" fill="#505050" filter="url(#b05)"/>
<path d="M120 91.25 L122 90.25 L124 89.5 L126 88.75 L128 88.25 L130 87.5 L132 86.75 L134 86.25 L136 85.5 L138 84.75 L140 84.25 L142 83.75 L144 83 L146 82.5 L148 82 L150 81.5 L152 80.75 L154 80.25 L156 79.75 L158 79.25 L160 78.75 L162 78 L164 77.5 L166 77 L168 76.5 L170 76 L172 75.75 L174 75.5 L176 75.5 L178 75.75 L178 77.75 L176 79 L174 80 L172 81 L170 81.75 L168 82.25 L166 82.75 L164 83.25 L162 83.75 L160 84.25 L158 84.75 L156 85.25 L154 85.75 L152 86.25 L150 86.75 L148 87.25 L146 87.5 L144 88 L142 88.5 L140 89 L138 89.5 L136 89.75 L134 90 L132 90.5 L130 90.75 L128 91 L126 91.5 L124 91.75 L122 92 L120 92.25Z" fill="#494949" filter="url(#b05)"/>
<path d="M132 88.25 L134 87.25 L136 86.5 L138 85.75 L140 85 L142 84.5 L144 83.75 L146 83.25 L148 82.75 L150 82.25 L152 81.5 L154 81 L156 80.5 L158 80 L160 79.5 L162 78.75 L164 78.25 L166 77.75 L168 77.25 L170 76.75 L172 76.75 L174 77 L174 78.25 L172 79.75 L170 80.75 L168 81.25 L166 81.75 L164 82.25 L162 82.75 L160 83.25 L158 83.75 L156 84.25 L154 84.75 L152 85.25 L150 85.5 L148 86 L146 86.5 L144 87 L142 87.5 L140 88 L138 88.25 L136 88.5 L134 88.75 L132 88.75Z" fill="#414141" filter="url(#b05)"/>
<path d="M166 79.5 L168 79 L170 78.5 L170 78.75 L168 79 L166 79.5Z" fill="#3a3a3a" filter="url(#b05)"/>
<path d="M30 96.53 L32 96.34 L34 96.1 L36 95.73 L38 95.29 L40 94.75 L42 94.21 L44 93.57 L46 92.77 L48 91.9 L50 91.01 L52 90.29 L54 89.84 L56 89.39 L58 88.83 L60 88.28 L62 87.56 L64 86.82 L66 86.36 L68 85.9 L70 85.34 L72 84.87 L74 84.31 L76 83.53 L78 82.78 L80 82.17 L82 81.52 L84 80.7 L86 79.85 L88 79.17 L90 78.56 L92 77.96 L94 77.5 L96 77.08 L98 76.48 L100 75.84 L102 75.19 L104 74.48 L106 73.82 L108 73.11 L110 72.22 L112 71.42 L114 70.75 L116 70.03 L118 69.39 L120 68.78 L122 67.96 L124 66.91 L126 65.83 L128 64.92 L130 64.22 L132 63.49 L134 62.74 L136 62.1 L138 61.35 L140 60.5 L142 59.78 L144 59.13 L146 58.43 L148 57.75 L150 57.1 L152 56.36 L154 55.56 L156 54.91 L158 54.33 L160 53.67 L162 53.07 L164 52.7 L166 52.37 L168 51.97 L170 51.66 L172 51.29 L174 50.69 L176 50.03 L178 49.41 L180 48.86 L182 48.49 L184 48.45 L186 48.58 L188 48.61 L190 48.55 L192 48.52 L194 48.41 L196 48.11 L198 47.89 L200 47.81 L202 47.71 L204 47.56 L206 47.46 L208 47.4 L210 47.33 L212 47.27 L214 47.25 L216 47.24 L218 47.25 L220 47.29 L222 47.34 L224 47.36 L226 47.36 L228 47.38 L230 47.39 L232 47.37 L234 47.37 L236 47.4 L238 47.42 L240 47.39 L242 47.34 L244 47.25 L246 47.11 L248 47.02 L250 47.02 L252 47.07 L254 47.16 L256 47.3 L258 47.37 L260 47.35 L262 47.29 L264 47.23 L266 47.19 L268 47.11 L270 47.02 L272 47.01 L274 47.04 L276 47.04 L278 47.06 L280 47.1 L282 47.06 L284 46.94 L286 46.82 L288 46.8 L290 46.88 L292 46.99 L294 47.14 L296 47.23 L298 47.16 L300 47.09 L302 47.07 L304 47 L306 46.97 L308 47.01 L310 46.95 L312 46.85 L314 46.79 L316 46.82 L318 46.9 L320 47.02 L322 47.14 L324 47.17 L326 47.08 L328 47 L330 46.97 L332 46.87 L334 46.8 L336 46.86 L338 46.93 L340 46.91 L342 46.91 L344 47.01 L346 47.1 L348 47.08 L350 47.1" fill="none" stroke="url(#og)" stroke-width="1.3"/>
<path d="M30 98.08 L32 97.87 L34 97.74 L36 97.14 L38 96.45 L40 95.76 L42 94.89 L44 94 L46 93.34 L48 92.7 L50 92 L52 91.37 L54 90.68 L56 89.91 L58 89.31 L60 88.86 L62 88.42 L64 87.85 L66 87.15 L68 86.38 L70 85.56 L72 84.85 L74 84.4 L76 83.94 L78 83.38 L80 82.98 L82 82.54 L84 81.92 L86 81.4 L88 80.88 L90 80.14 L92 79.28 L94 78.45 L96 77.64 L98 76.95 L100 76.39 L102 75.83 L104 75.25 L106 74.65 L108 74.02 L110 73.35 L112 72.65 L114 71.96 L116 71.32 L118 70.74 L120 70.05 L122 69.24 L124 68.38 L126 67.42 L128 66.43 L130 65.57 L132 64.69 L134 63.73 L136 62.81 L138 61.85 L140 61 L142 60.4 L144 59.84 L146 59.19 L148 58.57 L150 57.84 L152 56.9 L154 55.96 L156 55.23 L158 54.6 L160 54.03 L162 53.62 L164 53.24 L166 52.67 L168 52.18 L170 51.79 L172 51.4 L174 51.14 L176 50.92 L178 50.48 L180 50.06 L182 49.77 L184 49.47 L186 49.27 L188 49.26 L190 49.18 L192 48.95 L194 48.71 L196 48.56 L198 48.43 L200 48.27 L202 48.18 L204 48.1 L206 47.92 L208 47.7 L210 47.48 L212 47.33 L214 47.31 L216 47.38 L218 47.48 L220 47.53 L222 47.45 L224 47.35 L226 47.24 L228 47.13 L230 47.09 L232 47.09 L234 47.06 L236 47.02 L238 46.97 L240 46.91 L242 46.87 L244 46.87 L246 46.87 L248 46.89 L250 46.93 L252 46.95 L254 46.95 L256 46.94 L258 46.92 L260 46.92 L262 46.98 L264 46.99 L266 46.94 L268 46.92 L270 46.92 L272 46.9 L274 46.96 L276 47.05 L278 47.05 L280 47 L282 46.92 L284 46.88 L286 46.93 L288 46.97 L290 46.96 L292 46.96 L294 46.9 L296 46.81 L298 46.8 L300 46.86 L302 46.95 L304 46.98 L306 46.95 L308 46.91 L310 46.86 L312 46.8 L314 46.78 L316 46.87 L318 46.98 L320 47.04 L322 47.06 L324 47.11 L326 47.16 L328 47.11 L330 47.02 L332 46.99 L334 46.93 L336 46.87 L338 46.89 L340 47 L342 47.11 L344 47.17 L346 47.17 L348 47.17 L350 47.15" fill="none" stroke="url(#og)" stroke-width="1.3"/>
<path d="M30 97.79 L32 97.65 L34 97.55 L36 97.14 L38 96.63 L40 96.22 L42 95.82 L44 95.31 L46 94.87 L48 94.36 L50 93.6 L52 92.73 L54 91.88 L56 91.12 L58 90.6 L60 90.18 L62 89.7 L64 89.24 L66 88.71 L68 87.98 L70 87.19 L72 86.39 L74 85.52 L76 84.64 L78 83.89 L80 83.33 L82 82.91 L84 82.43 L86 81.82 L88 81.18 L90 80.46 L92 79.66 L94 78.97 L96 78.38 L98 77.78 L100 77.16 L102 76.53 L104 75.98 L106 75.54 L108 74.93 L110 74.17 L112 73.37 L114 72.42 L116 71.53 L118 70.96 L120 70.51 L122 70.06 L124 69.64 L126 69.03 L128 68.1 L130 67.06 L132 66.13 L134 65.27 L136 64.4 L138 63.65 L140 62.9 L142 61.92 L144 60.97 L146 60.15 L148 59.38 L150 58.8 L152 58.37 L154 57.83 L156 57.21 L158 56.58 L160 55.93 L162 55.3 L164 54.77 L166 54.3 L168 53.88 L170 53.51 L172 53.2 L174 52.88 L176 52.69 L178 52.65 L180 52.62 L182 52.58 L184 52.71 L186 52.86 L188 52.78 L190 52.63 L192 52.74 L194 52.94 L196 52.99 L198 53.13 L200 53.47 L202 53.66 L204 53.69 L206 53.78 L208 53.94 L210 54.09 L212 54.19 L214 54.27 L216 54.3 L218 54.27 L220 54.31 L222 54.44 L224 54.53 L226 54.62 L228 54.75 L230 54.82 L232 54.84 L234 54.93 L236 55.04 L238 55.11 L240 55.15 L242 55.14 L244 55.14 L246 55.2 L248 55.24 L250 55.27 L252 55.28 L254 55.22 L256 55.1 L258 55.01 L260 55 L262 55.07 L264 55.12 L266 55.16 L268 55.23 L270 55.27 L272 55.21 L274 55.16 L276 55.12 L278 55.04 L280 54.97 L282 54.96 L284 55.02 L286 55.12 L288 55.17 L290 55.13 L292 55.13 L294 55.15 L296 55.15 L298 55.23 L300 55.35 L302 55.41 L304 55.42 L306 55.41 L308 55.32 L310 55.17 L312 55.08 L314 55.04 L316 55.03 L318 55.11 L320 55.19 L322 55.14 L324 55.06 L326 54.97 L328 54.87 L330 54.83 L332 54.9 L334 54.96 L336 55 L338 55.03 L340 55.06 L342 55.07 L344 55.09 L346 55.14 L348 55.17 L350 55.21" fill="none" stroke="url(#og)" stroke-width="1.3"/>
<path d="M30 98.56 L32 98.38 L34 98.19 L36 97.77 L38 97.3 L40 96.76 L42 96.16 L44 95.7 L46 95.41 L48 95.1 L50 94.77 L52 94.29 L54 93.49 L56 92.58 L58 91.78 L60 90.97 L62 90.27 L64 89.73 L66 89.11 L68 88.41 L70 87.75 L72 87.19 L74 86.69 L76 86.17 L78 85.64 L80 85.06 L82 84.37 L84 83.58 L86 82.77 L88 82 L90 81.31 L92 80.61 L94 79.91 L96 79.33 L98 78.8 L100 78.28 L102 77.83 L104 77.35 L106 76.72 L108 75.94 L110 75.06 L112 74.15 L114 73.32 L116 72.57 L118 71.9 L120 71.32 L122 70.75 L124 70.16 L126 69.56 L128 68.82 L130 67.94 L132 67.09 L134 66.28 L136 65.41 L138 64.6 L140 63.86 L142 63.01 L144 62.09 L146 61.22 L148 60.44 L150 59.74 L152 59.16 L154 58.67 L156 58.18 L158 57.64 L160 57.17 L162 56.75 L164 56.29 L166 55.86 L168 55.48 L170 55.03 L172 54.63 L174 54.36 L176 54.2 L178 54.15 L180 54.05 L182 53.79 L184 53.57 L186 53.41 L188 53.25 L190 53.23 L192 53.45 L194 53.72 L196 53.89 L198 54.04 L200 54.15 L202 54.13 L204 54.07 L206 54.1 L208 54.17 L210 54.28 L212 54.4 L214 54.44 L216 54.44 L218 54.47 L220 54.48 L222 54.5 L224 54.63 L226 54.79 L228 54.91 L230 55.04 L232 55.2 L234 55.31 L236 55.34 L238 55.37 L240 55.39 L242 55.37 L244 55.33 L246 55.31 L248 55.28 L250 55.25 L252 55.19 L254 55.08 L256 55.01 L258 55 L260 54.95 L262 54.89 L264 54.89 L266 54.85 L268 54.83 L270 54.91 L272 54.98 L274 54.98 L276 54.97 L278 54.9 L280 54.78 L282 54.72 L284 54.8 L286 54.95 L288 55.03 L290 55.04 L292 55.04 L294 54.96 L296 54.88 L298 54.93 L300 54.99 L302 54.99 L304 55.07 L306 55.15 L308 55.13 L310 55.17 L312 55.28 L314 55.35 L316 55.36 L318 55.39 L320 55.41 L322 55.37 L324 55.35 L326 55.33 L328 55.23 L330 55.1 L332 55.07 L334 55.09 L336 55.06 L338 55.07 L340 55.18 L342 55.23 L344 55.17 L346 55.07 L348 55.07 L350 55.02" fill="none" stroke="url(#og)" stroke-width="1.3"/>
<path d="M30 101.46 L32 101.08 L34 100.58 L36 99.9 L38 99.19 L40 98.43 L42 97.88 L44 97.52 L46 97.15 L48 96.61 L50 95.9 L52 95.13 L54 94.3 L56 93.42 L58 92.68 L60 92.13 L62 91.66 L64 91.23 L66 90.82 L68 90.32 L70 89.68 L72 88.95 L74 88.2 L76 87.42 L78 86.72 L80 86.08 L82 85.44 L84 84.82 L86 84.2 L88 83.5 L90 82.75 L92 82.09 L94 81.49 L96 80.98 L98 80.63 L100 80.22 L102 79.63 L104 79.01 L106 78.37 L108 77.51 L110 76.64 L112 75.97 L114 75.33 L116 74.62 L118 74.02 L120 73.5 L122 72.85 L124 72.03 L126 71.15 L128 70.24 L130 69.32 L132 68.44 L134 67.62 L136 66.9 L138 66.24 L140 65.46 L142 64.52 L144 63.56 L146 62.56 L148 61.67 L150 61.08 L152 60.72 L154 60.44 L156 60.14 L158 59.67 L160 59.11 L162 58.53 L164 58.02 L166 57.68 L168 57.36 L170 56.98 L172 56.68 L174 56.36 L176 56.03 L178 55.81 L180 55.81 L182 55.9 L184 55.95 L186 55.99 L188 56.05 L190 56.03 L192 56.06 L194 56.26 L196 56.53 L198 56.83 L200 57.11 L202 57.24 L204 57.33 L206 57.46 L208 57.56 L210 57.71 L212 57.96 L214 58.21 L216 58.4 L218 58.59 L220 58.77 L222 58.88 L224 58.92 L226 58.97 L228 59.01 L230 59.05 L232 59.14 L234 59.25 L236 59.34 L238 59.42 L240 59.48 L242 59.47 L244 59.43 L246 59.42 L248 59.41 L250 59.41 L252 59.48 L254 59.57 L256 59.59 L258 59.55 L260 59.6 L262 59.68 L264 59.67 L266 59.68 L268 59.75 L270 59.75 L272 59.67 L274 59.62 L276 59.65 L278 59.71 L280 59.75 L282 59.8 L284 59.84 L286 59.82 L288 59.76 L290 59.7 L292 59.66 L294 59.67 L296 59.71 L298 59.77 L300 59.8 L302 59.76 L304 59.73 L306 59.72 L308 59.72 L310 59.78 L312 59.84 L314 59.82 L316 59.75 L318 59.64 L320 59.51 L322 59.42 L324 59.42 L326 59.49 L328 59.57 L330 59.65 L332 59.76 L334 59.85 L336 59.88 L338 59.91 L340 59.89 L342 59.78 L344 59.65 L346 59.52 L348 59.42 L350 59.34" fill="none" stroke="url(#og)" stroke-width="1.3"/>
<path d="M30 101.92 L32 101.83 L34 101.78 L36 101.53 L38 101.29 L40 101.02 L42 100.62 L44 99.96 L46 99.14 L48 98.4 L50 97.78 L52 97.03 L54 96.3 L56 95.73 L58 95.05 L60 94.31 L62 93.75 L64 93.16 L66 92.43 L68 91.67 L70 90.86 L72 90.13 L74 89.68 L76 89.25 L78 88.71 L80 88.18 L82 87.51 L84 86.74 L86 86.12 L88 85.62 L90 85.13 L92 84.48 L94 83.66 L96 82.86 L98 82.1 L100 81.34 L102 80.73 L104 80.26 L106 79.74 L108 79.09 L110 78.37 L112 77.68 L114 77.05 L116 76.46 L118 75.99 L120 75.45 L122 74.7 L124 73.88 L126 73.02 L128 71.97 L130 70.94 L132 70.04 L134 69.15 L136 68.31 L138 67.64 L140 66.97 L142 66.17 L144 65.52 L146 64.97 L148 64.36 L150 63.9 L152 63.43 L154 62.68 L156 62.01 L158 61.53 L160 61.01 L162 60.56 L164 60.42 L166 60.22 L168 59.9 L170 59.72 L172 59.62 L174 59.37 L176 59.17 L178 59.08 L180 59.03 L182 59.09 L184 59.31 L186 59.5 L188 59.55 L190 59.51 L192 59.6 L194 59.78 L196 59.94 L198 60.21 L200 60.59 L202 60.84 L204 61 L206 61.16 L208 61.3 L210 61.44 L212 61.64 L214 61.88 L216 62.12 L218 62.38 L220 62.7 L222 63.01 L224 63.26 L226 63.5 L228 63.71 L230 63.87 L232 63.93 L234 63.94 L236 63.96 L238 64.01 L240 64.05 L242 64.11 L244 64.15 L246 64.1 L248 64.08 L250 64.13 L252 64.15 L254 64.2 L256 64.23 L258 64.16 L260 64.09 L262 64.12 L264 64.1 L266 64.06 L268 64.08 L270 64.04 L272 63.97 L274 64 L276 64.1 L278 64.16 L280 64.2 L282 64.21 L284 64.19 L286 64.19 L288 64.18 L290 64.16 L292 64.13 L294 64.07 L296 64 L298 63.93 L300 63.87 L302 63.82 L304 63.83 L306 63.92 L308 64.02 L310 64.13 L312 64.23 L314 64.26 L316 64.25 L318 64.25 L320 64.21 L322 64.16 L324 64.12 L326 64.05 L328 63.98 L330 63.95 L332 63.99 L334 64.1 L336 64.13 L338 64.08 L340 64.06 L342 64.04 L344 63.95 L346 63.91 L348 63.97 L350 63.99" fill="none" stroke="url(#og)" stroke-width="1.3"/>
<path d="M30 107.48 L32 107.17 L34 106.89 L36 106.29 L38 105.75 L40 105.27 L42 104.79 L44 104.34 L46 103.91 L48 103.37 L50 102.72 L52 102.15 L54 101.62 L56 100.9 L58 100.12 L60 99.46 L62 98.72 L64 97.86 L66 97.1 L68 96.5 L70 95.86 L72 95.33 L74 94.97 L76 94.63 L78 94.27 L80 93.81 L82 93.09 L84 92.25 L86 91.41 L88 90.62 L90 89.98 L92 89.51 L94 89.1 L96 88.7 L98 88.26 L100 87.76 L102 87.18 L104 86.51 L106 85.78 L108 84.95 L110 84.04 L112 83.18 L114 82.4 L116 81.6 L118 80.83 L120 80.21 L122 79.59 L124 78.92 L126 78.29 L128 77.62 L130 76.79 L132 75.91 L134 75.02 L136 74.24 L138 73.64 L140 72.99 L142 72.18 L144 71.53 L146 70.95 L148 70.29 L150 69.82 L152 69.55 L154 69.16 L156 68.54 L158 67.82 L160 67.16 L162 66.55 L164 65.97 L166 65.54 L168 65.27 L170 65 L172 64.81 L174 64.7 L176 64.56 L178 64.38 L180 64.14 L182 63.77 L184 63.47 L186 63.36 L188 63.26 L190 63.17 L192 63.22 L194 63.19 L196 63.08 L198 63.05 L200 63.05 L202 62.97 L204 62.95 L206 63.01 L208 63.07 L210 63.2 L212 63.39 L214 63.5 L216 63.54 L218 63.6 L220 63.65 L222 63.72 L224 63.76 L226 63.78 L228 63.81 L230 63.87 L232 63.88 L234 63.86 L236 63.9 L238 63.94 L240 63.95 L242 64.02 L244 64.11 L246 64.14 L248 64.14 L250 64.14 L252 64.16 L254 64.23 L256 64.32 L258 64.39 L260 64.38 L262 64.27 L264 64.18 L266 64.15 L268 64.12 L270 64.14 L272 64.18 L274 64.1 L276 64 L278 63.93 L280 63.87 L282 63.86 L284 63.88 L286 63.85 L288 63.84 L290 63.89 L292 63.98 L294 64.12 L296 64.21 L298 64.22 L300 64.23 L302 64.25 L304 64.23 L306 64.24 L308 64.25 L310 64.17 L312 64.1 L314 64.12 L316 64.12 L318 64.16 L320 64.27 L322 64.35 L324 64.34 L326 64.34 L328 64.36 L330 64.36 L332 64.29 L334 64.2 L336 64.18 L338 64.19 L340 64.21 L342 64.28 L344 64.38 L346 64.44 L348 64.45 L350 64.46" fill="none" stroke="url(#og)" stroke-width="1.3"/>
<path d="M30 110.95 L32 110.76 L34 110.51 L36 110.03 L38 109.37 L40 108.58 L42 107.81 L44 107.07 L46 106.4 L48 105.83 L50 105.3 L52 104.77 L54 104.22 L56 103.73 L58 103.29 L60 102.86 L62 102.48 L64 102.07 L66 101.57 L68 100.97 L70 100.31 L72 99.66 L74 99.09 L76 98.47 L78 97.81 L80 97.21 L82 96.58 L84 95.97 L86 95.48 L88 94.97 L90 94.36 L92 93.67 L94 92.87 L96 92.15 L98 91.64 L100 91.16 L102 90.68 L104 90.18 L106 89.46 L108 88.59 L110 87.76 L112 86.99 L114 86.32 L116 85.72 L118 85.13 L120 84.45 L122 83.66 L124 82.79 L126 81.86 L128 80.94 L130 80.13 L132 79.51 L134 79.05 L136 78.51 L138 77.8 L140 77.12 L142 76.4 L144 75.53 L146 74.73 L148 74.09 L150 73.4 L152 72.67 L154 72.01 L156 71.5 L158 71.06 L160 70.61 L162 70.15 L164 69.72 L166 69.24 L168 68.77 L170 68.39 L172 68.11 L174 67.9 L176 67.81 L178 67.79 L180 67.7 L182 67.53 L184 67.36 L186 67.14 L188 66.97 L190 66.99 L192 67.12 L194 67.26 L196 67.47 L198 67.64 L200 67.69 L202 67.7 L204 67.77 L206 67.84 L208 67.89 L210 68.01 L212 68.17 L214 68.26 L216 68.41 L218 68.64 L220 68.79 L222 68.91 L224 69.05 L226 69.07 L228 69.03 L230 69.09 L232 69.17 L234 69.22 L236 69.3 L238 69.39 L240 69.4 L242 69.41 L244 69.43 L246 69.38 L248 69.28 L250 69.2 L252 69.21 L254 69.3 L256 69.37 L258 69.4 L260 69.49 L262 69.56 L264 69.54 L266 69.53 L268 69.61 L270 69.68 L272 69.65 L274 69.59 L276 69.56 L278 69.48 L280 69.36 L282 69.29 L284 69.34 L286 69.43 L288 69.52 L290 69.58 L292 69.62 L294 69.59 L296 69.48 L298 69.37 L300 69.33 L302 69.36 L304 69.45 L306 69.58 L308 69.71 L310 69.74 L312 69.67 L314 69.53 L316 69.35 L318 69.22 L320 69.12 L322 69.09 L324 69.11 L326 69.14 L328 69.15 L330 69.15 L332 69.14 L334 69.12 L336 69.16 L338 69.26 L340 69.39 L342 69.54 L344 69.63 L346 69.6 L348 69.6 L350 69.55" fill="none" stroke="url(#og)" stroke-width="1.3"/>
<path d="M30 113.75 L32 113.51 L34 113.35 L36 112.89 L38 112.51 L40 112.19 L42 111.78 L44 111.1 L46 110.2 L48 109.33 L50 108.5 L52 107.73 L54 107.2 L56 106.92 L58 106.66 L60 106.16 L62 105.44 L64 104.7 L66 103.92 L68 103.2 L70 102.75 L72 102.33 L74 101.73 L76 101.13 L78 100.48 L80 99.7 L82 99.06 L84 98.62 L86 98.2 L88 97.76 L90 97.37 L92 96.84 L94 96.08 L96 95.36 L98 94.69 L100 93.97 L102 93.4 L104 92.99 L106 92.49 L108 91.82 L110 91.09 L112 90.43 L114 89.82 L116 89.08 L118 88.27 L120 87.53 L122 86.72 L124 85.79 L126 84.93 L128 84.29 L130 83.75 L132 83.13 L134 82.49 L136 81.85 L138 81.05 L140 80.14 L142 79.27 L144 78.57 L146 78.04 L148 77.54 L150 77.05 L152 76.63 L154 76.14 L156 75.53 L158 74.9 L160 74.36 L162 73.85 L164 73.3 L166 72.77 L168 72.46 L170 72.27 L172 71.97 L174 71.62 L176 71.46 L178 71.3 L180 71.11 L182 71.13 L184 71.3 L186 71.39 L188 71.29 L190 71.04 L192 70.79 L194 70.6 L196 70.54 L198 70.68 L200 70.95 L202 71.18 L204 71.43 L206 71.62 L208 71.75 L210 71.9 L212 72.05 L214 72.14 L216 72.25 L218 72.4 L220 72.53 L222 72.67 L224 72.81 L226 72.85 L228 72.85 L230 72.85 L232 72.83 L234 72.8 L236 72.82 L238 72.86 L240 72.93 L242 73.07 L244 73.15 L246 73.13 L248 73.12 L250 73.1 L252 72.99 L254 72.91 L256 72.91 L258 72.87 L260 72.83 L262 72.88 L264 72.94 L266 72.97 L268 72.98 L270 72.93 L272 72.83 L274 72.77 L276 72.8 L278 72.89 L280 72.99 L282 73.08 L284 73.11 L286 73.04 L288 72.94 L290 72.87 L292 72.88 L294 73 L296 73.1 L298 73.12 L300 73.15 L302 73.14 L304 73.06 L306 73.03 L308 73.09 L310 73.16 L312 73.19 L314 73.21 L316 73.26 L318 73.29 L320 73.27 L322 73.24 L324 73.2 L326 73.11 L328 73 L330 72.91 L332 72.84 L334 72.79 L336 72.83 L338 72.95 L340 73 L342 73 L344 73 L346 72.92 L348 72.8 L350 72.71" fill="none" stroke="url(#og)" stroke-width="1.3"/>
<path d="M30 116.01 L32 115.8 L34 115.73 L36 115.14 L38 114.49 L40 114.03 L42 113.48 L44 112.71 L46 112.05 L48 111.66 L50 111.32 L52 110.86 L54 110.4 L56 110 L58 109.48 L60 108.86 L62 108.31 L64 107.82 L66 107.35 L68 106.77 L70 106.06 L72 105.38 L74 104.73 L76 104.02 L78 103.39 L80 102.79 L82 102.06 L84 101.43 L86 100.96 L88 100.47 L90 99.99 L92 99.61 L94 99.13 L96 98.37 L98 97.53 L100 96.79 L102 96.08 L104 95.3 L106 94.63 L108 94.13 L110 93.62 L112 92.91 L114 92.08 L116 91.32 L118 90.55 L120 89.76 L122 89.13 L124 88.54 L126 87.81 L128 87.12 L130 86.5 L132 85.89 L134 85.4 L136 84.92 L138 84.29 L140 83.62 L142 82.95 L144 82.24 L146 81.59 L148 80.93 L150 80.16 L152 79.4 L154 78.69 L156 78.15 L158 77.85 L160 77.52 L162 77.06 L164 76.63 L166 76.11 L168 75.43 L170 74.84 L172 74.45 L174 74.08 L176 73.71 L178 73.41 L180 73.36 L182 73.44 L184 73.49 L186 73.51 L188 73.6 L190 73.59 L192 73.46 L194 73.42 L196 73.36 L198 73.2 L200 73.05 L202 72.92 L204 72.76 L206 72.66 L208 72.66 L210 72.63 L212 72.63 L214 72.72 L216 72.85 L218 72.99 L220 73.14 L222 73.24 L224 73.25 L226 73.21 L228 73.2 L230 73.21 L232 73.17 L234 73.14 L236 73.19 L238 73.27 L240 73.31 L242 73.37 L244 73.4 L246 73.33 L248 73.26 L250 73.26 L252 73.19 L254 73.12 L256 73.09 L258 72.99 L260 72.9 L262 72.93 L264 72.99 L266 73.02 L268 73.07 L270 73.09 L272 73.07 L274 73.09 L276 73.1 L278 73.03 L280 73.01 L282 73.04 L284 73.02 L286 73 L288 73.06 L290 73.07 L292 73 L294 72.97 L296 73.02 L298 73.09 L300 73.15 L302 73.21 L304 73.24 L306 73.2 L308 73.1 L310 72.98 L312 72.88 L314 72.85 L316 72.86 L318 72.9 L320 72.92 L322 72.9 L324 72.87 L326 72.83 L328 72.84 L330 72.93 L332 73.05 L334 73.16 L336 73.28 L338 73.37 L340 73.41 L342 73.46 L344 73.5 L346 73.5 L348 73.5 L350 73.49" fill="none" stroke="url(#og)" stroke-width="1.3"/>
<path d="M30 117.5 L32 117.3 L34 117.13 L36 116.74 L38 116.38 L40 116.03 L42 115.63 L44 115.18 L46 114.7 L48 114.14 L50 113.53 L52 113.01 L54 112.58 L56 112.03 L58 111.4 L60 110.85 L62 110.24 L64 109.61 L66 109.17 L68 108.84 L70 108.46 L72 107.93 L74 107.22 L76 106.42 L78 105.62 L80 104.94 L82 104.47 L84 103.94 L86 103.25 L88 102.59 L90 101.83 L92 101.03 L94 100.46 L96 100.04 L98 99.59 L100 99.03 L102 98.31 L104 97.49 L106 96.64 L108 95.83 L110 95.11 L112 94.59 L114 94.2 L116 93.77 L118 93.25 L120 92.8 L122 92.34 L124 91.73 L126 91.15 L128 90.66 L130 90.11 L132 89.26 L134 88.27 L136 87.35 L138 86.41 L140 85.41 L142 84.56 L144 83.98 L146 83.45 L148 82.89 L150 82.35 L152 81.81 L154 81.16 L156 80.55 L158 80.08 L160 79.59 L162 79.08 L164 78.72 L166 78.32 L168 77.86 L170 77.5 L172 77.38 L174 77.34 L176 77.22 L178 77.04 L180 76.87 L182 76.58 L184 76.14 L186 75.76 L188 75.56 L190 75.48 L192 75.5 L194 75.62 L196 75.8 L198 75.91 L200 75.98 L202 76.05 L204 76.1 L206 76.16 L208 76.19 L210 76.17 L212 76.13 L214 76.09 L216 76.13 L218 76.27 L220 76.46 L222 76.65 L224 76.83 L226 76.91 L228 76.96 L230 77.02 L232 77.05 L234 77.07 L236 77.08 L238 77.03 L240 76.93 L242 76.84 L244 76.76 L246 76.69 L248 76.7 L250 76.78 L252 76.88 L254 77.03 L256 77.19 L258 77.29 L260 77.3 L262 77.24 L264 77.19 L266 77.14 L268 77.12 L270 77.17 L272 77.24 L274 77.28 L276 77.29 L278 77.26 L280 77.18 L282 77.1 L284 77.04 L286 77 L288 76.96 L290 76.89 L292 76.85 L294 76.8 L296 76.79 L298 76.85 L300 76.97 L302 77.11 L304 77.22 L306 77.24 L308 77.2 L310 77.13 L312 77.01 L314 76.94 L316 76.91 L318 76.91 L320 76.95 L322 77.03 L324 77.08 L326 77.08 L328 77.13 L330 77.19 L332 77.14 L334 77.06 L336 77.02 L338 76.95 L340 76.85 L342 76.85 L344 76.9 L346 76.93 L348 76.96 L350 76.97" fill="none" stroke="url(#og)" stroke-width="1.3"/>
</g>
<path d="M109.9 77.2V85" stroke="#4169e1" stroke-width="1.6"/>
<circle cx="109.9" cy="81" r="2.85" fill="#4169e1"/>
<path d="M117.6 83V93.7" stroke="#4169e1" stroke-width="1.6"/>
<circle cx="117.6" cy="88.2" r="2.85" fill="#4169e1"/>
<circle cx="125" cy="78" r="2.85" fill="#4169e1"/>
<path d="M152.4 59V70.6" stroke="#4169e1" stroke-width="1.6"/>
<circle cx="152.4" cy="64.5" r="2.85" fill="#4169e1"/>
<path d="M160.7 69.8V83" stroke="#4169e1" stroke-width="1.6"/>
<circle cx="160.7" cy="76.4" r="2.85" fill="#4169e1"/>
<path d="M164.6 72.5V79.5" stroke="#4169e1" stroke-width="1.6"/>
<circle cx="164.6" cy="76" r="2.85" fill="#4169e1"/>
<path d="M172.2 73V83.8" stroke="#4169e1" stroke-width="1.6"/>
<circle cx="172.2" cy="78.3" r="2.85" fill="#4169e1"/>
<path d="M191.7 77V90.5" stroke="#4169e1" stroke-width="1.6"/>
<circle cx="191.7" cy="83.7" r="2.85" fill="#4169e1"/>
<circle cx="203.3" cy="64.2" r="2.85" fill="#4169e1"/>
<path d="M207.2 72.8V82.2" stroke="#4169e1" stroke-width="1.6"/>
<circle cx="207.2" cy="77.1" r="2.85" fill="#4169e1"/>
<path d="M214.9 60.2V67.9" stroke="#4169e1" stroke-width="1.6"/>
<circle cx="214.9" cy="64.2" r="2.85" fill="#4169e1"/>
<path d="M218.7 54.8V67.5" stroke="#4169e1" stroke-width="1.6"/>
<circle cx="218.7" cy="60.9" r="2.85" fill="#4169e1"/>
<path d="M234 50.8V70.1" stroke="#4169e1" stroke-width="1.6"/>
<circle cx="234" cy="60.2" r="2.85" fill="#4169e1"/>
<circle cx="253.8" cy="59.6" r="2.85" fill="#4169e1"/>
<path d="M137.3 86V78.7" stroke="#4169e1" stroke-width="2"/>
<path d="M133.7 80.2L137.3 74.7L140.9 80.2Z" fill="#4169e1"/>
<circle cx="137.3" cy="86" r="2.85" fill="#4169e1"/>
<path d="M175.8 67.8V61" stroke="#4169e1" stroke-width="2"/>
<path d="M172.2 62.5L175.8 57L179.4 62.5Z" fill="#4169e1"/>
<circle cx="175.8" cy="67.8" r="2.85" fill="#4169e1"/>
<path d="M238.4 70.1V64.9" stroke="#4169e1" stroke-width="2"/>
<path d="M234.8 66.4L238.4 60.9L242 66.4Z" fill="#4169e1"/>
<circle cx="238.4" cy="70.1" r="2.85" fill="#4169e1"/>
<path d="M323.6 50.8V43.8" stroke="#4169e1" stroke-width="2"/>
<path d="M320 45.3L323.6 39.8L327.2 45.3Z" fill="#4169e1"/>
<circle cx="323.6" cy="50.8" r="2.85" fill="#4169e1"/>
<path d="M195.4 48V82.5" stroke="#dc143c" stroke-width="1.7"/>
<circle cx="129.3" cy="82.1" r="3.6" fill="#dc143c"/>
<circle cx="195.4" cy="65" r="3.6" fill="#dc143c"/>
<circle cx="238.2" cy="75.5" r="3.6" fill="#dc143c"/>
<g clip-path="url(#cBL)">
<path d="M30 187.91 L33 187.87 L36 187.8 L39 187.64 L42 187.4 L45 187.15 L48 186.98 L51 186.85 L54 186.78 L57 186.77 L60 186.78 L63 186.68 L66 186.59 L69 186.56 L72 186.58 L75 186.58 L78 186.51 L81 186.41 L84 186.34 L87 186.19 L90 186.04 L93 186.03 L96 186.05 L99 186.04 L102 186.08 L105 186.13 L108 186.09 L111 185.93 L114 185.63 L117 185.4 L120 185.21 L123 184.95 L126 184.74 L129 184.61 L132 184.45 L135 184.28 L138 184.13 L141 183.97 L144 183.78 L147 183.6 L150 183.43 L153 183.32 L156 183.14 L159 182.86 L162 182.49 L165 182.06 L168 181.61 L171 181.2 L174 180.86 L177 180.53 L180 180.25 L183 180.08 L186 179.88 L189 179.56 L192 179.24 L195 178.89 L198 178.42 L201 177.98 L204 177.66 L207 177.38 L210 177.15 L213 176.94 L216 176.77 L219 176.63 L222 176.4 L225 176.1 L228 175.8 L231 175.41 L234 174.89 L237 174.44 L240 174.05 L243 173.74 L246 173.45 L249 173.14 L252 172.82 L255 172.46 L258 171.98 L261 171.5 L264 171.06 L267 170.59 L270 170.06 L273 169.42 L276 168.8 L279 168.22 L282 167.72 L285 167.24 L288 166.71 L291 166.23 L294 165.82 L297 165.22 L300 164.57 L303 164.15 L306 163.73 L309 163.15 L312 162.68 L315 162.21 L318 161.55 L321 160.85 L324 160.18 L327 159.62 L330 159.12 L333 158.62 L336 158.12 L339 157.63 L342 157.13 L345 156.66 L348 156.26 L351 155.8 L354 155.21 L357 154.93 L360 154.53 L360 195.96 L357 196.17 L354 196.39 L351 196.83 L348 197.33 L345 197.87 L342 198.45 L339 199.03 L336 199.6 L333 200.19 L330 200.78 L327 201.28 L324 201.8 L321 202.39 L318 202.96 L315 203.5 L312 204.05 L309 204.64 L306 205.28 L303 205.87 L300 206.48 L297 207.18 L294 207.88 L291 208.55 L288 209.21 L285 209.88 L282 210.53 L279 211.07 L276 211.44 L273 211.86 L270 212.33 L267 212.91 L264 213.52 L261 214.14 L258 214.78 L255 215.34 L252 215.6 L249 215.83 L246 216.14 L243 216.38 L240 216.62 L237 216.97 L234 217.41 L231 217.93 L228 218.45 L225 218.95 L222 219.35 L219 219.72 L216 220.08 L213 220.44 L210 220.82 L207 221.27 L204 221.63 L201 221.84 L198 222.12 L195 222.46 L192 222.8 L189 223.17 L186 223.57 L183 223.89 L180 224.17 L177 224.48 L174 224.82 L171 225.18 L168 225.57 L165 225.96 L162 226.37 L159 226.72 L156 227 L153 227.18 L150 227.3 L147 227.44 L144 227.65 L141 227.94 L138 228.25 L135 228.58 L132 228.94 L129 229.2 L126 229.33 L123 229.47 L120 229.63 L117 229.84 L114 230.1 L111 230.43 L108 230.74 L105 230.97 L102 230.97 L99 230.87 L96 230.76 L93 230.77 L90 230.88 L87 231.02 L84 231.16 L81 231.27 L78 231.28 L75 231.22 L72 231.25 L69 231.34 L66 231.49 L63 231.73 L60 232.01 L57 232.21 L54 232.33 L51 232.4 L48 232.4 L45 232.4 L42 232.53 L39 232.77 L36 233.12 L33 233.29 L30 233.47Z" fill="#eaeaea" filter="url(#b05)"/>
<path d="M30 192.58 L33 192.5 L36 192.38 L39 192.11 L42 191.97 L45 191.88 L48 191.7 L51 191.54 L54 191.43 L57 191.28 L60 191.14 L63 191.14 L66 191.16 L69 191.14 L72 191.11 L75 191.05 L78 190.9 L81 190.83 L84 190.91 L87 190.88 L90 190.78 L93 190.74 L96 190.66 L99 190.49 L102 190.44 L105 190.47 L108 190.49 L111 190.45 L114 190.31 L117 190.09 L120 189.82 L123 189.56 L126 189.29 L129 189.01 L132 188.79 L135 188.63 L138 188.5 L141 188.44 L144 188.44 L147 188.26 L150 187.96 L153 187.7 L156 187.39 L159 187 L162 186.8 L165 186.65 L168 186.31 L171 185.92 L174 185.58 L177 185.21 L180 184.85 L183 184.63 L186 184.43 L189 184.17 L192 183.93 L195 183.66 L198 183.32 L201 182.96 L204 182.62 L207 182.21 L210 181.76 L213 181.37 L216 181.02 L219 180.7 L222 180.39 L225 180.09 L228 179.79 L231 179.53 L234 179.32 L237 179.07 L240 178.77 L243 178.35 L246 177.89 L249 177.41 L252 176.99 L255 176.63 L258 176.32 L261 175.94 L264 175.43 L267 174.85 L270 174.21 L273 173.57 L276 172.98 L279 172.45 L282 171.88 L285 171.32 L288 170.79 L291 170.31 L294 169.9 L297 169.48 L300 169.03 L303 168.55 L306 168.04 L309 167.5 L312 167.01 L315 166.55 L318 166.08 L321 165.54 L324 164.93 L327 164.35 L330 163.76 L333 163.07 L336 162.48 L339 162.06 L342 161.54 L345 160.97 L348 160.49 L351 159.99 L354 159.43 L357 159.15 L360 158.94 L360 191.18 L357 191.53 L354 191.83 L351 192.39 L348 192.95 L345 193.52 L342 194.13 L339 194.81 L336 195.56 L333 196.29 L330 196.99 L327 197.58 L324 198.1 L321 198.53 L318 199 L315 199.49 L312 199.99 L309 200.49 L306 201 L303 201.58 L300 202.2 L297 202.75 L294 203.32 L291 203.94 L288 204.49 L285 205.04 L282 205.7 L279 206.43 L276 207.22 L273 207.86 L270 208.41 L267 208.98 L264 209.52 L261 210.01 L258 210.5 L255 210.94 L252 211.27 L249 211.51 L246 211.68 L243 211.99 L240 212.38 L237 212.8 L234 213.28 L231 213.85 L228 214.21 L225 214.47 L222 214.83 L219 215.13 L216 215.28 L213 215.61 L210 216.02 L207 216.32 L204 216.69 L201 217.24 L198 217.71 L195 218.11 L192 218.51 L189 218.84 L186 219.05 L183 219.37 L180 219.77 L177 220.21 L174 220.61 L171 220.97 L168 221.26 L165 221.48 L162 221.63 L159 221.8 L156 222.05 L153 222.39 L150 222.81 L147 223.23 L144 223.61 L141 223.9 L138 224.01 L135 224.04 L132 224.19 L129 224.44 L126 224.77 L123 225.03 L120 225.22 L117 225.38 L114 225.5 L111 225.6 L108 225.79 L105 226.03 L102 226.16 L99 226.25 L96 226.32 L93 226.37 L90 226.42 L87 226.48 L84 226.53 L81 226.56 L78 226.69 L75 226.87 L72 226.94 L69 227.02 L66 227.16 L63 227.17 L60 227.12 L57 227.2 L54 227.34 L51 227.5 L48 227.74 L45 228.01 L42 228.19 L39 228.3 L36 228.37 L33 228.37 L30 228.32Z" fill="#dddddd" filter="url(#b05)"/>
<path d="M30 196.69 L33 196.67 L36 196.67 L39 196.57 L42 196.46 L45 196.36 L48 196.3 L51 196.19 L54 195.98 L57 195.87 L60 195.78 L63 195.58 L66 195.36 L69 195.21 L72 195.14 L75 195.13 L78 195.11 L81 195.15 L84 195.27 L87 195.32 L90 195.3 L93 195.18 L96 195.02 L99 194.84 L102 194.66 L105 194.5 L108 194.4 L111 194.29 L114 194.11 L117 193.92 L120 193.74 L123 193.66 L126 193.57 L129 193.42 L132 193.23 L135 193.01 L138 192.74 L141 192.5 L144 192.35 L147 192.23 L150 192.09 L153 191.87 L156 191.62 L159 191.38 L162 191.05 L165 190.71 L168 190.47 L171 190.22 L174 189.9 L177 189.58 L180 189.28 L183 188.99 L186 188.67 L189 188.31 L192 188.03 L195 187.77 L198 187.43 L201 187.1 L204 186.83 L207 186.51 L210 186.13 L213 185.69 L216 185.3 L219 185.01 L222 184.76 L225 184.53 L228 184.3 L231 184.02 L234 183.64 L237 183.2 L240 182.78 L243 182.5 L246 182.24 L249 181.94 L252 181.61 L255 181.25 L258 180.84 L261 180.41 L264 180 L267 179.5 L270 178.96 L273 178.43 L276 177.84 L279 177.15 L282 176.5 L285 175.89 L288 175.25 L291 174.63 L294 174.02 L297 173.52 L300 173.07 L303 172.53 L306 171.95 L309 171.37 L312 170.79 L315 170.24 L318 169.75 L321 169.3 L324 168.86 L327 168.37 L330 167.85 L333 167.33 L336 166.8 L339 166.26 L342 165.73 L345 165.18 L348 164.58 L351 164.02 L354 163.54 L357 163.3 L360 163.06 L360 187.21 L357 187.6 L354 187.97 L351 188.62 L348 189.21 L345 189.76 L342 190.34 L339 190.92 L336 191.48 L333 192.14 L330 192.83 L327 193.43 L324 193.95 L321 194.38 L318 194.8 L315 195.21 L312 195.65 L309 196.17 L306 196.8 L303 197.4 L300 197.99 L297 198.66 L294 199.28 L291 199.81 L288 200.41 L285 201.03 L282 201.55 L279 202.14 L276 202.91 L273 203.53 L270 204.09 L267 204.76 L264 205.33 L261 205.7 L258 206.13 L255 206.54 L252 206.75 L249 206.99 L246 207.36 L243 207.76 L240 208.2 L237 208.73 L234 209.25 L231 209.73 L228 210.14 L225 210.47 L222 210.68 L219 210.85 L216 211.02 L213 211.3 L210 211.66 L207 212.03 L204 212.43 L201 212.87 L198 213.19 L195 213.45 L192 213.76 L189 214.1 L186 214.46 L183 214.85 L180 215.25 L177 215.61 L174 215.94 L171 216.22 L168 216.5 L165 216.81 L162 217.23 L159 217.63 L156 217.94 L153 218.29 L150 218.61 L147 218.76 L144 218.9 L141 219.12 L138 219.33 L135 219.56 L132 219.88 L129 220.15 L126 220.32 L123 220.51 L120 220.7 L117 220.86 L114 221.02 L111 221.21 L108 221.39 L105 221.56 L102 221.71 L99 221.81 L96 221.83 L93 221.83 L90 221.85 L87 221.94 L84 222.13 L81 222.42 L78 222.7 L75 222.93 L72 223.02 L69 223.09 L66 223.2 L63 223.29 L60 223.36 L57 223.41 L54 223.45 L51 223.47 L48 223.51 L45 223.58 L42 223.65 L39 223.72 L36 223.78 L33 223.76 L30 223.71Z" fill="#d0d0d0" filter="url(#b05)"/>
<path d="M30 201.32 L33 201.26 L36 201.16 L39 200.84 L42 200.71 L45 200.65 L48 200.49 L51 200.38 L54 200.38 L57 200.3 L60 200.19 L63 200.21 L66 200.24 L69 200.22 L72 200.19 L75 200.12 L78 200.02 L81 199.88 L84 199.73 L87 199.66 L90 199.62 L93 199.48 L96 199.35 L99 199.3 L102 199.2 L105 199.08 L108 198.99 L111 198.83 L114 198.57 L117 198.3 L120 198.05 L123 197.9 L126 197.77 L129 197.63 L132 197.55 L135 197.48 L138 197.3 L141 197.17 L144 197.17 L147 197.05 L150 196.84 L153 196.64 L156 196.33 L159 195.88 L162 195.4 L165 194.93 L168 194.56 L171 194.26 L174 194.04 L177 193.9 L180 193.74 L183 193.41 L186 192.99 L189 192.53 L192 192.16 L195 191.87 L198 191.65 L201 191.42 L204 191.16 L207 190.82 L210 190.41 L213 189.95 L216 189.54 L219 189.22 L222 188.88 L225 188.55 L228 188.3 L231 187.99 L234 187.57 L237 187.12 L240 186.68 L243 186.33 L246 186.06 L249 185.9 L252 185.64 L255 185.26 L258 184.74 L261 184.12 L264 183.43 L267 182.91 L270 182.47 L273 182 L276 181.51 L279 181.02 L282 180.51 L285 179.99 L288 179.46 L291 178.9 L294 178.27 L297 177.65 L300 177 L303 176.32 L306 175.69 L309 175.16 L312 174.63 L315 174.11 L318 173.61 L321 173.08 L324 172.48 L327 171.9 L330 171.34 L333 170.83 L336 170.41 L339 170.11 L342 169.6 L345 169.01 L348 168.53 L351 167.99 L354 167.27 L357 166.99 L360 166.79 L360 183.53 L357 183.74 L354 184.03 L351 184.8 L348 185.32 L345 185.75 L342 186.37 L339 186.92 L336 187.27 L333 187.77 L330 188.34 L327 188.84 L324 189.37 L321 190 L318 190.58 L315 191.14 L312 191.76 L309 192.33 L306 192.77 L303 193.37 L300 194.06 L297 194.71 L294 195.38 L291 196.13 L288 196.66 L285 197.06 L282 197.53 L279 198 L276 198.43 L273 199.01 L270 199.7 L267 200.4 L264 201.05 L261 201.62 L258 202.12 L255 202.52 L252 202.81 L249 203.09 L246 203.41 L243 203.82 L240 204.27 L237 204.62 L234 204.95 L231 205.31 L228 205.67 L225 206.01 L222 206.31 L219 206.65 L216 207.07 L213 207.39 L210 207.69 L207 208.11 L204 208.58 L201 209.04 L198 209.37 L195 209.61 L192 209.91 L189 210.23 L186 210.53 L183 210.83 L180 211.14 L177 211.42 L174 211.68 L171 211.92 L168 212.27 L165 212.7 L162 213.13 L159 213.54 L156 213.92 L153 214.25 L150 214.54 L147 214.79 L144 214.98 L141 215.08 L138 215.23 L135 215.39 L132 215.48 L129 215.6 L126 215.81 L123 215.94 L120 216.02 L117 216.15 L114 216.31 L111 216.46 L108 216.67 L105 216.93 L102 217.16 L99 217.35 L96 217.51 L93 217.59 L90 217.61 L87 217.61 L84 217.62 L81 217.68 L78 217.74 L75 217.83 L72 217.97 L69 218.13 L66 218.32 L63 218.48 L60 218.61 L57 218.69 L54 218.72 L51 218.7 L48 218.78 L45 218.93 L42 219.1 L39 219.3 L36 219.55 L33 219.64 L30 219.72Z" fill="#c2c2c2" filter="url(#b05)"/>
<path d="M30 205.78 L33 205.75 L36 205.71 L39 205.74 L42 205.65 L45 205.49 L48 205.4 L51 205.25 L54 204.99 L57 204.85 L60 204.78 L63 204.67 L66 204.64 L69 204.76 L72 204.65 L75 204.4 L78 204.19 L81 204 L84 203.83 L87 203.84 L90 203.94 L93 203.96 L96 203.91 L99 203.83 L102 203.68 L105 203.51 L108 203.36 L111 203.19 L114 202.96 L117 202.76 L120 202.55 L123 202.29 L126 202.02 L129 201.79 L132 201.59 L135 201.43 L138 201.28 L141 201.13 L144 200.98 L147 200.7 L150 200.36 L153 200.08 L156 199.82 L159 199.53 L162 199.29 L165 199.09 L168 198.9 L171 198.65 L174 198.28 L177 197.86 L180 197.4 L183 196.93 L186 196.47 L189 196.04 L192 195.66 L195 195.33 L198 195.03 L201 194.77 L204 194.55 L207 194.25 L210 193.87 L213 193.44 L216 192.98 L219 192.5 L222 192.09 L225 191.74 L228 191.45 L231 191.16 L234 190.84 L237 190.6 L240 190.39 L243 190.08 L246 189.74 L249 189.41 L252 189 L255 188.52 L258 187.98 L261 187.47 L264 187.05 L267 186.57 L270 186.05 L273 185.54 L276 184.99 L279 184.39 L282 183.72 L285 183.03 L288 182.38 L291 181.72 L294 181 L297 180.36 L300 179.79 L303 179.29 L306 178.82 L309 178.37 L312 177.94 L315 177.46 L318 176.84 L321 176.23 L324 175.71 L327 175.14 L330 174.55 L333 174.04 L336 173.5 L339 172.89 L342 172.31 L345 171.74 L348 171.13 L351 170.52 L354 169.9 L357 169.57 L360 169.24 L360 180.79 L357 181.04 L354 181.27 L351 181.86 L348 182.42 L345 182.94 L342 183.43 L339 183.94 L336 184.51 L333 184.94 L330 185.34 L327 185.93 L324 186.58 L321 187.22 L318 187.91 L315 188.61 L312 189.26 L309 189.78 L306 190.12 L303 190.49 L300 190.87 L297 191.25 L294 191.7 L291 192.26 L288 192.91 L285 193.63 L282 194.33 L279 195.06 L276 195.84 L273 196.5 L270 197.06 L267 197.55 L264 197.98 L261 198.37 L258 198.71 L255 199.04 L252 199.42 L249 199.79 L246 200.13 L243 200.44 L240 200.72 L237 201 L234 201.27 L231 201.56 L228 201.97 L225 202.43 L222 202.78 L219 203.16 L216 203.63 L213 203.93 L210 204.13 L207 204.43 L204 204.76 L201 205.08 L198 205.39 L195 205.7 L192 206.02 L189 206.35 L186 206.69 L183 207.05 L180 207.41 L177 207.74 L174 208.04 L171 208.34 L168 208.59 L165 208.82 L162 209.1 L159 209.39 L156 209.69 L153 210.03 L150 210.36 L147 210.63 L144 210.79 L141 210.84 L138 211.03 L135 211.27 L132 211.45 L129 211.59 L126 211.7 L123 211.79 L120 211.92 L117 212.21 L114 212.55 L111 212.86 L108 213.03 L105 213.11 L102 213.19 L99 213.24 L96 213.26 L93 213.28 L90 213.32 L87 213.38 L84 213.47 L81 213.58 L78 213.68 L75 213.76 L72 213.85 L69 213.93 L66 213.99 L63 214.16 L60 214.35 L57 214.44 L54 214.46 L51 214.41 L48 214.45 L45 214.54 L42 214.61 L39 214.73 L36 214.96 L33 215.04 L30 215.06Z" fill="#b3b3b3" filter="url(#b05)"/>
</g>
<path d="M109.7 212V221" stroke="#4169e1" stroke-width="1.6"/>
<circle cx="109.7" cy="216.6" r="2.85" fill="#4169e1"/>
<path d="M117.6 210V218.8" stroke="#4169e1" stroke-width="1.6"/>
<circle cx="117.6" cy="214.4" r="2.85" fill="#4169e1"/>
<circle cx="125.5" cy="209.6" r="2.85" fill="#4169e1"/>
<path d="M136.9 198V210" stroke="#4169e1" stroke-width="1.6"/>
<circle cx="136.9" cy="203.6" r="2.85" fill="#4169e1"/>
<path d="M152.2 206V217.7" stroke="#4169e1" stroke-width="1.6"/>
<circle cx="152.2" cy="211.8" r="2.85" fill="#4169e1"/>
<path d="M160.4 194.6V214.4" stroke="#4169e1" stroke-width="1.6"/>
<circle cx="160.4" cy="204.5" r="2.85" fill="#4169e1"/>
<path d="M164.1 196V206.7" stroke="#4169e1" stroke-width="1.6"/>
<circle cx="164.1" cy="200.6" r="2.85" fill="#4169e1"/>
<path d="M172 205V212" stroke="#4169e1" stroke-width="1.6"/>
<circle cx="172" cy="208.5" r="2.85" fill="#4169e1"/>
<path d="M176.2 205V212" stroke="#4169e1" stroke-width="1.6"/>
<circle cx="176.2" cy="208.5" r="2.85" fill="#4169e1"/>
<path d="M191.4 179.3V186.8" stroke="#4169e1" stroke-width="1.6"/>
<circle cx="191.4" cy="183" r="2.85" fill="#4169e1"/>
<circle cx="203" cy="193.6" r="2.85" fill="#4169e1"/>
<path d="M207 182V195" stroke="#4169e1" stroke-width="1.6"/>
<circle cx="207" cy="188.5" r="2.85" fill="#4169e1"/>
<circle cx="214.7" cy="207.8" r="2.85" fill="#4169e1"/>
<path d="M218.6 188.5V196.9" stroke="#4169e1" stroke-width="1.6"/>
<circle cx="218.6" cy="193" r="2.85" fill="#4169e1"/>
<path d="M234.4 168.8V178.7" stroke="#4169e1" stroke-width="1.6"/>
<circle cx="234.4" cy="174.3" r="2.85" fill="#4169e1"/>
<path d="M238.2 202.8V217" stroke="#4169e1" stroke-width="1.6"/>
<circle cx="238.2" cy="210" r="2.85" fill="#4169e1"/>
<circle cx="253.5" cy="193.4" r="2.85" fill="#4169e1"/>
<path d="M323.8 198V212.5" stroke="#4169e1" stroke-width="1.6"/>
<circle cx="323.8" cy="204.9" r="2.85" fill="#4169e1"/>
<circle cx="129.2" cy="196.8" r="3.6" fill="#dc143c"/>
<circle cx="195.4" cy="197.8" r="3.6" fill="#dc143c"/>
<circle cx="238.2" cy="190.3" r="3.6" fill="#dc143c"/>
<g clip-path="url(#cTR)">
<rect x="432.73" y="99.3" width="10.71" height="12.5" fill="#f39c1e" fill-opacity="0.95"/>
<rect x="434.43" y="101.9" width="7.31" height="7.4" fill="#555555" fill-opacity="1"/>
<rect x="443.84" y="98.4" width="10.71" height="12.8" fill="#f39c1e" fill-opacity="0.95"/>
<rect x="445.54" y="101" width="7.31" height="7.7" fill="#555555" fill-opacity="1"/>
<rect x="454.96" y="96.6" width="10.71" height="12.8" fill="#f39c1e" fill-opacity="0.95"/>
<rect x="456.66" y="99.2" width="7.31" height="7.7" fill="#555555" fill-opacity="1"/>
<rect x="466.07" y="94.4" width="10.71" height="13.1" fill="#f39c1e" fill-opacity="0.95"/>
<rect x="467.77" y="97" width="7.31" height="8" fill="#555555" fill-opacity="1"/>
<rect x="477.18" y="92.9" width="10.71" height="12.8" fill="#f39c1e" fill-opacity="0.95"/>
<rect x="478.88" y="95.5" width="7.31" height="7.7" fill="#555555" fill-opacity="1"/>
<rect x="488.29" y="91" width="10.71" height="12.5" fill="#f39c1e" fill-opacity="0.95"/>
<rect x="489.99" y="93.6" width="7.31" height="7.4" fill="#555555" fill-opacity="1"/>
<rect x="499.41" y="89" width="10.71" height="12.7" fill="#f39c1e" fill-opacity="0.95"/>
<rect x="501.11" y="91.6" width="7.31" height="7.6" fill="#555555" fill-opacity="1"/>
<rect x="510.52" y="85.6" width="10.71" height="12.2" fill="#f39c1e" fill-opacity="0.95"/>
<rect x="512.22" y="88.2" width="7.31" height="7.1" fill="#555555" fill-opacity="1"/>
<rect x="521.63" y="82.2" width="10.71" height="14.3" fill="#f5a848" fill-opacity="0.5"/>
<rect x="521.63" y="82.92" width="10.71" height="2.14" fill="#f8c080" fill-opacity="0.35"/>
<rect x="522.43" y="86.06" width="9.11" height="6.15" fill="#50565a" fill-opacity="0.9"/>
<rect x="522.43" y="92.21" width="9.11" height="2.86" fill="#a06a35" fill-opacity="0.5"/>
<path d="M522.23 82.2V96.5M531.74 82.2V96.5M521.43 83H532.54M521.43 95.07H532.54" stroke="#f39a20" stroke-opacity="0.65" stroke-width="1.1"/>
<rect x="532.74" y="80.2" width="10.71" height="15.5" fill="#f5a848" fill-opacity="0.5"/>
<rect x="532.74" y="80.98" width="10.71" height="2.32" fill="#f8c080" fill-opacity="0.35"/>
<rect x="533.54" y="84.39" width="9.11" height="6.66" fill="#50565a" fill-opacity="0.9"/>
<rect x="533.54" y="91.05" width="9.11" height="3.1" fill="#a06a35" fill-opacity="0.5"/>
<path d="M533.34 80.2V95.7M542.86 80.2V95.7M532.54 81H543.66M532.54 94.15H543.66" stroke="#f39a20" stroke-opacity="0.65" stroke-width="1.1"/>
<rect x="543.86" y="79.4" width="10.71" height="16.3" fill="#f5a848" fill-opacity="0.5"/>
<rect x="543.86" y="80.22" width="10.71" height="2.45" fill="#f8c080" fill-opacity="0.35"/>
<rect x="544.66" y="83.8" width="9.11" height="7.01" fill="#50565a" fill-opacity="0.9"/>
<rect x="544.66" y="90.81" width="9.11" height="3.26" fill="#a06a35" fill-opacity="0.5"/>
<path d="M544.46 79.4V95.7M553.97 79.4V95.7M543.66 80.2H554.77M543.66 94.07H554.77" stroke="#f39a20" stroke-opacity="0.65" stroke-width="1.1"/>
<rect x="554.97" y="80" width="10.71" height="16.6" fill="#f5a848" fill-opacity="0.5"/>
<rect x="554.97" y="80.83" width="10.71" height="2.49" fill="#f8c080" fill-opacity="0.35"/>
<rect x="555.77" y="84.48" width="9.11" height="7.14" fill="#50565a" fill-opacity="0.9"/>
<rect x="555.77" y="91.62" width="9.11" height="3.32" fill="#a06a35" fill-opacity="0.5"/>
<path d="M555.57 80V96.6M565.08 80V96.6M554.77 80.8H565.88M554.77 94.94H565.88" stroke="#f39a20" stroke-opacity="0.65" stroke-width="1.1"/>
<rect x="566.08" y="81" width="10.71" height="16.5" fill="#f5a848" fill-opacity="0.5"/>
<rect x="566.08" y="81.83" width="10.71" height="2.47" fill="#f8c080" fill-opacity="0.35"/>
<rect x="566.88" y="85.45" width="9.11" height="7.09" fill="#50565a" fill-opacity="0.9"/>
<rect x="566.88" y="92.55" width="9.11" height="3.3" fill="#a06a35" fill-opacity="0.5"/>
<path d="M566.68 81V97.5M576.19 81V97.5M565.88 81.8H576.99M565.88 95.85H576.99" stroke="#f39a20" stroke-opacity="0.65" stroke-width="1.1"/>
<rect x="577.19" y="81" width="10.71" height="19.5" fill="#f5a848" fill-opacity="0.5"/>
<rect x="577.19" y="81.97" width="10.71" height="2.93" fill="#f8c080" fill-opacity="0.35"/>
<rect x="577.99" y="86.27" width="9.11" height="8.39" fill="#50565a" fill-opacity="0.9"/>
<rect x="577.99" y="94.65" width="9.11" height="3.9" fill="#a06a35" fill-opacity="0.5"/>
<path d="M577.79 81V100.5M587.31 81V100.5M576.99 81.8H588.11M576.99 98.55H588.11" stroke="#f39a20" stroke-opacity="0.65" stroke-width="1.1"/>
<rect x="588.71" y="67.5" width="9.91" height="32.5" fill="#d8d8d8" fill-opacity="0.45"/>
<rect x="588.71" y="67.5" width="9.91" height="2.92" fill="#f7b878" fill-opacity="0.45"/>
<rect x="589.31" y="70.75" width="8.71" height="3.25" fill="#ffffff" fill-opacity="0.8"/>
<rect x="589.31" y="75.3" width="8.71" height="5.2" fill="#7c7c7c" fill-opacity="0.6"/>
<rect x="589.31" y="81.15" width="8.71" height="3.9" fill="#7a6550" fill-opacity="0.65"/>
<rect x="589.31" y="85.7" width="8.71" height="5.2" fill="#787878" fill-opacity="0.55"/>
<rect x="589.31" y="91.55" width="8.71" height="8.45" fill="#aaaaaa" fill-opacity="0.45"/>
<path d="M589.01 67.5V96.1M598.32 67.5V96.1M588.11 68.1H599.22" stroke="#f39a30" stroke-opacity="0.55" stroke-width="1.4"/>
<rect x="599.82" y="62" width="9.91" height="37" fill="#d8d8d8" fill-opacity="0.45"/>
<rect x="599.82" y="62" width="9.91" height="3.33" fill="#f7b878" fill-opacity="0.45"/>
<rect x="600.42" y="65.7" width="8.71" height="3.7" fill="#ffffff" fill-opacity="0.8"/>
<rect x="600.42" y="70.88" width="8.71" height="5.92" fill="#7c7c7c" fill-opacity="0.6"/>
<rect x="600.42" y="77.54" width="8.71" height="4.44" fill="#7a6550" fill-opacity="0.65"/>
<rect x="600.42" y="82.72" width="8.71" height="5.92" fill="#787878" fill-opacity="0.55"/>
<rect x="600.42" y="89.38" width="8.71" height="9.62" fill="#aaaaaa" fill-opacity="0.45"/>
<path d="M600.12 62V94.56M609.43 62V94.56M599.22 62.6H610.33" stroke="#f39a30" stroke-opacity="0.55" stroke-width="1.4"/>
<rect x="610.93" y="54.5" width="9.91" height="41.5" fill="#d8d8d8" fill-opacity="0.45"/>
<rect x="610.93" y="54.5" width="9.91" height="3.73" fill="#f7b878" fill-opacity="0.45"/>
<rect x="611.53" y="58.65" width="8.71" height="4.15" fill="#ffffff" fill-opacity="0.8"/>
<rect x="611.53" y="64.46" width="8.71" height="6.64" fill="#7c7c7c" fill-opacity="0.6"/>
<rect x="611.53" y="71.93" width="8.71" height="4.98" fill="#7a6550" fill-opacity="0.65"/>
<rect x="611.53" y="77.74" width="8.71" height="6.64" fill="#787878" fill-opacity="0.55"/>
<rect x="611.53" y="85.21" width="8.71" height="10.79" fill="#aaaaaa" fill-opacity="0.45"/>
<path d="M611.23 54.5V91.02M620.54 54.5V91.02M610.33 55.1H621.44" stroke="#f39a30" stroke-opacity="0.55" stroke-width="1.4"/>
<rect x="622.04" y="46.5" width="9.91" height="35.5" fill="#d8d8d8" fill-opacity="0.45"/>
<rect x="622.04" y="46.5" width="9.91" height="3.2" fill="#f7b878" fill-opacity="0.45"/>
<rect x="622.64" y="50.05" width="8.71" height="3.55" fill="#ffffff" fill-opacity="0.8"/>
<rect x="622.64" y="55.02" width="8.71" height="5.68" fill="#7c7c7c" fill-opacity="0.6"/>
<rect x="622.64" y="61.41" width="8.71" height="4.26" fill="#7a6550" fill-opacity="0.65"/>
<rect x="622.64" y="66.38" width="8.71" height="5.68" fill="#787878" fill-opacity="0.55"/>
<rect x="622.64" y="72.77" width="8.71" height="9.23" fill="#aaaaaa" fill-opacity="0.45"/>
<path d="M622.34 46.5V77.74M631.66 46.5V77.74M621.44 47.1H632.56" stroke="#f39a30" stroke-opacity="0.55" stroke-width="1.4"/>
<rect x="633.16" y="39.5" width="9.91" height="25.5" fill="#d8d8d8" fill-opacity="0.45"/>
<rect x="633.16" y="39.5" width="9.91" height="2.3" fill="#f7b878" fill-opacity="0.45"/>
<rect x="633.76" y="42.05" width="8.71" height="2.55" fill="#ffffff" fill-opacity="0.8"/>
<rect x="633.76" y="45.62" width="8.71" height="4.08" fill="#7c7c7c" fill-opacity="0.6"/>
<rect x="633.76" y="50.21" width="8.71" height="3.06" fill="#7a6550" fill-opacity="0.65"/>
<rect x="633.76" y="53.78" width="8.71" height="4.08" fill="#787878" fill-opacity="0.55"/>
<rect x="633.76" y="58.37" width="8.71" height="6.63" fill="#aaaaaa" fill-opacity="0.45"/>
<path d="M633.46 39.5V61.94M642.77 39.5V61.94M632.56 40.1H643.67" stroke="#f39a30" stroke-opacity="0.55" stroke-width="1.4"/>
<rect x="644.27" y="34" width="9.91" height="26.5" fill="#d8d8d8" fill-opacity="0.45"/>
<rect x="644.27" y="34" width="9.91" height="2.38" fill="#f7b878" fill-opacity="0.45"/>
<rect x="644.87" y="36.65" width="8.71" height="2.65" fill="#ffffff" fill-opacity="0.8"/>
<rect x="644.87" y="40.36" width="8.71" height="4.24" fill="#7c7c7c" fill-opacity="0.6"/>
<rect x="644.87" y="45.13" width="8.71" height="3.18" fill="#7a6550" fill-opacity="0.65"/>
<rect x="644.87" y="48.84" width="8.71" height="4.24" fill="#787878" fill-opacity="0.55"/>
<rect x="644.87" y="53.61" width="8.71" height="6.89" fill="#aaaaaa" fill-opacity="0.45"/>
<path d="M644.57 34V57.32M653.88 34V57.32M643.67 34.6H654.78" stroke="#f39a30" stroke-opacity="0.55" stroke-width="1.4"/>
<rect x="655.38" y="32.3" width="9.91" height="23.2" fill="#d8d8d8" fill-opacity="0.45"/>
<rect x="655.38" y="32.3" width="9.91" height="2.09" fill="#f7b878" fill-opacity="0.45"/>
<rect x="655.98" y="34.62" width="8.71" height="2.32" fill="#ffffff" fill-opacity="0.8"/>
<rect x="655.98" y="37.87" width="8.71" height="3.71" fill="#7c7c7c" fill-opacity="0.6"/>
<rect x="655.98" y="42.04" width="8.71" height="2.78" fill="#7a6550" fill-opacity="0.65"/>
<rect x="655.98" y="45.29" width="8.71" height="3.71" fill="#787878" fill-opacity="0.55"/>
<rect x="655.98" y="49.47" width="8.71" height="6.03" fill="#aaaaaa" fill-opacity="0.45"/>
<path d="M655.68 32.3V52.72M664.99 32.3V52.72M654.78 32.9H665.89" stroke="#f39a30" stroke-opacity="0.55" stroke-width="1.4"/>
<rect x="622.04" y="84.3" width="9.91" height="11.7" fill="#c4c4c4" fill-opacity="0.9" stroke="#f5b070" stroke-width="1.2" stroke-opacity="0.55"/>
<rect x="622.64" y="85.2" width="8.71" height="2.8" fill="#f4f4f4" fill-opacity="0.9"/>
<rect x="633.16" y="84.3" width="9.91" height="11.7" fill="#c4c4c4" fill-opacity="0.9" stroke="#f5b070" stroke-width="1.2" stroke-opacity="0.55"/>
<rect x="633.76" y="85.2" width="8.71" height="2.8" fill="#f4f4f4" fill-opacity="0.9"/>
<rect x="644.27" y="84.3" width="9.91" height="11.7" fill="#c4c4c4" fill-opacity="0.9" stroke="#f5b070" stroke-width="1.2" stroke-opacity="0.55"/>
<rect x="644.87" y="85.2" width="8.71" height="2.8" fill="#f4f4f4" fill-opacity="0.9"/>
</g>
<g clip-path="url(#cTR)">
<circle cx="415.67" cy="103.5" r="1.5" fill="#dc143c"/>
<circle cx="460.5" cy="90" r="1.5" fill="#dc143c"/>
<circle cx="460.21" cy="92.8" r="1.5" fill="#dc143c"/>
<circle cx="459.98" cy="95.6" r="1.5" fill="#dc143c"/>
<circle cx="460.29" cy="98.4" r="1.5" fill="#dc143c"/>
<circle cx="460.41" cy="101" r="1.5" fill="#dc143c"/>
<circle cx="459.92" cy="105" r="1.5" fill="#dc143c"/>
<circle cx="469.16" cy="94.7" r="1.5" fill="#dc143c"/>
<circle cx="469.01" cy="103" r="1.5" fill="#dc143c"/>
<circle cx="474.72" cy="101" r="1.5" fill="#dc143c"/>
<circle cx="485.14" cy="93" r="1.5" fill="#dc143c"/>
<circle cx="484.68" cy="108.5" r="1.5" fill="#dc143c"/>
<circle cx="489.33" cy="88" r="1.5" fill="#dc143c"/>
<circle cx="489.08" cy="90.5" r="1.5" fill="#dc143c"/>
<circle cx="488.66" cy="93" r="1.5" fill="#dc143c"/>
<circle cx="488.69" cy="95.5" r="1.5" fill="#dc143c"/>
<circle cx="488.82" cy="98" r="1.5" fill="#dc143c"/>
<circle cx="491.96" cy="87.95" r="1.5" fill="#dc143c"/>
<circle cx="492.01" cy="90.3" r="1.5" fill="#dc143c"/>
<circle cx="492" cy="92.65" r="1.5" fill="#dc143c"/>
<circle cx="491.97" cy="95" r="1.5" fill="#dc143c"/>
<circle cx="496.35" cy="86" r="1.5" fill="#dc143c"/>
<circle cx="496.24" cy="88.33" r="1.5" fill="#dc143c"/>
<circle cx="495.87" cy="90.67" r="1.5" fill="#dc143c"/>
<circle cx="495.85" cy="93" r="1.5" fill="#dc143c"/>
<circle cx="495.93" cy="97.67" r="1.5" fill="#dc143c"/>
<circle cx="495.92" cy="100" r="1.5" fill="#dc143c"/>
<circle cx="501.24" cy="88" r="1.5" fill="#dc143c"/>
<circle cx="501.29" cy="92.42" r="1.5" fill="#dc143c"/>
<circle cx="501.34" cy="94.64" r="1.5" fill="#dc143c"/>
<circle cx="500.7" cy="96.85" r="1.5" fill="#dc143c"/>
<circle cx="501.19" cy="99.06" r="1.5" fill="#dc143c"/>
<circle cx="500.71" cy="101.28" r="1.5" fill="#dc143c"/>
<circle cx="501.32" cy="103.49" r="1.5" fill="#dc143c"/>
<circle cx="500.73" cy="105.7" r="1.5" fill="#dc143c"/>
<circle cx="504.72" cy="87" r="1.5" fill="#dc143c"/>
<circle cx="504.77" cy="93" r="1.5" fill="#dc143c"/>
<circle cx="508.04" cy="89" r="1.5" fill="#dc143c"/>
<circle cx="507.96" cy="92" r="1.5" fill="#dc143c"/>
<circle cx="512.18" cy="87.4" r="1.5" fill="#dc143c"/>
<circle cx="512.56" cy="102" r="1.5" fill="#dc143c"/>
<circle cx="512.14" cy="109.4" r="1.5" fill="#dc143c"/>
<circle cx="523.13" cy="86.5" r="1.5" fill="#dc143c"/>
<circle cx="523.2" cy="88.9" r="1.5" fill="#dc143c"/>
<circle cx="523.73" cy="91.3" r="1.5" fill="#dc143c"/>
<circle cx="523.26" cy="93.7" r="1.5" fill="#dc143c"/>
<circle cx="523.2" cy="96.1" r="1.5" fill="#dc143c"/>
<circle cx="523.65" cy="98.5" r="1.5" fill="#dc143c"/>
<circle cx="523.5" cy="103" r="1.5" fill="#dc143c"/>
<circle cx="533.74" cy="86" r="1.5" fill="#dc143c"/>
<circle cx="533.23" cy="88.55" r="1.5" fill="#dc143c"/>
<circle cx="533.28" cy="91.1" r="1.5" fill="#dc143c"/>
<circle cx="533.1" cy="93.65" r="1.5" fill="#dc143c"/>
<circle cx="533.22" cy="98.75" r="1.5" fill="#dc143c"/>
<circle cx="533.31" cy="101.3" r="1.5" fill="#dc143c"/>
<circle cx="539.37" cy="95.2" r="1.5" fill="#dc143c"/>
<circle cx="543.99" cy="85.2" r="1.5" fill="#dc143c"/>
<circle cx="544.26" cy="87.72" r="1.5" fill="#dc143c"/>
<circle cx="543.76" cy="90.25" r="1.5" fill="#dc143c"/>
<circle cx="544.22" cy="92.78" r="1.5" fill="#dc143c"/>
<circle cx="543.78" cy="95.3" r="1.5" fill="#dc143c"/>
<circle cx="555.41" cy="84.2" r="1.5" fill="#dc143c"/>
<circle cx="555.42" cy="86.66" r="1.5" fill="#dc143c"/>
<circle cx="555.17" cy="89.11" r="1.5" fill="#dc143c"/>
<circle cx="554.82" cy="91.57" r="1.5" fill="#dc143c"/>
<circle cx="554.92" cy="96.49" r="1.5" fill="#dc143c"/>
<circle cx="554.93" cy="98.94" r="1.5" fill="#dc143c"/>
<circle cx="555.17" cy="101.4" r="1.5" fill="#dc143c"/>
<circle cx="562.97" cy="88.3" r="1.5" fill="#dc143c"/>
<circle cx="562.9" cy="90.8" r="1.5" fill="#dc143c"/>
<circle cx="563.24" cy="93.3" r="1.5" fill="#dc143c"/>
<circle cx="563.28" cy="95.8" r="1.5" fill="#dc143c"/>
<circle cx="563.49" cy="98.3" r="1.5" fill="#dc143c"/>
<circle cx="565.86" cy="86.3" r="1.5" fill="#dc143c"/>
<circle cx="566.16" cy="88.55" r="1.5" fill="#dc143c"/>
<circle cx="566.11" cy="93.05" r="1.5" fill="#dc143c"/>
<circle cx="565.94" cy="95.3" r="1.5" fill="#dc143c"/>
<circle cx="571.57" cy="84.8" r="1.5" fill="#dc143c"/>
<circle cx="571.41" cy="87.05" r="1.5" fill="#dc143c"/>
<circle cx="571.36" cy="89.3" r="1.5" fill="#dc143c"/>
<circle cx="570.97" cy="91.55" r="1.5" fill="#dc143c"/>
<circle cx="571.44" cy="96.05" r="1.5" fill="#dc143c"/>
<circle cx="570.96" cy="98.3" r="1.5" fill="#dc143c"/>
<circle cx="577.29" cy="86.3" r="1.5" fill="#dc143c"/>
<circle cx="577.17" cy="88.97" r="1.5" fill="#dc143c"/>
<circle cx="577" cy="91.63" r="1.5" fill="#dc143c"/>
<circle cx="577.47" cy="94.3" r="1.5" fill="#dc143c"/>
<circle cx="584.17" cy="78.2" r="1.5" fill="#dc143c"/>
<circle cx="584.21" cy="80.43" r="1.5" fill="#dc143c"/>
<circle cx="583.9" cy="82.67" r="1.5" fill="#dc143c"/>
<circle cx="584.28" cy="84.9" r="1.5" fill="#dc143c"/>
<circle cx="583.94" cy="87.13" r="1.5" fill="#dc143c"/>
<circle cx="584.25" cy="89.37" r="1.5" fill="#dc143c"/>
<circle cx="584.09" cy="91.6" r="1.5" fill="#dc143c"/>
<circle cx="584.06" cy="93.83" r="1.5" fill="#dc143c"/>
<circle cx="583.71" cy="96.07" r="1.5" fill="#dc143c"/>
<circle cx="584.35" cy="98.3" r="1.5" fill="#dc143c"/>
<circle cx="594.77" cy="102.6" r="1.5" fill="#dc143c"/>
<circle cx="639.66" cy="58.7" r="1.5" fill="#dc143c"/>
<circle cx="415.86" cy="104.5" r="1.5" fill="#4169e1"/>
<circle cx="415.66" cy="106.25" r="1.5" fill="#4169e1"/>
<circle cx="415.41" cy="108" r="1.5" fill="#4169e1"/>
<circle cx="415.37" cy="109.75" r="1.5" fill="#4169e1"/>
<circle cx="415.69" cy="111.5" r="1.5" fill="#4169e1"/>
<circle cx="432.44" cy="102.3" r="1.5" fill="#4169e1"/>
<circle cx="432.38" cy="104.03" r="1.5" fill="#4169e1"/>
<circle cx="432.13" cy="105.77" r="1.5" fill="#4169e1"/>
<circle cx="460.32" cy="97.5" r="1.5" fill="#4169e1"/>
<circle cx="459.97" cy="99.33" r="1.5" fill="#4169e1"/>
<circle cx="460.31" cy="101.17" r="1.5" fill="#4169e1"/>
<circle cx="460.47" cy="103" r="1.5" fill="#4169e1"/>
<circle cx="460.32" cy="104.83" r="1.5" fill="#4169e1"/>
<circle cx="460.15" cy="106.67" r="1.5" fill="#4169e1"/>
<circle cx="460.49" cy="108.5" r="1.5" fill="#4169e1"/>
<circle cx="469.22" cy="97.5" r="1.5" fill="#4169e1"/>
<circle cx="469.17" cy="99.19" r="1.5" fill="#4169e1"/>
<circle cx="469.3" cy="100.88" r="1.5" fill="#4169e1"/>
<circle cx="469.54" cy="102.56" r="1.5" fill="#4169e1"/>
<circle cx="469.62" cy="104.25" r="1.5" fill="#4169e1"/>
<circle cx="469.07" cy="105.94" r="1.5" fill="#4169e1"/>
<circle cx="469.14" cy="107.62" r="1.5" fill="#4169e1"/>
<circle cx="469.24" cy="109.31" r="1.5" fill="#4169e1"/>
<circle cx="469.3" cy="111" r="1.5" fill="#4169e1"/>
<circle cx="478.84" cy="93" r="1.5" fill="#4169e1"/>
<circle cx="478.57" cy="94.67" r="1.5" fill="#4169e1"/>
<circle cx="478.28" cy="99.67" r="1.5" fill="#4169e1"/>
<circle cx="478.65" cy="101.33" r="1.5" fill="#4169e1"/>
<circle cx="478.8" cy="103" r="1.5" fill="#4169e1"/>
<circle cx="478.57" cy="106.33" r="1.5" fill="#4169e1"/>
<circle cx="478.42" cy="109.67" r="1.5" fill="#4169e1"/>
<circle cx="478.28" cy="111.33" r="1.5" fill="#4169e1"/>
<circle cx="478.56" cy="113" r="1.5" fill="#4169e1"/>
<circle cx="485.11" cy="95.6" r="1.5" fill="#4169e1"/>
<circle cx="485.32" cy="97.32" r="1.5" fill="#4169e1"/>
<circle cx="484.79" cy="99.05" r="1.5" fill="#4169e1"/>
<circle cx="484.78" cy="100.78" r="1.5" fill="#4169e1"/>
<circle cx="485.15" cy="104.22" r="1.5" fill="#4169e1"/>
<circle cx="484.84" cy="105.95" r="1.5" fill="#4169e1"/>
<circle cx="485.14" cy="107.68" r="1.5" fill="#4169e1"/>
<circle cx="485.08" cy="109.4" r="1.5" fill="#4169e1"/>
<circle cx="490.93" cy="93" r="1.5" fill="#4169e1"/>
<circle cx="491.28" cy="94.67" r="1.5" fill="#4169e1"/>
<circle cx="491.16" cy="98" r="1.5" fill="#4169e1"/>
<circle cx="490.97" cy="99.67" r="1.5" fill="#4169e1"/>
<circle cx="491.29" cy="101.33" r="1.5" fill="#4169e1"/>
<circle cx="491.05" cy="103" r="1.5" fill="#4169e1"/>
<circle cx="495.21" cy="94" r="1.5" fill="#4169e1"/>
<circle cx="494.97" cy="95.67" r="1.5" fill="#4169e1"/>
<circle cx="494.79" cy="97.33" r="1.5" fill="#4169e1"/>
<circle cx="495.22" cy="99" r="1.5" fill="#4169e1"/>
<circle cx="495.15" cy="100.67" r="1.5" fill="#4169e1"/>
<circle cx="495.28" cy="102.33" r="1.5" fill="#4169e1"/>
<circle cx="495.33" cy="104" r="1.5" fill="#4169e1"/>
<circle cx="499.2" cy="96" r="1.5" fill="#4169e1"/>
<circle cx="499.29" cy="97.6" r="1.5" fill="#4169e1"/>
<circle cx="498.89" cy="99.2" r="1.5" fill="#4169e1"/>
<circle cx="499.04" cy="102.4" r="1.5" fill="#4169e1"/>
<circle cx="498.99" cy="104" r="1.5" fill="#4169e1"/>
<circle cx="492.67" cy="108.5" r="1.5" fill="#4169e1"/>
<circle cx="499.22" cy="108.5" r="1.5" fill="#4169e1"/>
<circle cx="512.17" cy="94.75" r="1.5" fill="#4169e1"/>
<circle cx="512.6" cy="96.5" r="1.5" fill="#4169e1"/>
<circle cx="512.15" cy="98.25" r="1.5" fill="#4169e1"/>
<circle cx="512.56" cy="100" r="1.5" fill="#4169e1"/>
<circle cx="523.53" cy="93" r="1.5" fill="#4169e1"/>
<circle cx="523.39" cy="95.25" r="1.5" fill="#4169e1"/>
<circle cx="523.11" cy="97.5" r="1.5" fill="#4169e1"/>
<circle cx="563" cy="94.3" r="1.5" fill="#4169e1"/>
<circle cx="594.35" cy="81.6" r="1.5" fill="#dc143c"/>
<circle cx="594.6" cy="84.34" r="1.5" fill="#dc143c"/>
<circle cx="594.74" cy="87.08" r="1.5" fill="#dc143c"/>
<circle cx="594.37" cy="89.82" r="1.5" fill="#dc143c"/>
<circle cx="594.74" cy="92.56" r="1.5" fill="#dc143c"/>
<circle cx="594.3" cy="95.3" r="1.5" fill="#dc143c"/>
<circle cx="604.53" cy="77" r="1.5" fill="#dc143c"/>
<circle cx="604.25" cy="79.4" r="1.5" fill="#dc143c"/>
<circle cx="604.23" cy="81.8" r="1.5" fill="#dc143c"/>
<circle cx="604.27" cy="84.2" r="1.5" fill="#dc143c"/>
<circle cx="604.53" cy="86.6" r="1.5" fill="#dc143c"/>
<circle cx="604.13" cy="89" r="1.5" fill="#dc143c"/>
<circle cx="604.24" cy="91.4" r="1.5" fill="#dc143c"/>
<circle cx="604.33" cy="93.8" r="1.5" fill="#dc143c"/>
<circle cx="604.23" cy="96.2" r="1.5" fill="#dc143c"/>
<circle cx="607.32" cy="79.7" r="1.5" fill="#dc143c"/>
<circle cx="606.84" cy="82.46" r="1.5" fill="#dc143c"/>
<circle cx="606.74" cy="85.22" r="1.5" fill="#dc143c"/>
<circle cx="607.22" cy="87.98" r="1.5" fill="#dc143c"/>
<circle cx="606.98" cy="90.74" r="1.5" fill="#dc143c"/>
<circle cx="606.78" cy="93.5" r="1.5" fill="#dc143c"/>
<circle cx="610.9" cy="72.4" r="1.5" fill="#dc143c"/>
<circle cx="610.8" cy="74.84" r="1.5" fill="#dc143c"/>
<circle cx="610.39" cy="77.29" r="1.5" fill="#dc143c"/>
<circle cx="610.73" cy="79.73" r="1.5" fill="#dc143c"/>
<circle cx="610.5" cy="82.18" r="1.5" fill="#dc143c"/>
<circle cx="610.32" cy="84.62" r="1.5" fill="#dc143c"/>
<circle cx="610.34" cy="87.07" r="1.5" fill="#dc143c"/>
<circle cx="610.43" cy="89.51" r="1.5" fill="#dc143c"/>
<circle cx="610.62" cy="91.96" r="1.5" fill="#dc143c"/>
<circle cx="610.51" cy="94.4" r="1.5" fill="#dc143c"/>
<circle cx="612.5" cy="73.3" r="1.35" fill="#dc143c"/>
<circle cx="614.3" cy="65" r="1.35" fill="#dc143c"/>
<circle cx="616.5" cy="66.4" r="1.35" fill="#dc143c"/>
<circle cx="618" cy="68.7" r="1.35" fill="#dc143c"/>
<circle cx="615.2" cy="74.2" r="1.35" fill="#dc143c"/>
<circle cx="617" cy="76" r="1.35" fill="#dc143c"/>
<circle cx="618.9" cy="73.3" r="1.35" fill="#dc143c"/>
<circle cx="617" cy="80.6" r="1.35" fill="#dc143c"/>
<circle cx="614.3" cy="84.3" r="1.35" fill="#dc143c"/>
<circle cx="618.9" cy="84.3" r="1.35" fill="#dc143c"/>
<circle cx="619.8" cy="88" r="1.35" fill="#dc143c"/>
<circle cx="621.6" cy="88.9" r="1.35" fill="#dc143c"/>
<circle cx="622.5" cy="78.8" r="1.35" fill="#dc143c"/>
<circle cx="623.5" cy="75.1" r="1.35" fill="#dc143c"/>
<circle cx="626.2" cy="70.6" r="1.35" fill="#dc143c"/>
<circle cx="628" cy="69.7" r="1.35" fill="#dc143c"/>
<circle cx="622.5" cy="57.7" r="1.35" fill="#dc143c"/>
<circle cx="626.2" cy="58.7" r="1.35" fill="#dc143c"/>
<circle cx="620.7" cy="90.7" r="1.35" fill="#dc143c"/>
<circle cx="617.6" cy="90.2" r="1.35" fill="#dc143c"/>
<circle cx="499.13" cy="101.18" r="1.5" fill="#4169e1"/>
<circle cx="496.6" cy="99.23" r="1.5" fill="#4169e1"/>
<circle cx="501.31" cy="101.83" r="1.5" fill="#4169e1"/>
<circle cx="500.3" cy="103.11" r="1.5" fill="#4169e1"/>
<circle cx="501.12" cy="103.14" r="1.5" fill="#4169e1"/>
<circle cx="497.33" cy="102.44" r="1.5" fill="#4169e1"/>
</g>
<g clip-path="url(#cBR)">
<rect x="432.53" y="215.8" width="11.11" height="12.7" fill="#9a9a9a" fill-opacity="0.6" filter="url(#b05)"/>
<rect x="433.03" y="217.8" width="10.11" height="8.7" fill="#4c4c4c" fill-opacity="0.92" filter="url(#b05)"/>
<rect x="443.64" y="213.6" width="11.11" height="13.4" fill="#9a9a9a" fill-opacity="0.6" filter="url(#b05)"/>
<rect x="444.14" y="215.6" width="10.11" height="9.4" fill="#4c4c4c" fill-opacity="0.92" filter="url(#b05)"/>
<rect x="454.76" y="210.7" width="11.11" height="13" fill="#9a9a9a" fill-opacity="0.6" filter="url(#b05)"/>
<rect x="455.26" y="212.7" width="10.11" height="9" fill="#4c4c4c" fill-opacity="0.92" filter="url(#b05)"/>
<rect x="465.87" y="208.1" width="11.11" height="12.7" fill="#9a9a9a" fill-opacity="0.6" filter="url(#b05)"/>
<rect x="466.37" y="210.1" width="10.11" height="8.7" fill="#4c4c4c" fill-opacity="0.92" filter="url(#b05)"/>
<rect x="476.98" y="204.3" width="11.11" height="12.4" fill="#9a9a9a" fill-opacity="0.6" filter="url(#b05)"/>
<rect x="477.48" y="206.3" width="10.11" height="8.4" fill="#4c4c4c" fill-opacity="0.92" filter="url(#b05)"/>
<rect x="488.09" y="200.8" width="11.11" height="12.4" fill="#9a9a9a" fill-opacity="0.6" filter="url(#b05)"/>
<rect x="488.59" y="202.8" width="10.11" height="8.4" fill="#4c4c4c" fill-opacity="0.92" filter="url(#b05)"/>
<rect x="499.21" y="196.8" width="11.11" height="12.3" fill="#9a9a9a" fill-opacity="0.6" filter="url(#b05)"/>
<rect x="499.71" y="198.8" width="10.11" height="8.3" fill="#4c4c4c" fill-opacity="0.92" filter="url(#b05)"/>
<rect x="510.32" y="191.3" width="11.11" height="12.3" fill="#9a9a9a" fill-opacity="0.6" filter="url(#b05)"/>
<rect x="510.82" y="193.3" width="10.11" height="8.3" fill="#4c4c4c" fill-opacity="0.92" filter="url(#b05)"/>
<rect x="521.43" y="185.8" width="11.11" height="13.4" fill="#9a9a9a" fill-opacity="0.6" filter="url(#b05)"/>
<rect x="521.93" y="187.8" width="10.11" height="9.4" fill="#4c4c4c" fill-opacity="0.92" filter="url(#b05)"/>
<rect x="532.54" y="180.3" width="11.11" height="12.9" fill="#9a9a9a" fill-opacity="0.6" filter="url(#b05)"/>
<rect x="533.04" y="182.3" width="10.11" height="8.9" fill="#4c4c4c" fill-opacity="0.92" filter="url(#b05)"/>
<rect x="543.66" y="176.3" width="11.11" height="13.4" fill="#9a9a9a" fill-opacity="0.6" filter="url(#b05)"/>
<rect x="544.16" y="178.3" width="10.11" height="9.4" fill="#4c4c4c" fill-opacity="0.92" filter="url(#b05)"/>
<rect x="621.44" y="174.1" width="11.11" height="17.8" fill="#9a9a9a" fill-opacity="0.6" filter="url(#b05)"/>
<rect x="621.94" y="176.1" width="10.11" height="13.8" fill="#4c4c4c" fill-opacity="0.92" filter="url(#b05)"/>
<rect x="632.56" y="173" width="11.11" height="14.5" fill="#9a9a9a" fill-opacity="0.6" filter="url(#b05)"/>
<rect x="633.06" y="175" width="10.11" height="10.5" fill="#4c4c4c" fill-opacity="0.92" filter="url(#b05)"/>
<rect x="643.67" y="170.8" width="11.11" height="14.4" fill="#9a9a9a" fill-opacity="0.6" filter="url(#b05)"/>
<rect x="644.17" y="172.8" width="10.11" height="10.4" fill="#4c4c4c" fill-opacity="0.92" filter="url(#b05)"/>
<rect x="654.78" y="167.5" width="11.11" height="12.3" fill="#9a9a9a" fill-opacity="0.6" filter="url(#b05)"/>
<rect x="655.28" y="169.5" width="10.11" height="8.3" fill="#4c4c4c" fill-opacity="0.92" filter="url(#b05)"/>
<rect x="554.77" y="177" width="11.11" height="22" fill="#888888" fill-opacity="0.7" filter="url(#b05)"/>
<rect x="555.27" y="181" width="10.11" height="15" fill="#4a4a4a" fill-opacity="0.85" filter="url(#b05)"/>
<rect x="565.88" y="179" width="11.11" height="19.3" fill="#888888" fill-opacity="0.7" filter="url(#b05)"/>
<rect x="566.38" y="183" width="10.11" height="12" fill="#4e4e4e" fill-opacity="0.85" filter="url(#b05)"/>
<rect x="576.99" y="177" width="11.11" height="24.3" fill="#c4c4c4" fill-opacity="0.7" filter="url(#b05)"/>
<rect x="577.49" y="180" width="10.11" height="12" fill="#6a6a6a" fill-opacity="0.65" filter="url(#b05)"/>
<rect x="588.11" y="177" width="11.11" height="21" fill="#b8b8b8" fill-opacity="0.6" filter="url(#b05)"/>
<rect x="588.61" y="180" width="10.11" height="12" fill="#5a5a5a" fill-opacity="0.7" filter="url(#b05)"/>
<rect x="599.22" y="173" width="11.11" height="25" fill="#c8c8c8" fill-opacity="0.7" filter="url(#b05)"/>
<rect x="599.72" y="178" width="10.11" height="14" fill="#7a7a7a" fill-opacity="0.55" filter="url(#b05)"/>
<rect x="610.33" y="167" width="11.11" height="29" fill="#cfcfcf" fill-opacity="0.7" filter="url(#b05)"/>
<rect x="610.83" y="176" width="10.11" height="14" fill="#6a6a6a" fill-opacity="0.55" filter="url(#b05)"/>
<rect x="654.78" y="178.6" width="11.11" height="4.4" fill="#c8c8c8" fill-opacity="0.8" filter="url(#b05)"/>
</g>
<g clip-path="url(#cBR)">
<circle cx="415.62" cy="220" r="1.5" fill="#dc143c"/>
<circle cx="432.88" cy="219.2" r="1.5" fill="#dc143c"/>
<circle cx="459.87" cy="185.6" r="1.5" fill="#dc143c"/>
<circle cx="459.87" cy="198" r="1.5" fill="#dc143c"/>
<circle cx="460.3" cy="202" r="1.5" fill="#dc143c"/>
<circle cx="459.8" cy="211.7" r="1.5" fill="#dc143c"/>
<circle cx="460.35" cy="228" r="1.5" fill="#dc143c"/>
<circle cx="469.67" cy="185" r="1.5" fill="#dc143c"/>
<circle cx="469.22" cy="195" r="1.5" fill="#dc143c"/>
<circle cx="469.23" cy="198" r="1.5" fill="#dc143c"/>
<circle cx="469.63" cy="214" r="1.5" fill="#dc143c"/>
<circle cx="469.35" cy="224" r="1.5" fill="#dc143c"/>
<circle cx="478.8" cy="200.7" r="1.5" fill="#dc143c"/>
<circle cx="478.34" cy="215" r="1.5" fill="#dc143c"/>
<circle cx="481.93" cy="222" r="1.5" fill="#dc143c"/>
<circle cx="485.13" cy="212" r="1.5" fill="#dc143c"/>
<circle cx="487.66" cy="224" r="1.5" fill="#dc143c"/>
<circle cx="491.13" cy="188" r="1.5" fill="#dc143c"/>
<circle cx="491.33" cy="190.33" r="1.5" fill="#dc143c"/>
<circle cx="491.18" cy="195" r="1.5" fill="#dc143c"/>
<circle cx="494.13" cy="183" r="1.5" fill="#dc143c"/>
<circle cx="493.7" cy="186" r="1.5" fill="#dc143c"/>
<circle cx="497.01" cy="176" r="1.5" fill="#dc143c"/>
<circle cx="496.75" cy="178.44" r="1.5" fill="#dc143c"/>
<circle cx="496.79" cy="180.89" r="1.5" fill="#dc143c"/>
<circle cx="497.34" cy="183.33" r="1.5" fill="#dc143c"/>
<circle cx="496.72" cy="185.78" r="1.5" fill="#dc143c"/>
<circle cx="496.97" cy="190.67" r="1.5" fill="#dc143c"/>
<circle cx="496.88" cy="193.11" r="1.5" fill="#dc143c"/>
<circle cx="497.01" cy="195.56" r="1.5" fill="#dc143c"/>
<circle cx="497.07" cy="198" r="1.5" fill="#dc143c"/>
<circle cx="500.74" cy="178.39" r="1.5" fill="#dc143c"/>
<circle cx="500.47" cy="180.78" r="1.5" fill="#dc143c"/>
<circle cx="500.43" cy="183.17" r="1.5" fill="#dc143c"/>
<circle cx="500.27" cy="185.57" r="1.5" fill="#dc143c"/>
<circle cx="500.16" cy="187.96" r="1.5" fill="#dc143c"/>
<circle cx="500.71" cy="190.35" r="1.5" fill="#dc143c"/>
<circle cx="500.75" cy="192.74" r="1.5" fill="#dc143c"/>
<circle cx="500.43" cy="195.13" r="1.5" fill="#dc143c"/>
<circle cx="500.5" cy="197.52" r="1.5" fill="#dc143c"/>
<circle cx="500.71" cy="199.91" r="1.5" fill="#dc143c"/>
<circle cx="500.79" cy="202.3" r="1.5" fill="#dc143c"/>
<circle cx="500.69" cy="204.7" r="1.5" fill="#dc143c"/>
<circle cx="500.43" cy="207.09" r="1.5" fill="#dc143c"/>
<circle cx="500.77" cy="209.48" r="1.5" fill="#dc143c"/>
<circle cx="500.69" cy="211.87" r="1.5" fill="#dc143c"/>
<circle cx="500.43" cy="214.26" r="1.5" fill="#dc143c"/>
<circle cx="500.2" cy="216.65" r="1.5" fill="#dc143c"/>
<circle cx="500.48" cy="219.04" r="1.5" fill="#dc143c"/>
<circle cx="500.6" cy="223.83" r="1.5" fill="#dc143c"/>
<circle cx="500.31" cy="226.22" r="1.5" fill="#dc143c"/>
<circle cx="500.62" cy="228.61" r="1.5" fill="#dc143c"/>
<circle cx="500.61" cy="231" r="1.5" fill="#dc143c"/>
<circle cx="505.02" cy="191" r="1.5" fill="#dc143c"/>
<circle cx="505.35" cy="193.33" r="1.5" fill="#dc143c"/>
<circle cx="505.14" cy="195.67" r="1.5" fill="#dc143c"/>
<circle cx="505.34" cy="198" r="1.5" fill="#dc143c"/>
<circle cx="505.17" cy="202.67" r="1.5" fill="#dc143c"/>
<circle cx="504.93" cy="205" r="1.5" fill="#dc143c"/>
<circle cx="512.09" cy="155.5" r="1.5" fill="#dc143c"/>
<circle cx="512.19" cy="172" r="1.5" fill="#dc143c"/>
<circle cx="512.12" cy="181.5" r="1.5" fill="#dc143c"/>
<circle cx="512.68" cy="183.94" r="1.5" fill="#dc143c"/>
<circle cx="512.41" cy="186.39" r="1.5" fill="#dc143c"/>
<circle cx="512.45" cy="188.83" r="1.5" fill="#dc143c"/>
<circle cx="512.5" cy="191.28" r="1.5" fill="#dc143c"/>
<circle cx="512.1" cy="193.72" r="1.5" fill="#dc143c"/>
<circle cx="512.58" cy="196.17" r="1.5" fill="#dc143c"/>
<circle cx="512.16" cy="201.06" r="1.5" fill="#dc143c"/>
<circle cx="512.17" cy="203.5" r="1.5" fill="#dc143c"/>
<circle cx="512.4" cy="210" r="1.5" fill="#dc143c"/>
<circle cx="522.79" cy="185.6" r="1.5" fill="#dc143c"/>
<circle cx="523.04" cy="188.33" r="1.5" fill="#dc143c"/>
<circle cx="523.17" cy="191.07" r="1.5" fill="#dc143c"/>
<circle cx="522.95" cy="193.8" r="1.5" fill="#dc143c"/>
<circle cx="533.44" cy="184" r="1.5" fill="#dc143c"/>
<circle cx="533.55" cy="186.66" r="1.5" fill="#dc143c"/>
<circle cx="533.06" cy="189.32" r="1.5" fill="#dc143c"/>
<circle cx="533.08" cy="191.98" r="1.5" fill="#dc143c"/>
<circle cx="533.58" cy="194.64" r="1.5" fill="#dc143c"/>
<circle cx="533.68" cy="197.3" r="1.5" fill="#dc143c"/>
<circle cx="543.69" cy="175.3" r="1.5" fill="#dc143c"/>
<circle cx="544.31" cy="177.7" r="1.5" fill="#dc143c"/>
<circle cx="543.95" cy="182.5" r="1.5" fill="#dc143c"/>
<circle cx="544.33" cy="184.9" r="1.5" fill="#dc143c"/>
<circle cx="544.02" cy="187.3" r="1.5" fill="#dc143c"/>
<circle cx="544.16" cy="189.7" r="1.5" fill="#dc143c"/>
<circle cx="544.34" cy="192.1" r="1.5" fill="#dc143c"/>
<circle cx="544.07" cy="194.5" r="1.5" fill="#dc143c"/>
<circle cx="543.97" cy="199.3" r="1.5" fill="#dc143c"/>
<circle cx="543.69" cy="201.7" r="1.5" fill="#dc143c"/>
<circle cx="554.74" cy="177.5" r="1.5" fill="#dc143c"/>
<circle cx="555.12" cy="179.91" r="1.5" fill="#dc143c"/>
<circle cx="554.83" cy="182.32" r="1.5" fill="#dc143c"/>
<circle cx="554.94" cy="184.73" r="1.5" fill="#dc143c"/>
<circle cx="555.02" cy="187.14" r="1.5" fill="#dc143c"/>
<circle cx="555.32" cy="189.55" r="1.5" fill="#dc143c"/>
<circle cx="554.82" cy="191.95" r="1.5" fill="#dc143c"/>
<circle cx="555.2" cy="196.77" r="1.5" fill="#dc143c"/>
<circle cx="554.9" cy="199.18" r="1.5" fill="#dc143c"/>
<circle cx="555.13" cy="201.59" r="1.5" fill="#dc143c"/>
<circle cx="555.06" cy="204" r="1.5" fill="#dc143c"/>
<circle cx="563.58" cy="179.7" r="1.5" fill="#dc143c"/>
<circle cx="563.22" cy="182.01" r="1.5" fill="#dc143c"/>
<circle cx="563.69" cy="184.32" r="1.5" fill="#dc143c"/>
<circle cx="563.08" cy="186.63" r="1.5" fill="#dc143c"/>
<circle cx="563.35" cy="191.25" r="1.5" fill="#dc143c"/>
<circle cx="563.12" cy="193.56" r="1.5" fill="#dc143c"/>
<circle cx="563.1" cy="195.87" r="1.5" fill="#dc143c"/>
<circle cx="563.44" cy="200.49" r="1.5" fill="#dc143c"/>
<circle cx="563.31" cy="202.8" r="1.5" fill="#dc143c"/>
<circle cx="571.48" cy="169.8" r="1.5" fill="#dc143c"/>
<circle cx="571.39" cy="179.7" r="1.5" fill="#dc143c"/>
<circle cx="571.74" cy="182.01" r="1.5" fill="#dc143c"/>
<circle cx="571.59" cy="188.94" r="1.5" fill="#dc143c"/>
<circle cx="571.3" cy="191.25" r="1.5" fill="#dc143c"/>
<circle cx="571.33" cy="193.56" r="1.5" fill="#dc143c"/>
<circle cx="571.41" cy="195.87" r="1.5" fill="#dc143c"/>
<circle cx="571.84" cy="198.18" r="1.5" fill="#dc143c"/>
<circle cx="571.53" cy="200.49" r="1.5" fill="#dc143c"/>
<circle cx="571.79" cy="202.8" r="1.5" fill="#dc143c"/>
<circle cx="576.91" cy="177.5" r="1.5" fill="#dc143c"/>
<circle cx="576.7" cy="182.67" r="1.5" fill="#dc143c"/>
<circle cx="576.99" cy="187.83" r="1.5" fill="#dc143c"/>
<circle cx="576.86" cy="190.42" r="1.5" fill="#dc143c"/>
<circle cx="576.7" cy="193" r="1.5" fill="#dc143c"/>
<circle cx="583.4" cy="168.7" r="1.5" fill="#dc143c"/>
<circle cx="583.31" cy="175.3" r="1.5" fill="#dc143c"/>
<circle cx="583.76" cy="177.83" r="1.5" fill="#dc143c"/>
<circle cx="583.45" cy="180.36" r="1.5" fill="#dc143c"/>
<circle cx="583.5" cy="182.89" r="1.5" fill="#dc143c"/>
<circle cx="583.51" cy="185.41" r="1.5" fill="#dc143c"/>
<circle cx="583.65" cy="190.47" r="1.5" fill="#dc143c"/>
<circle cx="583.91" cy="193" r="1.5" fill="#dc143c"/>
<circle cx="594.16" cy="174.2" r="1.5" fill="#dc143c"/>
<circle cx="594.06" cy="176.62" r="1.5" fill="#dc143c"/>
<circle cx="594.13" cy="179.04" r="1.5" fill="#dc143c"/>
<circle cx="594.48" cy="181.46" r="1.5" fill="#dc143c"/>
<circle cx="594.1" cy="183.88" r="1.5" fill="#dc143c"/>
<circle cx="594.1" cy="186.3" r="1.5" fill="#dc143c"/>
<circle cx="594.12" cy="188.72" r="1.5" fill="#dc143c"/>
<circle cx="594.24" cy="191.14" r="1.5" fill="#dc143c"/>
<circle cx="594.23" cy="193.56" r="1.5" fill="#dc143c"/>
<circle cx="594.24" cy="195.98" r="1.5" fill="#dc143c"/>
<circle cx="594.38" cy="198.4" r="1.5" fill="#dc143c"/>
<circle cx="604.35" cy="176.4" r="1.5" fill="#dc143c"/>
<circle cx="604.53" cy="181.04" r="1.5" fill="#dc143c"/>
<circle cx="604.83" cy="183.37" r="1.5" fill="#dc143c"/>
<circle cx="604.71" cy="185.69" r="1.5" fill="#dc143c"/>
<circle cx="604.7" cy="190.33" r="1.5" fill="#dc143c"/>
<circle cx="604.78" cy="197.3" r="1.5" fill="#dc143c"/>
<circle cx="562.41" cy="218.2" r="1.5" fill="#dc143c"/>
<circle cx="571.49" cy="218.2" r="1.5" fill="#dc143c"/>
<circle cx="583.75" cy="214.7" r="1.5" fill="#dc143c"/>
<circle cx="639.7" cy="156.6" r="1.5" fill="#dc143c"/>
<circle cx="639.4" cy="158.91" r="1.5" fill="#dc143c"/>
<circle cx="639.62" cy="161.22" r="1.5" fill="#dc143c"/>
<circle cx="639.53" cy="163.53" r="1.5" fill="#dc143c"/>
<circle cx="639.93" cy="165.84" r="1.5" fill="#dc143c"/>
<circle cx="639.6" cy="168.15" r="1.5" fill="#dc143c"/>
<circle cx="639.75" cy="170.45" r="1.5" fill="#dc143c"/>
<circle cx="639.89" cy="172.76" r="1.5" fill="#dc143c"/>
<circle cx="639.83" cy="175.07" r="1.5" fill="#dc143c"/>
<circle cx="639.85" cy="177.38" r="1.5" fill="#dc143c"/>
<circle cx="639.83" cy="179.69" r="1.5" fill="#dc143c"/>
<circle cx="639.92" cy="182" r="1.5" fill="#dc143c"/>
<circle cx="650.12" cy="160" r="1.5" fill="#dc143c"/>
<circle cx="650.31" cy="162.4" r="1.5" fill="#dc143c"/>
<circle cx="650.04" cy="164.8" r="1.5" fill="#dc143c"/>
<circle cx="650.27" cy="167.2" r="1.5" fill="#dc143c"/>
<circle cx="650.01" cy="169.6" r="1.5" fill="#dc143c"/>
<circle cx="649.89" cy="172" r="1.5" fill="#dc143c"/>
<circle cx="660.25" cy="160" r="1.5" fill="#dc143c"/>
<circle cx="660.09" cy="162.5" r="1.5" fill="#dc143c"/>
<circle cx="660.13" cy="165" r="1.5" fill="#dc143c"/>
<circle cx="660.59" cy="167.5" r="1.5" fill="#dc143c"/>
<circle cx="660.09" cy="170" r="1.5" fill="#dc143c"/>
<circle cx="660.46" cy="172.5" r="1.5" fill="#dc143c"/>
<circle cx="660.08" cy="175" r="1.5" fill="#dc143c"/>
<circle cx="670.1" cy="160.17" r="1.5" fill="#dc143c"/>
<circle cx="670.45" cy="162.65" r="1.5" fill="#dc143c"/>
<circle cx="670.11" cy="165.12" r="1.5" fill="#dc143c"/>
<circle cx="670.15" cy="167.6" r="1.5" fill="#dc143c"/>
<circle cx="680.38" cy="161" r="1.5" fill="#dc143c"/>
<circle cx="680.23" cy="163.5" r="1.5" fill="#dc143c"/>
<circle cx="680.19" cy="166" r="1.5" fill="#dc143c"/>
<circle cx="680.47" cy="168.5" r="1.5" fill="#dc143c"/>
<circle cx="680.09" cy="171" r="1.5" fill="#dc143c"/>
<circle cx="690.42" cy="157.7" r="1.5" fill="#dc143c"/>
<circle cx="689.9" cy="160.27" r="1.5" fill="#dc143c"/>
<circle cx="690.31" cy="165.4" r="1.5" fill="#dc143c"/>
<circle cx="701.02" cy="162" r="1.5" fill="#dc143c"/>
<circle cx="704.42" cy="164.3" r="1.5" fill="#dc143c"/>
<circle cx="708.41" cy="168.7" r="1.5" fill="#dc143c"/>
<circle cx="415.74" cy="221" r="1.5" fill="#4169e1"/>
<circle cx="415.22" cy="222.67" r="1.5" fill="#4169e1"/>
<circle cx="415.31" cy="226" r="1.5" fill="#4169e1"/>
<circle cx="415.55" cy="227.67" r="1.5" fill="#4169e1"/>
<circle cx="415.16" cy="229.33" r="1.5" fill="#4169e1"/>
<circle cx="415.28" cy="231" r="1.5" fill="#4169e1"/>
<circle cx="432.86" cy="220.5" r="1.5" fill="#4169e1"/>
<circle cx="432.7" cy="222.28" r="1.5" fill="#4169e1"/>
<circle cx="432.44" cy="224.05" r="1.5" fill="#4169e1"/>
<circle cx="432.36" cy="225.82" r="1.5" fill="#4169e1"/>
<circle cx="432.25" cy="227.6" r="1.5" fill="#4169e1"/>
<circle cx="460.24" cy="206" r="1.5" fill="#4169e1"/>
<circle cx="459.71" cy="207.67" r="1.5" fill="#4169e1"/>
<circle cx="460.15" cy="209.33" r="1.5" fill="#4169e1"/>
<circle cx="459.98" cy="212.67" r="1.5" fill="#4169e1"/>
<circle cx="460.06" cy="214.33" r="1.5" fill="#4169e1"/>
<circle cx="459.86" cy="216" r="1.5" fill="#4169e1"/>
<circle cx="459.94" cy="217.67" r="1.5" fill="#4169e1"/>
<circle cx="459.71" cy="219.33" r="1.5" fill="#4169e1"/>
<circle cx="459.8" cy="221" r="1.5" fill="#4169e1"/>
<circle cx="460.02" cy="222.67" r="1.5" fill="#4169e1"/>
<circle cx="460.23" cy="224.33" r="1.5" fill="#4169e1"/>
<circle cx="459.87" cy="226" r="1.5" fill="#4169e1"/>
<circle cx="459.98" cy="229.33" r="1.5" fill="#4169e1"/>
<circle cx="459.9" cy="231" r="1.5" fill="#4169e1"/>
<circle cx="469.12" cy="206" r="1.5" fill="#4169e1"/>
<circle cx="469.37" cy="207.69" r="1.5" fill="#4169e1"/>
<circle cx="469.63" cy="209.37" r="1.5" fill="#4169e1"/>
<circle cx="469.06" cy="211.06" r="1.5" fill="#4169e1"/>
<circle cx="469.55" cy="212.74" r="1.5" fill="#4169e1"/>
<circle cx="469.44" cy="214.43" r="1.5" fill="#4169e1"/>
<circle cx="469.06" cy="216.11" r="1.5" fill="#4169e1"/>
<circle cx="469.61" cy="217.8" r="1.5" fill="#4169e1"/>
<circle cx="469.48" cy="219.49" r="1.5" fill="#4169e1"/>
<circle cx="469.31" cy="221.17" r="1.5" fill="#4169e1"/>
<circle cx="469.26" cy="222.86" r="1.5" fill="#4169e1"/>
<circle cx="469.32" cy="224.54" r="1.5" fill="#4169e1"/>
<circle cx="469.23" cy="226.23" r="1.5" fill="#4169e1"/>
<circle cx="469.56" cy="227.91" r="1.5" fill="#4169e1"/>
<circle cx="469.71" cy="229.6" r="1.5" fill="#4169e1"/>
<circle cx="478.76" cy="202" r="1.5" fill="#4169e1"/>
<circle cx="478.83" cy="203.61" r="1.5" fill="#4169e1"/>
<circle cx="478.32" cy="206.83" r="1.5" fill="#4169e1"/>
<circle cx="478.75" cy="208.44" r="1.5" fill="#4169e1"/>
<circle cx="478.53" cy="210.06" r="1.5" fill="#4169e1"/>
<circle cx="478.66" cy="211.67" r="1.5" fill="#4169e1"/>
<circle cx="478.36" cy="214.89" r="1.5" fill="#4169e1"/>
<circle cx="478.53" cy="216.5" r="1.5" fill="#4169e1"/>
<circle cx="478.55" cy="219.72" r="1.5" fill="#4169e1"/>
<circle cx="478.7" cy="221.33" r="1.5" fill="#4169e1"/>
<circle cx="478.82" cy="222.94" r="1.5" fill="#4169e1"/>
<circle cx="478.48" cy="224.56" r="1.5" fill="#4169e1"/>
<circle cx="478.26" cy="226.17" r="1.5" fill="#4169e1"/>
<circle cx="478.74" cy="227.78" r="1.5" fill="#4169e1"/>
<circle cx="478.8" cy="229.39" r="1.5" fill="#4169e1"/>
<circle cx="478.68" cy="231" r="1.5" fill="#4169e1"/>
<circle cx="484.89" cy="207.67" r="1.5" fill="#4169e1"/>
<circle cx="484.72" cy="209.33" r="1.5" fill="#4169e1"/>
<circle cx="485.01" cy="211" r="1.5" fill="#4169e1"/>
<circle cx="485.23" cy="212.67" r="1.5" fill="#4169e1"/>
<circle cx="484.76" cy="214.33" r="1.5" fill="#4169e1"/>
<circle cx="485.28" cy="216" r="1.5" fill="#4169e1"/>
<circle cx="484.9" cy="217.67" r="1.5" fill="#4169e1"/>
<circle cx="484.75" cy="219.33" r="1.5" fill="#4169e1"/>
<circle cx="485.34" cy="221" r="1.5" fill="#4169e1"/>
<circle cx="485.15" cy="222.67" r="1.5" fill="#4169e1"/>
<circle cx="484.79" cy="224.33" r="1.5" fill="#4169e1"/>
<circle cx="485.09" cy="226" r="1.5" fill="#4169e1"/>
<circle cx="484.71" cy="227.67" r="1.5" fill="#4169e1"/>
<circle cx="485.05" cy="229.33" r="1.5" fill="#4169e1"/>
<circle cx="484.88" cy="231" r="1.5" fill="#4169e1"/>
<circle cx="490.9" cy="195" r="1.5" fill="#4169e1"/>
<circle cx="490.74" cy="196.65" r="1.5" fill="#4169e1"/>
<circle cx="490.74" cy="198.3" r="1.5" fill="#4169e1"/>
<circle cx="491.03" cy="199.94" r="1.5" fill="#4169e1"/>
<circle cx="491.04" cy="201.59" r="1.5" fill="#4169e1"/>
<circle cx="491.29" cy="203.24" r="1.5" fill="#4169e1"/>
<circle cx="491.22" cy="204.89" r="1.5" fill="#4169e1"/>
<circle cx="490.74" cy="206.53" r="1.5" fill="#4169e1"/>
<circle cx="490.85" cy="208.18" r="1.5" fill="#4169e1"/>
<circle cx="490.82" cy="209.83" r="1.5" fill="#4169e1"/>
<circle cx="491.23" cy="211.48" r="1.5" fill="#4169e1"/>
<circle cx="491.03" cy="213.12" r="1.5" fill="#4169e1"/>
<circle cx="491.34" cy="218.07" r="1.5" fill="#4169e1"/>
<circle cx="491.11" cy="219.71" r="1.5" fill="#4169e1"/>
<circle cx="491.12" cy="221.36" r="1.5" fill="#4169e1"/>
<circle cx="490.92" cy="223.01" r="1.5" fill="#4169e1"/>
<circle cx="491.21" cy="224.66" r="1.5" fill="#4169e1"/>
<circle cx="490.98" cy="227.95" r="1.5" fill="#4169e1"/>
<circle cx="490.92" cy="229.6" r="1.5" fill="#4169e1"/>
<circle cx="493.77" cy="197" r="1.5" fill="#4169e1"/>
<circle cx="493.83" cy="198.7" r="1.5" fill="#4169e1"/>
<circle cx="493.88" cy="200.4" r="1.5" fill="#4169e1"/>
<circle cx="493.68" cy="202.1" r="1.5" fill="#4169e1"/>
<circle cx="493.75" cy="203.8" r="1.5" fill="#4169e1"/>
<circle cx="494.07" cy="205.5" r="1.5" fill="#4169e1"/>
<circle cx="493.94" cy="207.2" r="1.5" fill="#4169e1"/>
<circle cx="494.13" cy="208.9" r="1.5" fill="#4169e1"/>
<circle cx="494.18" cy="210.6" r="1.5" fill="#4169e1"/>
<circle cx="494.35" cy="212.3" r="1.5" fill="#4169e1"/>
<circle cx="494.25" cy="214" r="1.5" fill="#4169e1"/>
<circle cx="496.95" cy="198" r="1.5" fill="#4169e1"/>
<circle cx="497.28" cy="199.71" r="1.5" fill="#4169e1"/>
<circle cx="497.02" cy="201.43" r="1.5" fill="#4169e1"/>
<circle cx="497.28" cy="203.14" r="1.5" fill="#4169e1"/>
<circle cx="496.69" cy="204.86" r="1.5" fill="#4169e1"/>
<circle cx="497.28" cy="206.57" r="1.5" fill="#4169e1"/>
<circle cx="497.07" cy="208.29" r="1.5" fill="#4169e1"/>
<circle cx="496.86" cy="210" r="1.5" fill="#4169e1"/>
<circle cx="504.7" cy="206" r="1.5" fill="#4169e1"/>
<circle cx="504.96" cy="207.67" r="1.5" fill="#4169e1"/>
<circle cx="504.93" cy="209.33" r="1.5" fill="#4169e1"/>
<circle cx="505.02" cy="212.67" r="1.5" fill="#4169e1"/>
<circle cx="504.86" cy="214.33" r="1.5" fill="#4169e1"/>
<circle cx="504.82" cy="216" r="1.5" fill="#4169e1"/>
<circle cx="512.73" cy="205.25" r="1.5" fill="#4169e1"/>
<circle cx="512.66" cy="207" r="1.5" fill="#4169e1"/>
<circle cx="523.31" cy="194" r="1.5" fill="#4169e1"/>
<circle cx="523.27" cy="195.68" r="1.5" fill="#4169e1"/>
<circle cx="523.38" cy="197.35" r="1.5" fill="#4169e1"/>
<circle cx="522.84" cy="200.7" r="1.5" fill="#4169e1"/>
<circle cx="533.43" cy="200.5" r="1.5" fill="#4169e1"/>
<circle cx="563.72" cy="197.3" r="1.5" fill="#4169e1"/>
<circle cx="603.66" cy="178.35" r="1.5" fill="#dc143c"/>
<circle cx="603.49" cy="180.7" r="1.5" fill="#dc143c"/>
<circle cx="604.02" cy="183.05" r="1.5" fill="#dc143c"/>
<circle cx="603.7" cy="185.4" r="1.5" fill="#dc143c"/>
<circle cx="603.48" cy="187.75" r="1.5" fill="#dc143c"/>
<circle cx="603.67" cy="192.45" r="1.5" fill="#dc143c"/>
<circle cx="604.1" cy="194.8" r="1.5" fill="#dc143c"/>
<circle cx="603.78" cy="197.15" r="1.5" fill="#dc143c"/>
<circle cx="603.66" cy="199.5" r="1.5" fill="#dc143c"/>
<circle cx="607.28" cy="178.6" r="1.5" fill="#dc143c"/>
<circle cx="607.24" cy="180.9" r="1.5" fill="#dc143c"/>
<circle cx="606.98" cy="183.2" r="1.5" fill="#dc143c"/>
<circle cx="607.27" cy="185.5" r="1.5" fill="#dc143c"/>
<circle cx="606.79" cy="187.8" r="1.5" fill="#dc143c"/>
<circle cx="606.78" cy="190.1" r="1.5" fill="#dc143c"/>
<circle cx="606.69" cy="192.4" r="1.5" fill="#dc143c"/>
<circle cx="607.16" cy="194.7" r="1.5" fill="#dc143c"/>
<circle cx="607.28" cy="197" r="1.5" fill="#dc143c"/>
<circle cx="610.55" cy="175" r="1.5" fill="#dc143c"/>
<circle cx="610.54" cy="177.3" r="1.5" fill="#dc143c"/>
<circle cx="610.36" cy="179.6" r="1.5" fill="#dc143c"/>
<circle cx="610.21" cy="181.9" r="1.5" fill="#dc143c"/>
<circle cx="610.55" cy="184.2" r="1.5" fill="#dc143c"/>
<circle cx="610.18" cy="186.5" r="1.5" fill="#dc143c"/>
<circle cx="610.52" cy="188.8" r="1.5" fill="#dc143c"/>
<circle cx="610.31" cy="191.1" r="1.5" fill="#dc143c"/>
<circle cx="610.67" cy="193.4" r="1.5" fill="#dc143c"/>
<circle cx="610.21" cy="195.7" r="1.5" fill="#dc143c"/>
<circle cx="610.7" cy="198" r="1.5" fill="#dc143c"/>
<circle cx="613.54" cy="177.5" r="1.5" fill="#dc143c"/>
<circle cx="613.41" cy="179.86" r="1.5" fill="#dc143c"/>
<circle cx="613.66" cy="182.21" r="1.5" fill="#dc143c"/>
<circle cx="613.72" cy="184.57" r="1.5" fill="#dc143c"/>
<circle cx="613.55" cy="189.29" r="1.5" fill="#dc143c"/>
<circle cx="613.91" cy="191.64" r="1.5" fill="#dc143c"/>
<circle cx="613.55" cy="194" r="1.5" fill="#dc143c"/>
<circle cx="615.46" cy="195.54" r="1.5" fill="#dc143c"/>
<circle cx="617.2" cy="194.09" r="1.5" fill="#dc143c"/>
<circle cx="619.64" cy="192.71" r="1.5" fill="#dc143c"/>
<circle cx="623.68" cy="189.16" r="1.5" fill="#dc143c"/>
<circle cx="625.33" cy="188.45" r="1.5" fill="#dc143c"/>
<circle cx="627.79" cy="186.77" r="1.5" fill="#dc143c"/>
<circle cx="614" cy="187.42" r="1.5" fill="#dc143c"/>
<circle cx="616.67" cy="186.55" r="1.5" fill="#dc143c"/>
<circle cx="618.89" cy="184.86" r="1.5" fill="#dc143c"/>
<circle cx="622.22" cy="182.89" r="1.5" fill="#dc143c"/>
<circle cx="624.3" cy="181.76" r="1.5" fill="#dc143c"/>
<circle cx="627.19" cy="179.47" r="1.5" fill="#dc143c"/>
<circle cx="630.24" cy="177.13" r="1.5" fill="#dc143c"/>
<circle cx="632.5" cy="175.4" r="1.5" fill="#dc143c"/>
<circle cx="616.19" cy="179.52" r="1.5" fill="#dc143c"/>
<circle cx="618.39" cy="178.87" r="1.5" fill="#dc143c"/>
<circle cx="621.52" cy="177.27" r="1.5" fill="#dc143c"/>
<circle cx="623.02" cy="175.11" r="1.5" fill="#dc143c"/>
<circle cx="625.5" cy="173.64" r="1.5" fill="#dc143c"/>
<circle cx="628.5" cy="171.04" r="1.5" fill="#dc143c"/>
<circle cx="631.17" cy="170.64" r="1.5" fill="#dc143c"/>
<circle cx="633.63" cy="169.3" r="1.5" fill="#dc143c"/>
<circle cx="635.42" cy="166.37" r="1.5" fill="#dc143c"/>
<circle cx="617.13" cy="172.99" r="1.5" fill="#dc143c"/>
<circle cx="620.33" cy="171.34" r="1.5" fill="#dc143c"/>
<circle cx="622.46" cy="170.43" r="1.5" fill="#dc143c"/>
<circle cx="624.56" cy="169.07" r="1.5" fill="#dc143c"/>
<circle cx="627.9" cy="166.86" r="1.5" fill="#dc143c"/>
<circle cx="630.75" cy="164.75" r="1.5" fill="#dc143c"/>
<circle cx="632.03" cy="163.33" r="1.5" fill="#dc143c"/>
<circle cx="634.29" cy="161.78" r="1.5" fill="#dc143c"/>
<circle cx="637.77" cy="160.6" r="1.5" fill="#dc143c"/>
<circle cx="639.58" cy="159.16" r="1.5" fill="#dc143c"/>
<circle cx="619.26" cy="190.58" r="1.5" fill="#dc143c"/>
<circle cx="621.91" cy="187.56" r="1.5" fill="#dc143c"/>
<circle cx="624.39" cy="186.34" r="1.5" fill="#dc143c"/>
<circle cx="628.1" cy="184.52" r="1.5" fill="#dc143c"/>
<circle cx="629.21" cy="181.84" r="1.5" fill="#dc143c"/>
<circle cx="621.76" cy="177.49" r="1.5" fill="#dc143c"/>
<circle cx="625.51" cy="175.51" r="1.5" fill="#dc143c"/>
<circle cx="627.31" cy="175.14" r="1.5" fill="#dc143c"/>
<circle cx="630.88" cy="172.36" r="1.5" fill="#dc143c"/>
<circle cx="608.77" cy="192.93" r="1.5" fill="#dc143c"/>
<circle cx="625.22" cy="173.51" r="1.5" fill="#dc143c"/>
<circle cx="610.56" cy="193.08" r="1.5" fill="#dc143c"/>
<circle cx="631.27" cy="168.36" r="1.5" fill="#dc143c"/>
<circle cx="620.68" cy="173.45" r="1.5" fill="#dc143c"/>
<circle cx="603.11" cy="192.57" r="1.5" fill="#dc143c"/>
<circle cx="623.49" cy="167.78" r="1.5" fill="#dc143c"/>
<circle cx="630.78" cy="163.79" r="1.5" fill="#dc143c"/>
<circle cx="611.14" cy="179.02" r="1.5" fill="#dc143c"/>
<circle cx="637.91" cy="166.13" r="1.5" fill="#dc143c"/>
<circle cx="633.63" cy="167.99" r="1.5" fill="#dc143c"/>
<circle cx="604.19" cy="190.79" r="1.5" fill="#dc143c"/>
<circle cx="620.41" cy="171.54" r="1.5" fill="#dc143c"/>
<circle cx="636.32" cy="160.98" r="1.5" fill="#dc143c"/>
<circle cx="608.42" cy="195.57" r="1.5" fill="#dc143c"/>
<circle cx="607.37" cy="198.55" r="1.5" fill="#dc143c"/>
<circle cx="618.86" cy="180.87" r="1.5" fill="#dc143c"/>
<circle cx="615" cy="183.32" r="1.5" fill="#dc143c"/>
<circle cx="609.54" cy="180.45" r="1.5" fill="#dc143c"/>
<circle cx="633.31" cy="161.44" r="1.5" fill="#dc143c"/>
<circle cx="630.31" cy="163.81" r="1.5" fill="#dc143c"/>
<circle cx="636.91" cy="169.88" r="1.5" fill="#dc143c"/>
<circle cx="629.42" cy="174.63" r="1.5" fill="#dc143c"/>
<circle cx="623.33" cy="179.83" r="1.5" fill="#dc143c"/>
<circle cx="607.29" cy="190.5" r="1.5" fill="#dc143c"/>
<circle cx="631.95" cy="162.12" r="1.5" fill="#dc143c"/>
<circle cx="635.31" cy="171.28" r="1.5" fill="#dc143c"/>
<circle cx="617.34" cy="178.95" r="1.5" fill="#dc143c"/>
<circle cx="618.8" cy="177.94" r="1.5" fill="#dc143c"/>
<circle cx="637.82" cy="159.88" r="1.5" fill="#dc143c"/>
<circle cx="603.94" cy="186.79" r="1.5" fill="#dc143c"/>
<circle cx="628.13" cy="179.99" r="1.5" fill="#dc143c"/>
<circle cx="620.36" cy="178.36" r="1.5" fill="#dc143c"/>
<circle cx="622.27" cy="181.17" r="1.5" fill="#dc143c"/>
<circle cx="611.5" cy="168.7" r="1.5" fill="#dc143c"/>
<circle cx="613" cy="202.7" r="1.5" fill="#dc143c"/>
<circle cx="616" cy="202.7" r="1.5" fill="#dc143c"/>
<circle cx="604" cy="204" r="1.5" fill="#dc143c"/>
<circle cx="609" cy="201" r="1.5" fill="#dc143c"/>
</g>
<rect x="39.75" y="31.2" width="311.15" height="87.55" fill="none" stroke="#262626" stroke-width="1.2"/>
<path d="M39.75 118.75v3.8M78.65 118.75v3.8M117.55 118.75v3.8M156.45 118.75v3.8M195.35 118.75v3.8M234.25 118.75v3.8M273.15 118.75v3.8M312.05 118.75v3.8M350.95 118.75v3.8" stroke="#262626" stroke-width="0.9" fill="none"/>
<path d="M39.75 118.75v1.6M47.53 118.75v1.6M55.31 118.75v1.6M63.09 118.75v1.6M70.87 118.75v1.6M78.65 118.75v1.6M86.43 118.75v1.6M94.21 118.75v1.6M101.99 118.75v1.6M109.77 118.75v1.6M117.55 118.75v1.6M125.33 118.75v1.6M133.11 118.75v1.6M140.89 118.75v1.6M148.67 118.75v1.6M156.45 118.75v1.6M164.23 118.75v1.6M172.01 118.75v1.6M179.79 118.75v1.6M187.57 118.75v1.6M195.35 118.75v1.6M203.13 118.75v1.6M210.91 118.75v1.6M218.69 118.75v1.6M226.47 118.75v1.6M234.25 118.75v1.6M242.03 118.75v1.6M249.81 118.75v1.6M257.59 118.75v1.6M265.37 118.75v1.6M273.15 118.75v1.6M280.93 118.75v1.6M288.71 118.75v1.6M296.49 118.75v1.6M304.27 118.75v1.6M312.05 118.75v1.6M319.83 118.75v1.6M327.61 118.75v1.6M335.39 118.75v1.6M343.17 118.75v1.6M350.95 118.75v1.6" stroke="#262626" stroke-width="0.9" fill="none"/>
<path d="M39.75 118.75h-3.8M39.75 89.57h-3.8M39.75 60.39h-3.8M39.75 31.21h-3.8" stroke="#262626" stroke-width="0.9" fill="none"/>
<path d="M39.75 118.75h-1.6M39.75 112.91h-1.6M39.75 107.08h-1.6M39.75 101.24h-1.6M39.75 95.41h-1.6M39.75 89.57h-1.6M39.75 83.73h-1.6M39.75 77.9h-1.6M39.75 72.06h-1.6M39.75 66.23h-1.6M39.75 60.39h-1.6M39.75 54.55h-1.6M39.75 48.72h-1.6M39.75 42.88h-1.6M39.75 37.05h-1.6M39.75 31.21h-1.6" stroke="#262626" stroke-width="0.9" fill="none"/>
<text x="39.75" y="134.3" font-size="11.5" text-anchor="middle" textLength="16.2" lengthAdjust="spacingAndGlyphs">5.7</text>
<text x="78.65" y="134.3" font-size="11.5" text-anchor="middle" textLength="16.2" lengthAdjust="spacingAndGlyphs">5.8</text>
<text x="117.55" y="134.3" font-size="11.5" text-anchor="middle" textLength="16.2" lengthAdjust="spacingAndGlyphs">5.9</text>
<text x="156.45" y="134.3" font-size="11.5" text-anchor="middle" textLength="16.2" lengthAdjust="spacingAndGlyphs">6.0</text>
<text x="195.35" y="134.3" font-size="11.5" text-anchor="middle" textLength="16.2" lengthAdjust="spacingAndGlyphs">6.1</text>
<text x="234.25" y="134.3" font-size="11.5" text-anchor="middle" textLength="16.2" lengthAdjust="spacingAndGlyphs">6.2</text>
<text x="273.15" y="134.3" font-size="11.5" text-anchor="middle" textLength="16.2" lengthAdjust="spacingAndGlyphs">6.3</text>
<text x="312.05" y="134.3" font-size="11.5" text-anchor="middle" textLength="16.2" lengthAdjust="spacingAndGlyphs">6.4</text>
<text x="350.95" y="134.3" font-size="11.5" text-anchor="middle" textLength="16.2" lengthAdjust="spacingAndGlyphs">6.5</text>
<text x="31.9" y="122.95" font-size="11.5" text-anchor="end">1</text>
<text x="31.9" y="93.77" font-size="11.5" text-anchor="end">2</text>
<text x="31.9" y="64.59" font-size="11.5" text-anchor="end">3</text>
<text x="31.9" y="35.41" font-size="11.5" text-anchor="end">4</text>
<rect x="39.75" y="152.2" width="311.15" height="87.55" fill="none" stroke="#262626" stroke-width="1.2"/>
<path d="M39.75 239.75v3.8M78.65 239.75v3.8M117.55 239.75v3.8M156.45 239.75v3.8M195.35 239.75v3.8M234.25 239.75v3.8M273.15 239.75v3.8M312.05 239.75v3.8M350.95 239.75v3.8" stroke="#262626" stroke-width="0.9" fill="none"/>
<path d="M39.75 239.75v1.6M47.53 239.75v1.6M55.31 239.75v1.6M63.09 239.75v1.6M70.87 239.75v1.6M78.65 239.75v1.6M86.43 239.75v1.6M94.21 239.75v1.6M101.99 239.75v1.6M109.77 239.75v1.6M117.55 239.75v1.6M125.33 239.75v1.6M133.11 239.75v1.6M140.89 239.75v1.6M148.67 239.75v1.6M156.45 239.75v1.6M164.23 239.75v1.6M172.01 239.75v1.6M179.79 239.75v1.6M187.57 239.75v1.6M195.35 239.75v1.6M203.13 239.75v1.6M210.91 239.75v1.6M218.69 239.75v1.6M226.47 239.75v1.6M234.25 239.75v1.6M242.03 239.75v1.6M249.81 239.75v1.6M257.59 239.75v1.6M265.37 239.75v1.6M273.15 239.75v1.6M280.93 239.75v1.6M288.71 239.75v1.6M296.49 239.75v1.6M304.27 239.75v1.6M312.05 239.75v1.6M319.83 239.75v1.6M327.61 239.75v1.6M335.39 239.75v1.6M343.17 239.75v1.6M350.95 239.75v1.6" stroke="#262626" stroke-width="0.9" fill="none"/>
<path d="M39.75 239.75h-3.8M39.75 210.57h-3.8M39.75 181.39h-3.8M39.75 152.21h-3.8" stroke="#262626" stroke-width="0.9" fill="none"/>
<path d="M39.75 239.75h-1.6M39.75 233.91h-1.6M39.75 228.08h-1.6M39.75 222.24h-1.6M39.75 216.41h-1.6M39.75 210.57h-1.6M39.75 204.73h-1.6M39.75 198.9h-1.6M39.75 193.06h-1.6M39.75 187.23h-1.6M39.75 181.39h-1.6M39.75 175.55h-1.6M39.75 169.72h-1.6M39.75 163.88h-1.6M39.75 158.05h-1.6M39.75 152.21h-1.6" stroke="#262626" stroke-width="0.9" fill="none"/>
<text x="39.75" y="255.3" font-size="11.5" text-anchor="middle" textLength="16.2" lengthAdjust="spacingAndGlyphs">5.7</text>
<text x="78.65" y="255.3" font-size="11.5" text-anchor="middle" textLength="16.2" lengthAdjust="spacingAndGlyphs">5.8</text>
<text x="117.55" y="255.3" font-size="11.5" text-anchor="middle" textLength="16.2" lengthAdjust="spacingAndGlyphs">5.9</text>
<text x="156.45" y="255.3" font-size="11.5" text-anchor="middle" textLength="16.2" lengthAdjust="spacingAndGlyphs">6.0</text>
<text x="195.35" y="255.3" font-size="11.5" text-anchor="middle" textLength="16.2" lengthAdjust="spacingAndGlyphs">6.1</text>
<text x="234.25" y="255.3" font-size="11.5" text-anchor="middle" textLength="16.2" lengthAdjust="spacingAndGlyphs">6.2</text>
<text x="273.15" y="255.3" font-size="11.5" text-anchor="middle" textLength="16.2" lengthAdjust="spacingAndGlyphs">6.3</text>
<text x="312.05" y="255.3" font-size="11.5" text-anchor="middle" textLength="16.2" lengthAdjust="spacingAndGlyphs">6.4</text>
<text x="350.95" y="255.3" font-size="11.5" text-anchor="middle" textLength="16.2" lengthAdjust="spacingAndGlyphs">6.5</text>
<text x="31.9" y="243.95" font-size="11.5" text-anchor="end" textLength="13.3" lengthAdjust="spacingAndGlyphs">−1</text>
<text x="31.9" y="214.77" font-size="11.5" text-anchor="end">0</text>
<text x="31.9" y="185.59" font-size="11.5" text-anchor="end">1</text>
<text x="31.9" y="156.41" font-size="11.5" text-anchor="end">2</text>
<rect x="404.75" y="31.2" width="311.15" height="87.55" fill="none" stroke="#262626" stroke-width="1.2"/>
<path d="M715.9 118.75v3.8M660.34 118.75v3.8M604.77 118.75v3.8M549.21 118.75v3.8M493.65 118.75v3.8M438.09 118.75v3.8" stroke="#262626" stroke-width="0.9" fill="none"/>
<path d="M715.9 118.75v1.6M704.79 118.75v1.6M693.67 118.75v1.6M682.56 118.75v1.6M671.45 118.75v1.6M660.34 118.75v1.6M649.23 118.75v1.6M638.11 118.75v1.6M627 118.75v1.6M615.89 118.75v1.6M604.77 118.75v1.6M593.66 118.75v1.6M582.55 118.75v1.6M571.44 118.75v1.6M560.33 118.75v1.6M549.21 118.75v1.6M538.1 118.75v1.6M526.99 118.75v1.6M515.88 118.75v1.6M504.76 118.75v1.6M493.65 118.75v1.6M482.54 118.75v1.6M471.43 118.75v1.6M460.31 118.75v1.6M449.2 118.75v1.6M438.09 118.75v1.6M426.98 118.75v1.6M415.86 118.75v1.6M404.75 118.75v1.6" stroke="#262626" stroke-width="0.9" fill="none"/>
<path d="M404.75 84.85h-3.8M404.75 50.95h-3.8" stroke="#262626" stroke-width="0.9" fill="none"/>
<path d="M404.75 110.28h-1.6M404.75 101.8h-1.6M404.75 93.33h-1.6M404.75 84.85h-1.6M404.75 76.38h-1.6M404.75 67.9h-1.6M404.75 59.43h-1.6M404.75 50.95h-1.6M404.75 42.48h-1.6M404.75 34h-1.6" stroke="#262626" stroke-width="0.9" fill="none"/>
<text x="715.9" y="134.3" font-size="11.5" text-anchor="middle" textLength="19.8" lengthAdjust="spacingAndGlyphs">500</text>
<text x="660.34" y="134.3" font-size="11.5" text-anchor="middle" textLength="26.4" lengthAdjust="spacingAndGlyphs">1000</text>
<text x="604.77" y="134.3" font-size="11.5" text-anchor="middle" textLength="26.4" lengthAdjust="spacingAndGlyphs">1500</text>
<text x="549.21" y="134.3" font-size="11.5" text-anchor="middle" textLength="26.4" lengthAdjust="spacingAndGlyphs">2000</text>
<text x="493.65" y="134.3" font-size="11.5" text-anchor="middle" textLength="26.4" lengthAdjust="spacingAndGlyphs">2500</text>
<text x="438.09" y="134.3" font-size="11.5" text-anchor="middle" textLength="26.4" lengthAdjust="spacingAndGlyphs">3000</text>
<text x="396.7" y="88.85" font-size="11.5" text-anchor="end">2</text>
<text x="396.7" y="54.95" font-size="11.5" text-anchor="end">4</text>
<rect x="404.75" y="152.2" width="311.15" height="87.55" fill="none" stroke="#262626" stroke-width="1.2"/>
<path d="M715.9 239.75v3.8M660.34 239.75v3.8M604.77 239.75v3.8M549.21 239.75v3.8M493.65 239.75v3.8M438.09 239.75v3.8" stroke="#262626" stroke-width="0.9" fill="none"/>
<path d="M715.9 239.75v1.6M704.79 239.75v1.6M693.67 239.75v1.6M682.56 239.75v1.6M671.45 239.75v1.6M660.34 239.75v1.6M649.23 239.75v1.6M638.11 239.75v1.6M627 239.75v1.6M615.89 239.75v1.6M604.77 239.75v1.6M593.66 239.75v1.6M582.55 239.75v1.6M571.44 239.75v1.6M560.33 239.75v1.6M549.21 239.75v1.6M538.1 239.75v1.6M526.99 239.75v1.6M515.88 239.75v1.6M504.76 239.75v1.6M493.65 239.75v1.6M482.54 239.75v1.6M471.43 239.75v1.6M460.31 239.75v1.6M449.2 239.75v1.6M438.09 239.75v1.6M426.98 239.75v1.6M415.86 239.75v1.6M404.75 239.75v1.6" stroke="#262626" stroke-width="0.9" fill="none"/>
<path d="M404.75 218.1h-3.8M404.75 195.5h-3.8M404.75 172.9h-3.8" stroke="#262626" stroke-width="0.9" fill="none"/>
<path d="M404.75 236.18h-1.6M404.75 231.66h-1.6M404.75 227.14h-1.6M404.75 222.62h-1.6M404.75 218.1h-1.6M404.75 213.58h-1.6M404.75 209.06h-1.6M404.75 204.54h-1.6M404.75 200.02h-1.6M404.75 195.5h-1.6M404.75 190.98h-1.6M404.75 186.46h-1.6M404.75 181.94h-1.6M404.75 177.42h-1.6M404.75 172.9h-1.6M404.75 168.38h-1.6M404.75 163.86h-1.6M404.75 159.34h-1.6M404.75 154.82h-1.6" stroke="#262626" stroke-width="0.9" fill="none"/>
<text x="715.9" y="255.3" font-size="11.5" text-anchor="middle" textLength="19.8" lengthAdjust="spacingAndGlyphs">500</text>
<text x="660.34" y="255.3" font-size="11.5" text-anchor="middle" textLength="26.4" lengthAdjust="spacingAndGlyphs">1000</text>
<text x="604.77" y="255.3" font-size="11.5" text-anchor="middle" textLength="26.4" lengthAdjust="spacingAndGlyphs">1500</text>
<text x="549.21" y="255.3" font-size="11.5" text-anchor="middle" textLength="26.4" lengthAdjust="spacingAndGlyphs">2000</text>
<text x="493.65" y="255.3" font-size="11.5" text-anchor="middle" textLength="26.4" lengthAdjust="spacingAndGlyphs">2500</text>
<text x="438.09" y="255.3" font-size="11.5" text-anchor="middle" textLength="26.4" lengthAdjust="spacingAndGlyphs">3000</text>
<text x="396.7" y="222.1" font-size="11.5" text-anchor="end">1</text>
<text x="396.7" y="199.5" font-size="11.5" text-anchor="end">2</text>
<text x="396.7" y="176.9" font-size="11.5" text-anchor="end">3</text>
<path d="M432.7 31.2v-3.8M500.4 31.2v-3.8M584.3 31.2v-3.8M619.6 31.2v-3.8M639.5 31.2v-3.8M709 31.2v-3.8" stroke="#262626" stroke-width="0.9" fill="none"/>
<text x="432.7" y="21.8" font-size="11.2" text-anchor="middle" textLength="17" lengthAdjust="spacingAndGlyphs">M5</text>
<text x="500.4" y="21.8" font-size="11.2" text-anchor="middle" textLength="12.8" lengthAdjust="spacingAndGlyphs">L0</text>
<text x="584.3" y="21.8" font-size="11.2" text-anchor="middle" textLength="12.8" lengthAdjust="spacingAndGlyphs">L5</text>
<text x="619.6" y="21.8" font-size="11.2" text-anchor="middle" textLength="12.8" lengthAdjust="spacingAndGlyphs">T0</text>
<text x="639.5" y="21.8" font-size="11.2" text-anchor="middle" textLength="12.8" lengthAdjust="spacingAndGlyphs">T5</text>
<text x="709" y="21.8" font-size="11.2" text-anchor="middle" textLength="12.8" lengthAdjust="spacingAndGlyphs">T9</text>
<text x="560" y="9.6" font-size="14" text-anchor="middle" textLength="88" lengthAdjust="spacingAndGlyphs">Spectral Type</text>
<text x="195.5" y="269.6" font-size="12.5" font-style="italic" text-anchor="middle" style="stroke-width:0.05px">z</text>
<text x="540" y="270.2" font-size="13"><tspan font-style="italic">T</tspan><tspan font-size="9.5" dy="2.6">eff</tspan><tspan dy="-2.6" dx="1.5"> (K)</tspan></text>
<g class="yl" transform="translate(16.6,91) rotate(-90)"><text x="-0.4" y="0" font-size="11.5" font-style="italic">i</text><path d="M4.9 -6.5L6.9 -9.3" stroke="#262626" stroke-width="1.15" stroke-linecap="round"/><text x="4.0" y="3.8" font-size="8.3">1</text><path d="M11.8 -3.3H19.2" stroke="#262626" stroke-width="0.95"/><text x="22.6" y="0" font-size="11.5" font-style="italic">z</text><path d="M29.4 -6.3L31.5 -9.2" stroke="#262626" stroke-width="1.15" stroke-linecap="round"/></g>
<g class="yl" transform="translate(9.3,211.5) rotate(-90)"><text x="0" y="0" font-size="11.5" font-style="italic">z</text><path d="M6.6 -6.2L8.8 -9.2" stroke="#262626" stroke-width="1.15" stroke-linecap="round"/><path d="M12.8 -3.1H20.8" stroke="#262626" stroke-width="0.95"/><text x="23.6" y="0.4" font-size="13" font-style="italic" style="stroke-width:0.3px">J</text></g>
<g class="yl" transform="translate(381.6,91) rotate(-90)"><text x="-0.4" y="0" font-size="11.5" font-style="italic">i</text><path d="M4.9 -6.5L6.9 -9.3" stroke="#262626" stroke-width="1.15" stroke-linecap="round"/><text x="4.0" y="3.8" font-size="8.3">1</text><path d="M11.8 -3.3H19.2" stroke="#262626" stroke-width="0.95"/><text x="22.6" y="0" font-size="11.5" font-style="italic">z</text><path d="M29.4 -6.3L31.5 -9.2" stroke="#262626" stroke-width="1.15" stroke-linecap="round"/></g>
<g class="yl" transform="translate(383.3,211.5) rotate(-90)"><text x="0" y="0" font-size="11.5" font-style="italic">z</text><path d="M6.6 -6.2L8.8 -9.2" stroke="#262626" stroke-width="1.15" stroke-linecap="round"/><path d="M12.8 -3.1H20.8" stroke="#262626" stroke-width="0.95"/><text x="23.6" y="0.4" font-size="13" font-style="italic" style="stroke-width:0.3px">J</text></g>
<rect x="44.3" y="35" width="61.5" height="26.8" rx="2" fill="#ffffff" fill-opacity="0.85" stroke="#d0d0d0" stroke-width="0.9"/>
<circle cx="55.3" cy="41.9" r="3.6" fill="#dc143c"/>
<text x="70.4" y="45.3" font-size="9.6" text-anchor="start" textLength="17.5" lengthAdjust="spacingAndGlyphs">IMS</text>
<circle cx="55.3" cy="54.4" r="2.5" fill="#4169e1"/>
<text x="70.4" y="57.6" font-size="9.6" text-anchor="start" textLength="31.6" lengthAdjust="spacingAndGlyphs">CFHQS</text>
<rect x="409.1" y="35.1" width="66.3" height="27.1" rx="2" fill="#ffffff" fill-opacity="0.85" stroke="#d0d0d0" stroke-width="0.9"/>
<circle cx="420.6" cy="42.7" r="1.5" fill="#dc143c"/>
<text x="435.8" y="45.2" font-size="9.6" text-anchor="start" textLength="16.2" lengthAdjust="spacingAndGlyphs">PS1</text>
<circle cx="420.6" cy="54.9" r="1.5" fill="#4169e1"/>
<text x="435.8" y="57.5" font-size="9.6" text-anchor="start" textLength="35.3" lengthAdjust="spacingAndGlyphs">CFHTLS</text>
</svg></body></html>
